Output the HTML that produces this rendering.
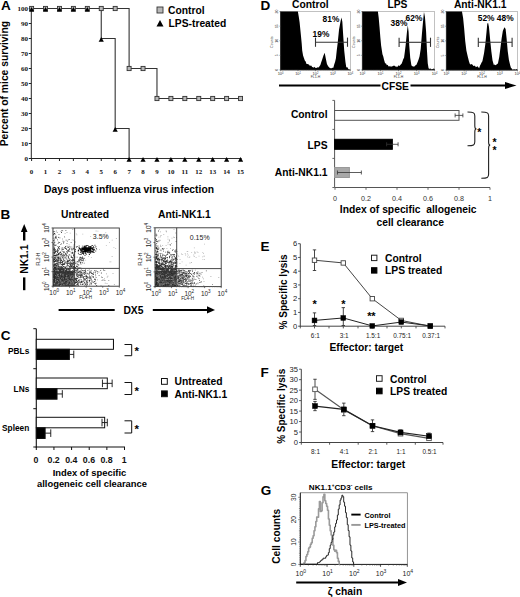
<!DOCTYPE html>
<html><head><meta charset="utf-8"><style>
html,body{margin:0;padding:0;background:#fff;width:520px;height:597px;overflow:hidden;font-family:"Liberation Sans",sans-serif}
svg{display:block}
</style></head><body>
<svg width="520" height="597" viewBox="0 0 520 597">
<rect width="520" height="597" fill="#fff"/>
<text x="0.90" y="9.90" font-family="Liberation Sans" font-size="13.5" font-weight="bold" text-anchor="start" fill="#000">A</text>
<line x1="31.30" y1="8.00" x2="31.30" y2="159.00" stroke="#222" stroke-width="1"/>
<line x1="30.80" y1="158.50" x2="241.55" y2="158.50" stroke="#222" stroke-width="1"/>
<line x1="28.80" y1="158.50" x2="31.30" y2="158.50" stroke="#222" stroke-width="1"/>
<text x="28.00" y="160.90" font-family="Liberation Serif" font-size="7" font-weight="bold" text-anchor="end" fill="#111">0</text>
<line x1="28.80" y1="143.50" x2="31.30" y2="143.50" stroke="#222" stroke-width="1"/>
<text x="28.00" y="145.90" font-family="Liberation Serif" font-size="7" font-weight="bold" text-anchor="end" fill="#111">10</text>
<line x1="28.80" y1="128.50" x2="31.30" y2="128.50" stroke="#222" stroke-width="1"/>
<text x="28.00" y="130.90" font-family="Liberation Serif" font-size="7" font-weight="bold" text-anchor="end" fill="#111">20</text>
<line x1="28.80" y1="113.50" x2="31.30" y2="113.50" stroke="#222" stroke-width="1"/>
<text x="28.00" y="115.90" font-family="Liberation Serif" font-size="7" font-weight="bold" text-anchor="end" fill="#111">30</text>
<line x1="28.80" y1="98.50" x2="31.30" y2="98.50" stroke="#222" stroke-width="1"/>
<text x="28.00" y="100.90" font-family="Liberation Serif" font-size="7" font-weight="bold" text-anchor="end" fill="#111">40</text>
<line x1="28.80" y1="83.50" x2="31.30" y2="83.50" stroke="#222" stroke-width="1"/>
<text x="28.00" y="85.90" font-family="Liberation Serif" font-size="7" font-weight="bold" text-anchor="end" fill="#111">50</text>
<line x1="28.80" y1="68.50" x2="31.30" y2="68.50" stroke="#222" stroke-width="1"/>
<text x="28.00" y="70.90" font-family="Liberation Serif" font-size="7" font-weight="bold" text-anchor="end" fill="#111">60</text>
<line x1="28.80" y1="53.50" x2="31.30" y2="53.50" stroke="#222" stroke-width="1"/>
<text x="28.00" y="55.90" font-family="Liberation Serif" font-size="7" font-weight="bold" text-anchor="end" fill="#111">70</text>
<line x1="28.80" y1="38.50" x2="31.30" y2="38.50" stroke="#222" stroke-width="1"/>
<text x="28.00" y="40.90" font-family="Liberation Serif" font-size="7" font-weight="bold" text-anchor="end" fill="#111">80</text>
<line x1="28.80" y1="23.50" x2="31.30" y2="23.50" stroke="#222" stroke-width="1"/>
<text x="28.00" y="25.90" font-family="Liberation Serif" font-size="7" font-weight="bold" text-anchor="end" fill="#111">90</text>
<line x1="28.80" y1="8.50" x2="31.30" y2="8.50" stroke="#222" stroke-width="1"/>
<text x="28.00" y="10.90" font-family="Liberation Serif" font-size="7" font-weight="bold" text-anchor="end" fill="#111">100</text>
<line x1="31.60" y1="158.50" x2="31.60" y2="161.00" stroke="#222" stroke-width="1"/>
<text x="31.60" y="173.70" font-family="Liberation Serif" font-size="6.9" font-weight="bold" text-anchor="middle" fill="#111">0</text>
<line x1="45.53" y1="158.50" x2="45.53" y2="161.00" stroke="#222" stroke-width="1"/>
<text x="45.53" y="173.70" font-family="Liberation Serif" font-size="6.9" font-weight="bold" text-anchor="middle" fill="#111">1</text>
<line x1="59.46" y1="158.50" x2="59.46" y2="161.00" stroke="#222" stroke-width="1"/>
<text x="59.46" y="173.70" font-family="Liberation Serif" font-size="6.9" font-weight="bold" text-anchor="middle" fill="#111">2</text>
<line x1="73.39" y1="158.50" x2="73.39" y2="161.00" stroke="#222" stroke-width="1"/>
<text x="73.39" y="173.70" font-family="Liberation Serif" font-size="6.9" font-weight="bold" text-anchor="middle" fill="#111">3</text>
<line x1="87.32" y1="158.50" x2="87.32" y2="161.00" stroke="#222" stroke-width="1"/>
<text x="87.32" y="173.70" font-family="Liberation Serif" font-size="6.9" font-weight="bold" text-anchor="middle" fill="#111">4</text>
<line x1="101.25" y1="158.50" x2="101.25" y2="161.00" stroke="#222" stroke-width="1"/>
<text x="101.25" y="173.70" font-family="Liberation Serif" font-size="6.9" font-weight="bold" text-anchor="middle" fill="#111">5</text>
<line x1="115.18" y1="158.50" x2="115.18" y2="161.00" stroke="#222" stroke-width="1"/>
<text x="115.18" y="173.70" font-family="Liberation Serif" font-size="6.9" font-weight="bold" text-anchor="middle" fill="#111">6</text>
<line x1="129.11" y1="158.50" x2="129.11" y2="161.00" stroke="#222" stroke-width="1"/>
<text x="129.11" y="173.70" font-family="Liberation Serif" font-size="6.9" font-weight="bold" text-anchor="middle" fill="#111">7</text>
<line x1="143.04" y1="158.50" x2="143.04" y2="161.00" stroke="#222" stroke-width="1"/>
<text x="143.04" y="173.70" font-family="Liberation Serif" font-size="6.9" font-weight="bold" text-anchor="middle" fill="#111">8</text>
<line x1="156.97" y1="158.50" x2="156.97" y2="161.00" stroke="#222" stroke-width="1"/>
<text x="156.97" y="173.70" font-family="Liberation Serif" font-size="6.9" font-weight="bold" text-anchor="middle" fill="#111">9</text>
<line x1="170.90" y1="158.50" x2="170.90" y2="161.00" stroke="#222" stroke-width="1"/>
<text x="170.90" y="173.70" font-family="Liberation Serif" font-size="6.9" font-weight="bold" text-anchor="middle" fill="#111">10</text>
<line x1="184.83" y1="158.50" x2="184.83" y2="161.00" stroke="#222" stroke-width="1"/>
<text x="184.83" y="173.70" font-family="Liberation Serif" font-size="6.9" font-weight="bold" text-anchor="middle" fill="#111">11</text>
<line x1="198.76" y1="158.50" x2="198.76" y2="161.00" stroke="#222" stroke-width="1"/>
<text x="198.76" y="173.70" font-family="Liberation Serif" font-size="6.9" font-weight="bold" text-anchor="middle" fill="#111">12</text>
<line x1="212.69" y1="158.50" x2="212.69" y2="161.00" stroke="#222" stroke-width="1"/>
<text x="212.69" y="173.70" font-family="Liberation Serif" font-size="6.9" font-weight="bold" text-anchor="middle" fill="#111">13</text>
<line x1="226.62" y1="158.50" x2="226.62" y2="161.00" stroke="#222" stroke-width="1"/>
<text x="226.62" y="173.70" font-family="Liberation Serif" font-size="6.9" font-weight="bold" text-anchor="middle" fill="#111">14</text>
<line x1="240.55" y1="158.50" x2="240.55" y2="161.00" stroke="#222" stroke-width="1"/>
<text x="240.55" y="173.70" font-family="Liberation Serif" font-size="6.9" font-weight="bold" text-anchor="middle" fill="#111">15</text>
<text x="8.20" y="83.70" font-family="Liberation Sans" font-size="10.3" font-weight="bold" text-anchor="middle" fill="#000" transform="rotate(-90 8.2 83.7)">Percent of mice surviving</text>
<text x="129.00" y="193.20" font-family="Liberation Sans" font-size="10.3" font-weight="bold" text-anchor="middle" fill="#000">Days post influenza virus infection</text>
<polyline points="31.60,8.50 45.53,8.50 59.46,8.50 73.39,8.50 87.32,8.50 101.25,8.50 115.18,8.50 129.11,8.50 129.11,68.50 143.04,68.50 156.97,68.50 156.97,98.50 170.90,98.50 184.83,98.50 198.76,98.50 212.69,98.50 226.62,98.50 240.55,98.50" fill="none" stroke="#333" stroke-width="1.1"/>
<polyline points="31.60,8.50 45.53,8.50 59.46,8.50 73.39,8.50 87.32,8.50 101.25,8.50 101.25,38.50 115.18,38.50 115.18,128.50 129.11,128.50 129.11,158.50 143.04,158.50 156.97,158.50 170.90,158.50 184.83,158.50 198.76,158.50 212.69,158.50 226.62,158.50 240.55,158.50" fill="none" stroke="#333" stroke-width="1.1"/>
<rect x="29.60" y="6.40" width="4.00" height="4.20" fill="#b8b8b8" stroke="#333" stroke-width="0.9"/>
<rect x="43.53" y="6.40" width="4.00" height="4.20" fill="#b8b8b8" stroke="#333" stroke-width="0.9"/>
<rect x="57.46" y="6.40" width="4.00" height="4.20" fill="#b8b8b8" stroke="#333" stroke-width="0.9"/>
<rect x="71.39" y="6.40" width="4.00" height="4.20" fill="#b8b8b8" stroke="#333" stroke-width="0.9"/>
<rect x="85.32" y="6.40" width="4.00" height="4.20" fill="#b8b8b8" stroke="#333" stroke-width="0.9"/>
<rect x="99.25" y="6.40" width="4.00" height="4.20" fill="#b8b8b8" stroke="#333" stroke-width="0.9"/>
<rect x="113.18" y="6.40" width="4.00" height="4.20" fill="#b8b8b8" stroke="#333" stroke-width="0.9"/>
<rect x="127.11" y="66.40" width="4.00" height="4.20" fill="#b8b8b8" stroke="#333" stroke-width="0.9"/>
<rect x="141.04" y="66.40" width="4.00" height="4.20" fill="#b8b8b8" stroke="#333" stroke-width="0.9"/>
<rect x="154.97" y="96.40" width="4.00" height="4.20" fill="#b8b8b8" stroke="#333" stroke-width="0.9"/>
<rect x="168.90" y="96.40" width="4.00" height="4.20" fill="#b8b8b8" stroke="#333" stroke-width="0.9"/>
<rect x="182.83" y="96.40" width="4.00" height="4.20" fill="#b8b8b8" stroke="#333" stroke-width="0.9"/>
<rect x="196.76" y="96.40" width="4.00" height="4.20" fill="#b8b8b8" stroke="#333" stroke-width="0.9"/>
<rect x="210.69" y="96.40" width="4.00" height="4.20" fill="#b8b8b8" stroke="#333" stroke-width="0.9"/>
<rect x="224.62" y="96.40" width="4.00" height="4.20" fill="#b8b8b8" stroke="#333" stroke-width="0.9"/>
<rect x="238.55" y="96.40" width="4.00" height="4.20" fill="#b8b8b8" stroke="#333" stroke-width="0.9"/>
<polygon points="29.00,11.69 34.20,11.69 31.60,6.91" fill="#000"/>
<polygon points="42.93,11.69 48.13,11.69 45.53,6.91" fill="#000"/>
<polygon points="56.86,11.69 62.06,11.69 59.46,6.91" fill="#000"/>
<polygon points="70.79,11.69 75.99,11.69 73.39,6.91" fill="#000"/>
<polygon points="84.72,11.69 89.92,11.69 87.32,6.91" fill="#000"/>
<polygon points="98.65,41.69 103.85,41.69 101.25,36.91" fill="#000"/>
<polygon points="112.58,131.69 117.78,131.69 115.18,126.91" fill="#000"/>
<polygon points="126.51,161.69 131.71,161.69 129.11,156.91" fill="#000"/>
<polygon points="140.44,161.69 145.64,161.69 143.04,156.91" fill="#000"/>
<polygon points="154.37,161.69 159.57,161.69 156.97,156.91" fill="#000"/>
<polygon points="168.30,161.69 173.50,161.69 170.90,156.91" fill="#000"/>
<polygon points="182.23,161.69 187.43,161.69 184.83,156.91" fill="#000"/>
<polygon points="196.16,161.69 201.36,161.69 198.76,156.91" fill="#000"/>
<polygon points="210.09,161.69 215.29,161.69 212.69,156.91" fill="#000"/>
<polygon points="224.02,161.69 229.22,161.69 226.62,156.91" fill="#000"/>
<polygon points="237.95,161.69 243.15,161.69 240.55,156.91" fill="#000"/>
<rect x="157.00" y="7.00" width="6.00" height="6.00" fill="#b8b8b8" stroke="#333" stroke-width="0.9"/>
<text x="168.00" y="14.20" font-family="Liberation Sans" font-size="10.3" font-weight="bold" text-anchor="start" fill="#000">Control</text>
<polygon points="156.50,26.42 163.50,26.42 160.00,19.98" fill="#000"/>
<text x="168.50" y="27.40" font-family="Liberation Sans" font-size="10.3" font-weight="bold" text-anchor="start" fill="#000">LPS-treated</text>
<text x="0.40" y="218.80" font-family="Liberation Sans" font-size="13.5" font-weight="bold" text-anchor="start" fill="#000">B</text>
<text x="85.00" y="217.80" font-family="Liberation Sans" font-size="10.3" font-weight="bold" text-anchor="middle" fill="#000">Untreated</text>
<text x="184.40" y="217.80" font-family="Liberation Sans" font-size="10.3" font-weight="bold" text-anchor="middle" fill="#000">Anti-NK1.1</text>
<rect x="53.00" y="228.00" width="66.30" height="58.20" fill="#fff" stroke="none" stroke-width="1"/>
<path d="M60.0 244.0h0.8v0.8h-0.8zM54.6 234.1h0.8v0.8h-0.8zM64.6 262.5h0.8v0.8h-0.8zM64.0 261.7h0.8v0.8h-0.8zM53.8 259.0h0.8v0.8h-0.8zM55.0 264.8h0.8v0.8h-0.8zM62.2 262.2h0.8v0.8h-0.8zM57.8 255.7h0.8v0.8h-0.8zM66.6 232.1h0.8v0.8h-0.8zM61.6 256.7h0.8v0.8h-0.8zM59.3 252.3h0.8v0.8h-0.8zM56.1 250.4h0.8v0.8h-0.8zM70.6 252.0h0.8v0.8h-0.8zM56.9 232.1h0.8v0.8h-0.8zM61.0 248.4h0.8v0.8h-0.8zM64.8 259.7h0.8v0.8h-0.8zM57.4 265.4h0.8v0.8h-0.8zM67.7 246.0h0.8v0.8h-0.8zM65.6 258.0h0.8v0.8h-0.8zM62.8 253.0h0.8v0.8h-0.8zM58.3 236.7h0.8v0.8h-0.8zM71.9 252.9h0.8v0.8h-0.8zM68.8 249.6h0.8v0.8h-0.8zM62.0 268.6h0.8v0.8h-0.8zM63.6 252.2h0.8v0.8h-0.8zM53.8 244.3h0.8v0.8h-0.8zM71.9 251.4h0.8v0.8h-0.8zM73.4 253.8h0.8v0.8h-0.8zM63.2 263.9h0.8v0.8h-0.8zM68.2 260.3h0.8v0.8h-0.8zM59.1 267.0h0.8v0.8h-0.8zM61.3 266.3h0.8v0.8h-0.8zM63.0 263.8h0.8v0.8h-0.8zM56.6 261.6h0.8v0.8h-0.8zM69.6 262.4h0.8v0.8h-0.8zM55.8 269.0h0.8v0.8h-0.8zM71.8 239.5h0.8v0.8h-0.8zM54.7 233.4h0.8v0.8h-0.8zM72.1 257.5h0.8v0.8h-0.8zM70.7 253.5h0.8v0.8h-0.8zM62.0 251.1h0.8v0.8h-0.8zM56.8 266.9h0.8v0.8h-0.8zM63.5 247.7h0.8v0.8h-0.8zM65.7 269.2h0.8v0.8h-0.8zM62.0 266.7h0.8v0.8h-0.8zM67.9 239.4h0.8v0.8h-0.8zM64.1 236.1h0.8v0.8h-0.8zM54.2 239.1h0.8v0.8h-0.8zM72.4 258.0h0.8v0.8h-0.8zM61.5 258.1h0.8v0.8h-0.8zM66.7 261.1h0.8v0.8h-0.8zM54.3 250.7h0.8v0.8h-0.8zM56.5 261.0h0.8v0.8h-0.8zM60.3 268.8h0.8v0.8h-0.8zM56.3 269.2h0.8v0.8h-0.8zM55.2 264.9h0.8v0.8h-0.8zM71.9 264.2h0.8v0.8h-0.8zM66.3 255.8h0.8v0.8h-0.8zM60.5 251.0h0.8v0.8h-0.8zM63.1 256.8h0.8v0.8h-0.8zM55.2 268.1h0.8v0.8h-0.8zM60.4 264.2h0.8v0.8h-0.8zM53.5 234.4h0.8v0.8h-0.8zM56.2 258.3h0.8v0.8h-0.8zM64.7 233.2h0.8v0.8h-0.8zM74.1 263.2h0.8v0.8h-0.8zM71.6 261.7h0.8v0.8h-0.8zM60.9 247.4h0.8v0.8h-0.8zM56.6 264.3h0.8v0.8h-0.8zM69.8 232.8h0.8v0.8h-0.8zM60.1 260.2h0.8v0.8h-0.8zM71.4 250.3h0.8v0.8h-0.8zM57.9 241.4h0.8v0.8h-0.8zM53.6 266.3h0.8v0.8h-0.8zM53.6 265.1h0.8v0.8h-0.8zM68.0 246.6h0.8v0.8h-0.8zM74.3 246.4h0.8v0.8h-0.8zM73.6 255.4h0.8v0.8h-0.8zM57.9 253.5h0.8v0.8h-0.8zM57.2 257.5h0.8v0.8h-0.8zM72.4 229.1h0.8v0.8h-0.8zM70.3 263.8h0.8v0.8h-0.8zM54.8 234.3h0.8v0.8h-0.8zM69.2 250.8h0.8v0.8h-0.8zM70.0 266.8h0.8v0.8h-0.8zM60.2 244.3h0.8v0.8h-0.8zM56.7 253.6h0.8v0.8h-0.8zM55.7 231.5h0.8v0.8h-0.8zM56.2 230.5h0.8v0.8h-0.8zM60.6 254.2h0.8v0.8h-0.8zM53.3 264.6h0.8v0.8h-0.8zM74.0 247.8h0.8v0.8h-0.8zM73.2 239.8h0.8v0.8h-0.8zM62.4 230.5h0.8v0.8h-0.8zM58.4 263.5h0.8v0.8h-0.8zM65.7 248.0h0.8v0.8h-0.8zM58.6 255.5h0.8v0.8h-0.8zM72.7 261.7h0.8v0.8h-0.8zM60.6 231.1h0.8v0.8h-0.8zM72.5 259.1h0.8v0.8h-0.8zM62.1 238.6h0.8v0.8h-0.8zM64.5 251.9h0.8v0.8h-0.8zM64.3 237.3h0.8v0.8h-0.8zM57.0 265.6h0.8v0.8h-0.8zM53.1 263.8h0.8v0.8h-0.8zM63.2 251.8h0.8v0.8h-0.8zM68.7 244.4h0.8v0.8h-0.8zM64.2 260.1h0.8v0.8h-0.8zM65.0 266.4h0.8v0.8h-0.8zM65.1 255.5h0.8v0.8h-0.8z" fill="#999"/>
<path d="M58.4 265.6h0.8v0.8h-0.8zM64.0 247.4h0.8v0.8h-0.8zM65.1 267.6h0.8v0.8h-0.8zM62.6 240.8h0.8v0.8h-0.8zM66.2 253.8h0.8v0.8h-0.8zM68.0 268.9h0.8v0.8h-0.8zM62.8 254.9h0.8v0.8h-0.8zM73.3 266.3h0.8v0.8h-0.8zM68.1 247.2h0.8v0.8h-0.8zM58.6 247.7h0.8v0.8h-0.8zM65.1 246.1h0.8v0.8h-0.8zM56.0 260.7h0.8v0.8h-0.8zM55.6 264.7h0.8v0.8h-0.8zM58.2 267.6h0.8v0.8h-0.8zM54.6 258.4h0.8v0.8h-0.8zM72.4 249.5h0.8v0.8h-0.8zM56.3 265.4h0.8v0.8h-0.8zM56.1 250.7h0.8v0.8h-0.8zM72.1 260.4h0.8v0.8h-0.8zM73.6 267.5h0.8v0.8h-0.8zM61.6 230.1h0.8v0.8h-0.8zM71.0 266.2h0.8v0.8h-0.8zM56.5 255.2h0.8v0.8h-0.8zM60.3 262.9h0.8v0.8h-0.8zM57.2 260.7h0.8v0.8h-0.8zM53.4 250.5h0.8v0.8h-0.8zM65.0 267.1h0.8v0.8h-0.8zM60.2 268.5h0.8v0.8h-0.8zM66.5 264.7h0.8v0.8h-0.8zM74.3 269.0h0.8v0.8h-0.8zM70.0 263.4h0.8v0.8h-0.8zM58.7 268.3h0.8v0.8h-0.8zM53.9 267.5h0.8v0.8h-0.8zM55.8 259.2h0.8v0.8h-0.8zM62.1 249.0h0.8v0.8h-0.8zM58.6 256.7h0.8v0.8h-0.8zM56.2 254.6h0.8v0.8h-0.8zM68.1 261.2h0.8v0.8h-0.8zM54.9 250.8h0.8v0.8h-0.8zM62.2 262.4h0.8v0.8h-0.8zM54.6 252.3h0.8v0.8h-0.8zM70.3 262.4h0.8v0.8h-0.8zM54.8 266.4h0.8v0.8h-0.8zM71.6 265.6h0.8v0.8h-0.8zM62.8 260.6h0.8v0.8h-0.8zM73.0 255.4h0.8v0.8h-0.8zM58.8 258.5h0.8v0.8h-0.8zM58.2 257.9h0.8v0.8h-0.8zM55.4 267.2h0.8v0.8h-0.8zM57.4 265.9h0.8v0.8h-0.8zM59.7 262.0h0.8v0.8h-0.8zM59.3 248.8h0.8v0.8h-0.8zM63.8 264.1h0.8v0.8h-0.8zM53.4 258.6h0.8v0.8h-0.8zM58.4 248.4h0.8v0.8h-0.8zM64.9 267.4h0.8v0.8h-0.8zM57.1 239.4h0.8v0.8h-0.8zM55.3 264.6h0.8v0.8h-0.8zM70.7 255.6h0.8v0.8h-0.8zM71.0 263.1h0.8v0.8h-0.8zM61.5 249.6h0.8v0.8h-0.8zM74.2 268.6h0.8v0.8h-0.8zM60.4 259.3h0.8v0.8h-0.8zM66.7 251.7h0.8v0.8h-0.8zM61.7 266.9h0.8v0.8h-0.8zM55.8 265.8h0.8v0.8h-0.8zM54.5 268.8h0.8v0.8h-0.8zM56.5 259.4h0.8v0.8h-0.8zM54.8 255.1h0.8v0.8h-0.8zM67.5 247.3h0.8v0.8h-0.8zM59.1 268.9h0.8v0.8h-0.8zM62.9 258.6h0.8v0.8h-0.8zM56.4 259.8h0.8v0.8h-0.8zM73.8 266.0h0.8v0.8h-0.8zM74.0 260.1h0.8v0.8h-0.8zM73.9 266.6h0.8v0.8h-0.8zM59.7 269.0h0.8v0.8h-0.8zM61.2 268.9h0.8v0.8h-0.8zM63.3 260.7h0.8v0.8h-0.8zM63.9 269.2h0.8v0.8h-0.8zM53.1 268.9h0.8v0.8h-0.8zM61.6 263.8h0.8v0.8h-0.8zM53.9 258.4h0.8v0.8h-0.8zM58.0 267.8h0.8v0.8h-0.8zM65.6 248.1h0.8v0.8h-0.8zM67.2 265.4h0.8v0.8h-0.8zM68.5 260.0h0.8v0.8h-0.8zM60.0 260.5h0.8v0.8h-0.8zM74.3 257.1h0.8v0.8h-0.8zM66.9 252.6h0.8v0.8h-0.8zM53.9 255.4h0.8v0.8h-0.8zM66.6 245.8h0.8v0.8h-0.8zM68.9 266.7h0.8v0.8h-0.8zM64.3 262.8h0.8v0.8h-0.8zM63.9 257.4h0.8v0.8h-0.8zM70.9 249.2h0.8v0.8h-0.8zM65.6 254.0h0.8v0.8h-0.8zM68.0 257.1h0.8v0.8h-0.8zM58.0 262.6h0.8v0.8h-0.8zM60.8 268.0h0.8v0.8h-0.8zM55.3 260.9h0.8v0.8h-0.8zM66.6 255.1h0.8v0.8h-0.8zM66.5 263.0h0.8v0.8h-0.8zM53.1 255.7h0.8v0.8h-0.8zM70.2 269.2h0.8v0.8h-0.8zM64.6 254.0h0.8v0.8h-0.8zM67.2 250.0h0.8v0.8h-0.8zM58.4 260.8h0.8v0.8h-0.8zM54.6 267.3h0.8v0.8h-0.8zM57.4 248.5h0.8v0.8h-0.8zM69.0 254.4h0.8v0.8h-0.8zM61.3 267.1h0.8v0.8h-0.8zM63.3 260.4h0.8v0.8h-0.8zM66.3 249.1h0.8v0.8h-0.8zM66.9 262.9h0.8v0.8h-0.8zM58.5 266.0h0.8v0.8h-0.8zM69.1 263.8h0.8v0.8h-0.8zM53.3 253.5h0.8v0.8h-0.8zM54.3 267.1h0.8v0.8h-0.8zM68.0 250.1h0.8v0.8h-0.8zM67.6 265.4h0.8v0.8h-0.8zM63.0 254.2h0.8v0.8h-0.8zM63.1 249.2h0.8v0.8h-0.8zM57.3 250.7h0.8v0.8h-0.8zM74.1 267.2h0.8v0.8h-0.8zM62.9 268.4h0.8v0.8h-0.8zM70.7 255.5h0.8v0.8h-0.8zM58.8 266.6h0.8v0.8h-0.8zM57.5 261.0h0.8v0.8h-0.8zM65.6 266.4h0.8v0.8h-0.8zM56.1 237.6h0.8v0.8h-0.8zM55.9 264.6h0.8v0.8h-0.8zM70.7 242.3h0.8v0.8h-0.8zM68.2 267.9h0.8v0.8h-0.8zM58.0 257.4h0.8v0.8h-0.8zM53.5 260.4h0.8v0.8h-0.8zM53.1 255.2h0.8v0.8h-0.8zM59.5 268.7h0.8v0.8h-0.8zM56.0 263.1h0.8v0.8h-0.8zM71.1 260.0h0.8v0.8h-0.8zM53.0 269.3h0.8v0.8h-0.8zM55.6 244.5h0.8v0.8h-0.8zM73.0 263.0h0.8v0.8h-0.8zM59.3 242.2h0.8v0.8h-0.8zM61.0 232.1h0.8v0.8h-0.8zM65.7 239.7h0.8v0.8h-0.8zM60.8 260.0h0.8v0.8h-0.8zM54.0 264.8h0.8v0.8h-0.8zM55.2 264.0h0.8v0.8h-0.8zM73.2 260.2h0.8v0.8h-0.8zM58.4 267.9h0.8v0.8h-0.8zM57.1 253.9h0.8v0.8h-0.8zM61.1 243.4h0.8v0.8h-0.8zM70.5 262.1h0.8v0.8h-0.8zM66.6 243.0h0.8v0.8h-0.8zM64.9 253.4h0.8v0.8h-0.8zM68.5 249.3h0.8v0.8h-0.8zM62.7 262.9h0.8v0.8h-0.8zM69.3 262.8h0.8v0.8h-0.8zM54.1 261.0h0.8v0.8h-0.8zM73.0 259.2h0.8v0.8h-0.8zM60.4 258.9h0.8v0.8h-0.8zM59.4 267.0h0.8v0.8h-0.8zM58.6 233.9h0.8v0.8h-0.8zM67.2 264.2h0.8v0.8h-0.8zM61.5 253.6h0.8v0.8h-0.8zM56.6 264.7h0.8v0.8h-0.8zM72.6 261.9h0.8v0.8h-0.8zM63.7 264.1h0.8v0.8h-0.8zM74.5 241.6h0.8v0.8h-0.8zM62.7 264.0h0.8v0.8h-0.8zM55.0 262.9h0.8v0.8h-0.8zM60.4 261.3h0.8v0.8h-0.8zM58.6 264.2h0.8v0.8h-0.8zM65.3 253.0h0.8v0.8h-0.8zM61.9 255.3h0.8v0.8h-0.8zM61.9 256.9h0.8v0.8h-0.8zM60.3 267.5h0.8v0.8h-0.8zM54.3 263.5h0.8v0.8h-0.8zM55.7 235.8h0.8v0.8h-0.8zM63.9 251.6h0.8v0.8h-0.8zM57.7 250.6h0.8v0.8h-0.8zM58.9 269.3h0.8v0.8h-0.8zM62.6 256.3h0.8v0.8h-0.8zM73.6 254.1h0.8v0.8h-0.8zM53.5 247.9h0.8v0.8h-0.8zM53.7 262.4h0.8v0.8h-0.8zM63.2 242.6h0.8v0.8h-0.8zM65.7 256.4h0.8v0.8h-0.8zM73.0 269.4h0.8v0.8h-0.8zM70.8 248.0h0.8v0.8h-0.8zM58.4 242.0h0.8v0.8h-0.8zM55.4 260.5h0.8v0.8h-0.8zM67.7 256.4h0.8v0.8h-0.8zM73.3 266.1h0.8v0.8h-0.8zM69.5 250.9h0.8v0.8h-0.8zM62.9 265.9h0.8v0.8h-0.8zM69.9 268.2h0.8v0.8h-0.8zM58.0 253.0h0.8v0.8h-0.8zM59.6 260.4h0.8v0.8h-0.8zM55.8 269.2h0.8v0.8h-0.8zM68.1 250.9h0.8v0.8h-0.8zM55.4 255.1h0.8v0.8h-0.8zM65.6 262.6h0.8v0.8h-0.8zM61.4 266.5h0.8v0.8h-0.8zM53.2 252.0h0.8v0.8h-0.8zM59.5 237.5h0.8v0.8h-0.8zM66.9 261.4h0.8v0.8h-0.8zM72.1 260.0h0.8v0.8h-0.8zM58.3 267.9h0.8v0.8h-0.8zM73.7 266.3h0.8v0.8h-0.8zM53.5 258.7h0.8v0.8h-0.8zM63.8 263.2h0.8v0.8h-0.8zM58.6 257.3h0.8v0.8h-0.8zM67.4 261.1h0.8v0.8h-0.8zM53.7 265.2h0.8v0.8h-0.8zM60.3 252.1h0.8v0.8h-0.8zM57.3 260.0h0.8v0.8h-0.8zM70.2 268.3h0.8v0.8h-0.8zM57.4 254.0h0.8v0.8h-0.8zM73.9 260.3h0.8v0.8h-0.8zM58.0 247.1h0.8v0.8h-0.8zM57.8 268.7h0.8v0.8h-0.8zM73.6 258.6h0.8v0.8h-0.8zM63.7 265.9h0.8v0.8h-0.8zM62.0 260.9h0.8v0.8h-0.8zM67.4 262.5h0.8v0.8h-0.8zM61.5 267.1h0.8v0.8h-0.8zM57.6 262.3h0.8v0.8h-0.8zM54.1 268.2h0.8v0.8h-0.8zM54.3 247.6h0.8v0.8h-0.8zM72.1 252.1h0.8v0.8h-0.8zM68.8 239.3h0.8v0.8h-0.8zM60.1 268.9h0.8v0.8h-0.8zM57.0 249.6h0.8v0.8h-0.8zM53.7 261.0h0.8v0.8h-0.8zM67.4 260.3h0.8v0.8h-0.8zM60.2 260.7h0.8v0.8h-0.8zM56.7 258.9h0.8v0.8h-0.8zM60.6 269.2h0.8v0.8h-0.8zM73.6 245.5h0.8v0.8h-0.8zM57.5 245.9h0.8v0.8h-0.8zM60.7 258.9h0.8v0.8h-0.8zM62.3 247.6h0.8v0.8h-0.8zM54.1 257.0h0.8v0.8h-0.8zM72.9 267.3h0.8v0.8h-0.8zM57.2 251.2h0.8v0.8h-0.8zM53.7 248.5h0.8v0.8h-0.8zM61.9 261.0h0.8v0.8h-0.8zM53.9 248.9h0.8v0.8h-0.8zM53.8 242.4h0.8v0.8h-0.8zM58.6 258.2h0.8v0.8h-0.8zM69.1 259.9h0.8v0.8h-0.8zM58.9 262.4h0.8v0.8h-0.8zM73.7 261.9h0.8v0.8h-0.8zM68.5 262.6h0.8v0.8h-0.8zM59.8 269.2h0.8v0.8h-0.8zM69.3 268.3h0.8v0.8h-0.8zM72.8 248.7h0.8v0.8h-0.8zM53.5 246.2h0.8v0.8h-0.8zM58.1 237.2h0.8v0.8h-0.8zM73.6 264.3h0.8v0.8h-0.8zM61.3 269.3h0.8v0.8h-0.8zM63.7 255.6h0.8v0.8h-0.8zM73.0 259.8h0.8v0.8h-0.8zM69.0 248.0h0.8v0.8h-0.8zM70.8 266.9h0.8v0.8h-0.8zM60.1 251.8h0.8v0.8h-0.8zM59.9 254.7h0.8v0.8h-0.8zM54.7 252.1h0.8v0.8h-0.8zM57.3 269.2h0.8v0.8h-0.8zM54.4 259.6h0.8v0.8h-0.8zM53.7 258.5h0.8v0.8h-0.8zM74.2 265.7h0.8v0.8h-0.8zM72.1 259.2h0.8v0.8h-0.8zM54.8 268.6h0.8v0.8h-0.8zM55.1 249.0h0.8v0.8h-0.8zM62.7 269.2h0.8v0.8h-0.8zM58.1 253.7h0.8v0.8h-0.8zM67.6 260.4h0.8v0.8h-0.8zM69.2 258.4h0.8v0.8h-0.8zM55.6 253.6h0.8v0.8h-0.8zM71.2 264.8h0.8v0.8h-0.8zM61.1 253.2h0.8v0.8h-0.8zM68.9 266.3h0.8v0.8h-0.8zM58.3 260.1h0.8v0.8h-0.8zM56.3 256.6h0.8v0.8h-0.8zM60.0 258.0h0.8v0.8h-0.8zM61.6 253.9h0.8v0.8h-0.8zM58.0 268.7h0.8v0.8h-0.8zM70.5 246.6h0.8v0.8h-0.8zM55.2 236.7h0.8v0.8h-0.8zM63.3 258.9h0.8v0.8h-0.8zM72.8 246.8h0.8v0.8h-0.8zM53.9 267.6h0.8v0.8h-0.8zM57.1 263.1h0.8v0.8h-0.8zM74.0 243.4h0.8v0.8h-0.8zM61.0 254.4h0.8v0.8h-0.8zM71.7 259.8h0.8v0.8h-0.8zM69.8 266.2h0.8v0.8h-0.8zM73.4 255.6h0.8v0.8h-0.8zM66.4 258.6h0.8v0.8h-0.8zM57.7 264.5h0.8v0.8h-0.8zM57.4 264.1h0.8v0.8h-0.8zM58.5 254.1h0.8v0.8h-0.8zM57.4 258.4h0.8v0.8h-0.8zM53.2 260.3h0.8v0.8h-0.8zM57.0 252.1h0.8v0.8h-0.8zM59.7 262.7h0.8v0.8h-0.8zM64.8 247.2h0.8v0.8h-0.8zM54.4 258.9h0.8v0.8h-0.8zM64.9 261.6h0.8v0.8h-0.8zM66.8 262.9h0.8v0.8h-0.8zM68.0 265.2h0.8v0.8h-0.8zM61.9 267.1h0.8v0.8h-0.8zM73.6 258.5h0.8v0.8h-0.8zM59.7 258.2h0.8v0.8h-0.8zM62.0 264.4h0.8v0.8h-0.8zM71.7 257.0h0.8v0.8h-0.8zM57.3 269.1h0.8v0.8h-0.8zM68.7 269.0h0.8v0.8h-0.8zM72.5 268.0h0.8v0.8h-0.8zM62.2 263.7h0.8v0.8h-0.8zM72.1 257.4h0.8v0.8h-0.8zM63.0 268.2h0.8v0.8h-0.8zM64.9 267.5h0.8v0.8h-0.8zM66.8 264.7h0.8v0.8h-0.8zM66.4 266.4h0.8v0.8h-0.8zM61.0 262.1h0.8v0.8h-0.8zM59.1 269.2h0.8v0.8h-0.8zM64.3 263.8h0.8v0.8h-0.8zM63.6 266.6h0.8v0.8h-0.8zM70.4 261.0h0.8v0.8h-0.8zM55.7 267.6h0.8v0.8h-0.8zM73.4 254.6h0.8v0.8h-0.8zM54.2 267.1h0.8v0.8h-0.8zM73.0 247.9h0.8v0.8h-0.8zM66.4 251.2h0.8v0.8h-0.8zM70.8 257.2h0.8v0.8h-0.8zM57.8 250.1h0.8v0.8h-0.8zM61.7 255.5h0.8v0.8h-0.8zM57.0 249.3h0.8v0.8h-0.8zM57.7 256.7h0.8v0.8h-0.8zM61.3 260.1h0.8v0.8h-0.8zM55.7 269.0h0.8v0.8h-0.8zM72.4 248.5h0.8v0.8h-0.8zM53.9 249.2h0.8v0.8h-0.8zM53.8 261.0h0.8v0.8h-0.8zM71.1 256.4h0.8v0.8h-0.8zM64.9 257.5h0.8v0.8h-0.8zM66.5 264.7h0.8v0.8h-0.8zM65.6 256.7h0.8v0.8h-0.8zM62.2 261.7h0.8v0.8h-0.8zM62.5 257.5h0.8v0.8h-0.8zM53.5 258.3h0.8v0.8h-0.8zM58.1 259.2h0.8v0.8h-0.8zM69.5 266.7h0.8v0.8h-0.8zM56.9 255.3h0.8v0.8h-0.8zM63.2 264.1h0.8v0.8h-0.8zM62.3 265.2h0.8v0.8h-0.8zM55.0 254.9h0.8v0.8h-0.8zM53.9 263.9h0.8v0.8h-0.8zM66.7 251.0h0.8v0.8h-0.8zM69.8 259.0h0.8v0.8h-0.8zM64.0 254.9h0.8v0.8h-0.8zM61.2 264.3h0.8v0.8h-0.8zM73.5 252.6h0.8v0.8h-0.8zM74.5 250.0h0.8v0.8h-0.8zM68.8 266.0h0.8v0.8h-0.8zM74.2 261.6h0.8v0.8h-0.8zM63.6 241.5h0.8v0.8h-0.8zM56.6 261.6h0.8v0.8h-0.8zM70.0 265.1h0.8v0.8h-0.8zM60.6 267.4h0.8v0.8h-0.8zM69.3 254.4h0.8v0.8h-0.8zM58.9 246.1h0.8v0.8h-0.8zM70.6 259.9h0.8v0.8h-0.8zM72.9 257.4h0.8v0.8h-0.8zM57.5 268.2h0.8v0.8h-0.8zM59.9 254.0h0.8v0.8h-0.8zM53.8 266.2h0.8v0.8h-0.8zM73.2 262.4h0.8v0.8h-0.8zM67.7 263.1h0.8v0.8h-0.8zM70.0 264.6h0.8v0.8h-0.8zM55.5 251.3h0.8v0.8h-0.8zM60.8 265.9h0.8v0.8h-0.8zM71.9 253.3h0.8v0.8h-0.8zM72.1 263.6h0.8v0.8h-0.8zM55.3 251.1h0.8v0.8h-0.8zM61.5 268.6h0.8v0.8h-0.8zM70.2 265.7h0.8v0.8h-0.8zM65.5 229.9h0.8v0.8h-0.8zM60.8 268.1h0.8v0.8h-0.8zM56.8 255.4h0.8v0.8h-0.8zM69.1 246.4h0.8v0.8h-0.8zM58.5 262.2h0.8v0.8h-0.8zM66.8 252.2h0.8v0.8h-0.8zM67.3 267.7h0.8v0.8h-0.8zM59.8 266.0h0.8v0.8h-0.8zM56.2 269.4h0.8v0.8h-0.8zM66.3 255.2h0.8v0.8h-0.8zM72.3 263.0h0.8v0.8h-0.8zM55.9 266.7h0.8v0.8h-0.8zM53.5 250.7h0.8v0.8h-0.8zM53.1 265.6h0.8v0.8h-0.8zM60.7 264.5h0.8v0.8h-0.8zM57.8 254.4h0.8v0.8h-0.8zM57.4 260.7h0.8v0.8h-0.8zM66.5 262.5h0.8v0.8h-0.8zM73.2 268.3h0.8v0.8h-0.8zM58.3 266.0h0.8v0.8h-0.8zM66.8 264.7h0.8v0.8h-0.8zM71.8 266.8h0.8v0.8h-0.8zM58.7 256.5h0.8v0.8h-0.8zM53.2 259.2h0.8v0.8h-0.8zM60.6 256.2h0.8v0.8h-0.8zM66.9 240.7h0.8v0.8h-0.8zM68.8 258.8h0.8v0.8h-0.8zM58.4 266.2h0.8v0.8h-0.8zM64.5 267.2h0.8v0.8h-0.8zM61.8 269.1h0.8v0.8h-0.8zM69.8 264.9h0.8v0.8h-0.8zM53.3 240.0h0.8v0.8h-0.8zM56.1 259.7h0.8v0.8h-0.8zM57.3 257.4h0.8v0.8h-0.8zM66.9 259.7h0.8v0.8h-0.8zM70.6 264.3h0.8v0.8h-0.8zM59.5 259.4h0.8v0.8h-0.8zM54.0 252.0h0.8v0.8h-0.8zM68.5 254.8h0.8v0.8h-0.8zM53.1 257.4h0.8v0.8h-0.8zM63.0 251.6h0.8v0.8h-0.8zM69.0 260.5h0.8v0.8h-0.8zM55.3 266.7h0.8v0.8h-0.8zM58.0 258.0h0.8v0.8h-0.8zM69.2 266.6h0.8v0.8h-0.8zM68.0 257.8h0.8v0.8h-0.8zM58.7 252.5h0.8v0.8h-0.8zM65.0 248.3h0.8v0.8h-0.8zM64.3 260.4h0.8v0.8h-0.8zM58.7 248.3h0.8v0.8h-0.8zM57.7 243.2h0.8v0.8h-0.8zM72.0 259.3h0.8v0.8h-0.8zM58.1 268.4h0.8v0.8h-0.8zM69.1 249.2h0.8v0.8h-0.8zM60.1 262.1h0.8v0.8h-0.8zM72.0 264.8h0.8v0.8h-0.8zM72.6 260.9h0.8v0.8h-0.8zM66.6 262.6h0.8v0.8h-0.8zM74.1 251.4h0.8v0.8h-0.8zM63.1 258.7h0.8v0.8h-0.8zM71.5 252.4h0.8v0.8h-0.8zM62.4 266.7h0.8v0.8h-0.8zM59.6 252.7h0.8v0.8h-0.8zM57.6 265.6h0.8v0.8h-0.8zM72.7 265.8h0.8v0.8h-0.8zM56.1 263.3h0.8v0.8h-0.8zM73.1 268.4h0.8v0.8h-0.8zM60.4 267.4h0.8v0.8h-0.8zM53.9 267.0h0.8v0.8h-0.8zM68.0 256.0h0.8v0.8h-0.8zM68.9 254.4h0.8v0.8h-0.8zM54.4 259.0h0.8v0.8h-0.8zM70.7 262.7h0.8v0.8h-0.8zM70.7 265.7h0.8v0.8h-0.8zM71.7 266.4h0.8v0.8h-0.8zM72.8 263.6h0.8v0.8h-0.8zM57.4 267.3h0.8v0.8h-0.8zM55.4 244.8h0.8v0.8h-0.8zM70.5 264.0h0.8v0.8h-0.8zM66.7 261.1h0.8v0.8h-0.8zM59.2 253.0h0.8v0.8h-0.8zM55.2 251.5h0.8v0.8h-0.8zM57.4 256.8h0.8v0.8h-0.8zM59.9 267.0h0.8v0.8h-0.8zM58.5 268.2h0.8v0.8h-0.8zM59.1 266.7h0.8v0.8h-0.8zM59.9 257.2h0.8v0.8h-0.8zM73.8 244.0h0.8v0.8h-0.8zM66.4 268.8h0.8v0.8h-0.8z" fill="#2a2a2a"/>
<path d="M85.7 276.4h0.8v0.8h-0.8zM76.8 281.8h0.8v0.8h-0.8zM84.4 278.0h0.8v0.8h-0.8zM88.7 272.9h0.8v0.8h-0.8zM77.7 282.5h0.8v0.8h-0.8zM78.3 272.1h0.8v0.8h-0.8zM82.0 281.6h0.8v0.8h-0.8zM74.7 285.0h0.8v0.8h-0.8zM87.4 277.3h0.8v0.8h-0.8zM75.0 282.1h0.8v0.8h-0.8zM79.7 275.0h0.8v0.8h-0.8zM86.4 282.7h0.8v0.8h-0.8zM76.4 273.9h0.8v0.8h-0.8zM100.9 272.8h0.8v0.8h-0.8zM78.6 271.2h0.8v0.8h-0.8zM86.9 279.6h0.8v0.8h-0.8zM91.5 280.6h0.8v0.8h-0.8zM84.0 282.0h0.8v0.8h-0.8zM81.8 275.8h0.8v0.8h-0.8zM82.0 275.7h0.8v0.8h-0.8zM78.2 283.6h0.8v0.8h-0.8zM77.6 269.8h0.8v0.8h-0.8zM76.9 283.8h0.8v0.8h-0.8zM82.9 277.4h0.8v0.8h-0.8zM91.2 273.1h0.8v0.8h-0.8zM90.3 276.8h0.8v0.8h-0.8zM92.7 281.4h0.8v0.8h-0.8zM78.2 279.7h0.8v0.8h-0.8zM80.3 271.9h0.8v0.8h-0.8zM82.6 282.9h0.8v0.8h-0.8zM84.1 272.1h0.8v0.8h-0.8zM90.0 276.4h0.8v0.8h-0.8zM76.7 271.4h0.8v0.8h-0.8zM88.9 276.8h0.8v0.8h-0.8zM80.7 272.5h0.8v0.8h-0.8zM80.0 274.2h0.8v0.8h-0.8zM80.7 271.9h0.8v0.8h-0.8zM94.9 271.9h0.8v0.8h-0.8zM74.7 277.8h0.8v0.8h-0.8zM84.4 272.0h0.8v0.8h-0.8zM78.0 285.0h0.8v0.8h-0.8zM80.9 281.1h0.8v0.8h-0.8zM97.2 271.0h0.8v0.8h-0.8zM91.4 275.5h0.8v0.8h-0.8zM94.1 281.1h0.8v0.8h-0.8zM76.6 276.4h0.8v0.8h-0.8zM79.8 271.1h0.8v0.8h-0.8zM89.4 272.7h0.8v0.8h-0.8zM76.8 275.8h0.8v0.8h-0.8zM76.5 282.1h0.8v0.8h-0.8zM79.1 279.5h0.8v0.8h-0.8zM86.8 276.8h0.8v0.8h-0.8zM84.0 275.9h0.8v0.8h-0.8zM86.2 281.3h0.8v0.8h-0.8zM84.4 278.6h0.8v0.8h-0.8zM81.0 281.4h0.8v0.8h-0.8zM81.6 281.0h0.8v0.8h-0.8zM78.4 283.5h0.8v0.8h-0.8zM77.2 283.0h0.8v0.8h-0.8zM91.5 280.3h0.8v0.8h-0.8zM82.2 274.4h0.8v0.8h-0.8zM84.0 279.5h0.8v0.8h-0.8zM84.0 281.9h0.8v0.8h-0.8zM81.2 280.8h0.8v0.8h-0.8zM80.3 276.2h0.8v0.8h-0.8zM80.7 276.7h0.8v0.8h-0.8zM82.8 280.2h0.8v0.8h-0.8zM82.4 284.3h0.8v0.8h-0.8zM81.1 281.9h0.8v0.8h-0.8zM89.2 275.6h0.8v0.8h-0.8zM104.4 270.0h0.8v0.8h-0.8zM76.5 278.1h0.8v0.8h-0.8zM84.8 284.4h0.8v0.8h-0.8zM90.9 277.7h0.8v0.8h-0.8zM86.2 278.1h0.8v0.8h-0.8zM83.1 280.9h0.8v0.8h-0.8zM90.3 282.7h0.8v0.8h-0.8zM75.8 277.7h0.8v0.8h-0.8zM97.2 272.8h0.8v0.8h-0.8zM88.9 280.3h0.8v0.8h-0.8zM89.2 271.4h0.8v0.8h-0.8zM86.3 285.2h0.8v0.8h-0.8zM76.9 273.8h0.8v0.8h-0.8zM77.6 275.8h0.8v0.8h-0.8zM86.0 276.1h0.8v0.8h-0.8zM75.6 280.6h0.8v0.8h-0.8zM79.8 273.0h0.8v0.8h-0.8zM81.5 281.3h0.8v0.8h-0.8zM87.1 272.9h0.8v0.8h-0.8zM79.6 282.2h0.8v0.8h-0.8zM80.5 271.5h0.8v0.8h-0.8zM79.4 281.8h0.8v0.8h-0.8zM80.3 276.9h0.8v0.8h-0.8zM89.1 278.4h0.8v0.8h-0.8zM78.9 275.1h0.8v0.8h-0.8zM102.6 279.6h0.8v0.8h-0.8zM83.1 276.9h0.8v0.8h-0.8zM93.0 274.1h0.8v0.8h-0.8zM80.0 282.7h0.8v0.8h-0.8zM76.3 275.1h0.8v0.8h-0.8zM79.7 275.4h0.8v0.8h-0.8zM81.6 273.5h0.8v0.8h-0.8zM80.9 269.4h0.8v0.8h-0.8zM77.8 280.9h0.8v0.8h-0.8zM76.2 274.2h0.8v0.8h-0.8zM82.7 277.1h0.8v0.8h-0.8zM88.7 279.9h0.8v0.8h-0.8zM81.4 275.2h0.8v0.8h-0.8zM94.1 270.3h0.8v0.8h-0.8zM84.0 282.6h0.8v0.8h-0.8zM90.6 271.6h0.8v0.8h-0.8zM85.3 282.7h0.8v0.8h-0.8zM75.9 269.6h0.8v0.8h-0.8zM76.0 284.6h0.8v0.8h-0.8zM79.2 271.0h0.8v0.8h-0.8zM81.5 271.7h0.8v0.8h-0.8zM76.6 274.9h0.8v0.8h-0.8zM93.5 271.8h0.8v0.8h-0.8zM90.7 272.1h0.8v0.8h-0.8zM85.6 283.7h0.8v0.8h-0.8zM89.5 280.1h0.8v0.8h-0.8zM86.7 283.7h0.8v0.8h-0.8zM79.6 272.6h0.8v0.8h-0.8zM95.0 280.5h0.8v0.8h-0.8zM92.4 276.4h0.8v0.8h-0.8zM78.1 283.5h0.8v0.8h-0.8zM82.7 273.1h0.8v0.8h-0.8zM77.5 271.6h0.8v0.8h-0.8zM78.4 276.9h0.8v0.8h-0.8zM74.8 271.7h0.8v0.8h-0.8zM87.5 278.0h0.8v0.8h-0.8zM75.3 283.2h0.8v0.8h-0.8zM95.7 276.9h0.8v0.8h-0.8zM75.5 278.4h0.8v0.8h-0.8zM85.3 275.4h0.8v0.8h-0.8zM92.8 276.1h0.8v0.8h-0.8zM78.8 279.6h0.8v0.8h-0.8zM75.7 279.6h0.8v0.8h-0.8zM89.4 280.3h0.8v0.8h-0.8zM77.3 284.3h0.8v0.8h-0.8zM89.7 277.6h0.8v0.8h-0.8zM101.8 277.2h0.8v0.8h-0.8zM76.9 280.9h0.8v0.8h-0.8zM76.3 279.4h0.8v0.8h-0.8zM86.2 275.3h0.8v0.8h-0.8zM93.2 277.0h0.8v0.8h-0.8zM93.2 272.8h0.8v0.8h-0.8zM77.6 276.4h0.8v0.8h-0.8zM86.9 282.6h0.8v0.8h-0.8zM81.1 274.1h0.8v0.8h-0.8zM79.8 277.5h0.8v0.8h-0.8zM84.5 273.7h0.8v0.8h-0.8zM104.5 279.9h0.8v0.8h-0.8zM75.8 282.1h0.8v0.8h-0.8zM79.3 274.2h0.8v0.8h-0.8zM83.0 278.8h0.8v0.8h-0.8zM87.4 270.0h0.8v0.8h-0.8zM89.0 281.0h0.8v0.8h-0.8zM85.0 270.2h0.8v0.8h-0.8zM83.7 274.2h0.8v0.8h-0.8zM81.7 284.1h0.8v0.8h-0.8zM74.9 279.1h0.8v0.8h-0.8zM85.2 284.0h0.8v0.8h-0.8zM90.9 279.2h0.8v0.8h-0.8zM86.1 280.5h0.8v0.8h-0.8zM84.9 278.9h0.8v0.8h-0.8zM77.8 280.1h0.8v0.8h-0.8zM81.5 276.7h0.8v0.8h-0.8zM75.0 272.3h0.8v0.8h-0.8zM79.7 270.0h0.8v0.8h-0.8zM78.3 279.9h0.8v0.8h-0.8zM98.7 275.3h0.8v0.8h-0.8zM83.1 278.4h0.8v0.8h-0.8zM92.0 273.5h0.8v0.8h-0.8zM78.3 274.5h0.8v0.8h-0.8zM85.5 276.3h0.8v0.8h-0.8zM90.7 270.3h0.8v0.8h-0.8zM94.5 278.5h0.8v0.8h-0.8zM80.0 282.4h0.8v0.8h-0.8zM76.0 278.6h0.8v0.8h-0.8zM85.0 269.6h0.8v0.8h-0.8zM80.5 275.6h0.8v0.8h-0.8zM96.3 285.1h0.8v0.8h-0.8zM88.8 277.0h0.8v0.8h-0.8zM79.0 279.7h0.8v0.8h-0.8zM77.3 272.8h0.8v0.8h-0.8zM75.7 269.5h0.8v0.8h-0.8zM76.2 280.3h0.8v0.8h-0.8zM95.3 270.8h0.8v0.8h-0.8zM94.4 283.3h0.8v0.8h-0.8zM76.0 280.9h0.8v0.8h-0.8zM76.1 273.3h0.8v0.8h-0.8zM75.3 270.2h0.8v0.8h-0.8zM81.6 281.8h0.8v0.8h-0.8zM79.5 281.1h0.8v0.8h-0.8zM95.7 270.7h0.8v0.8h-0.8zM86.5 276.8h0.8v0.8h-0.8zM87.1 284.3h0.8v0.8h-0.8zM75.3 280.9h0.8v0.8h-0.8zM103.0 269.6h0.8v0.8h-0.8zM90.5 282.5h0.8v0.8h-0.8zM76.1 270.7h0.8v0.8h-0.8zM81.3 272.1h0.8v0.8h-0.8zM91.1 283.2h0.8v0.8h-0.8zM78.4 275.3h0.8v0.8h-0.8zM74.9 278.6h0.8v0.8h-0.8zM89.9 271.7h0.8v0.8h-0.8zM80.8 282.2h0.8v0.8h-0.8zM84.9 279.5h0.8v0.8h-0.8zM86.6 276.1h0.8v0.8h-0.8zM89.2 284.5h0.8v0.8h-0.8zM87.3 282.0h0.8v0.8h-0.8zM83.0 270.4h0.8v0.8h-0.8zM78.3 285.0h0.8v0.8h-0.8zM80.6 274.7h0.8v0.8h-0.8zM94.3 279.1h0.8v0.8h-0.8zM95.1 279.0h0.8v0.8h-0.8zM77.5 274.3h0.8v0.8h-0.8zM95.3 275.4h0.8v0.8h-0.8zM84.6 280.4h0.8v0.8h-0.8zM93.4 282.3h0.8v0.8h-0.8zM88.6 273.9h0.8v0.8h-0.8zM83.2 276.2h0.8v0.8h-0.8zM74.7 278.8h0.8v0.8h-0.8zM83.9 270.1h0.8v0.8h-0.8zM95.6 282.7h0.8v0.8h-0.8zM83.0 278.6h0.8v0.8h-0.8zM95.1 273.8h0.8v0.8h-0.8zM86.4 280.4h0.8v0.8h-0.8zM90.7 284.0h0.8v0.8h-0.8zM77.3 278.3h0.8v0.8h-0.8zM78.4 282.2h0.8v0.8h-0.8zM80.2 284.3h0.8v0.8h-0.8zM92.0 273.1h0.8v0.8h-0.8zM87.6 276.8h0.8v0.8h-0.8zM84.9 272.7h0.8v0.8h-0.8zM75.1 282.1h0.8v0.8h-0.8zM92.9 276.8h0.8v0.8h-0.8zM91.6 281.8h0.8v0.8h-0.8zM85.0 273.1h0.8v0.8h-0.8zM95.2 283.6h0.8v0.8h-0.8zM85.8 277.7h0.8v0.8h-0.8zM89.1 272.4h0.8v0.8h-0.8zM76.8 272.5h0.8v0.8h-0.8zM81.8 275.2h0.8v0.8h-0.8zM90.1 278.4h0.8v0.8h-0.8zM85.5 271.8h0.8v0.8h-0.8zM82.2 270.1h0.8v0.8h-0.8zM85.2 271.1h0.8v0.8h-0.8zM74.8 279.5h0.8v0.8h-0.8zM76.1 279.0h0.8v0.8h-0.8zM80.8 274.9h0.8v0.8h-0.8zM76.8 269.9h0.8v0.8h-0.8zM74.9 285.2h0.8v0.8h-0.8zM83.1 278.5h0.8v0.8h-0.8zM84.1 273.6h0.8v0.8h-0.8zM76.7 284.5h0.8v0.8h-0.8zM86.0 281.7h0.8v0.8h-0.8zM86.5 273.5h0.8v0.8h-0.8zM100.3 270.0h0.8v0.8h-0.8z" fill="#333"/>
<path d="M77.9 270.7h0.8v0.8h-0.8zM84.8 270.2h0.8v0.8h-0.8zM106.8 276.7h0.8v0.8h-0.8zM86.7 284.6h0.8v0.8h-0.8zM79.8 279.0h0.8v0.8h-0.8zM77.9 275.8h0.8v0.8h-0.8zM106.0 273.5h0.8v0.8h-0.8zM104.0 278.4h0.8v0.8h-0.8zM101.6 280.1h0.8v0.8h-0.8zM107.5 275.7h0.8v0.8h-0.8zM84.1 284.9h0.8v0.8h-0.8zM77.8 285.3h0.8v0.8h-0.8zM75.4 273.5h0.8v0.8h-0.8zM79.3 275.0h0.8v0.8h-0.8zM104.8 282.8h0.8v0.8h-0.8zM95.7 270.2h0.8v0.8h-0.8zM80.7 279.7h0.8v0.8h-0.8zM100.6 285.2h0.8v0.8h-0.8zM83.5 281.5h0.8v0.8h-0.8zM77.9 284.4h0.8v0.8h-0.8zM81.0 278.9h0.8v0.8h-0.8zM87.4 281.5h0.8v0.8h-0.8zM86.5 273.5h0.8v0.8h-0.8zM83.9 271.4h0.8v0.8h-0.8zM84.9 273.2h0.8v0.8h-0.8zM75.8 271.7h0.8v0.8h-0.8zM75.8 280.9h0.8v0.8h-0.8zM77.0 272.5h0.8v0.8h-0.8zM112.6 272.9h0.8v0.8h-0.8zM83.3 284.3h0.8v0.8h-0.8zM98.5 271.6h0.8v0.8h-0.8zM101.1 276.6h0.8v0.8h-0.8zM106.6 282.9h0.8v0.8h-0.8zM97.0 279.5h0.8v0.8h-0.8zM89.4 282.6h0.8v0.8h-0.8zM79.2 277.0h0.8v0.8h-0.8zM81.1 272.9h0.8v0.8h-0.8zM81.4 270.3h0.8v0.8h-0.8zM79.5 271.7h0.8v0.8h-0.8zM95.6 283.3h0.8v0.8h-0.8zM76.4 271.9h0.8v0.8h-0.8zM92.0 273.7h0.8v0.8h-0.8zM82.8 272.1h0.8v0.8h-0.8zM87.6 277.3h0.8v0.8h-0.8zM89.8 271.2h0.8v0.8h-0.8zM108.0 285.1h0.8v0.8h-0.8zM108.4 280.1h0.8v0.8h-0.8zM87.2 272.8h0.8v0.8h-0.8zM88.4 273.5h0.8v0.8h-0.8zM76.6 272.6h0.8v0.8h-0.8zM108.9 285.4h0.8v0.8h-0.8zM113.9 284.2h0.8v0.8h-0.8zM86.1 283.7h0.8v0.8h-0.8zM82.7 270.3h0.8v0.8h-0.8zM76.7 285.1h0.8v0.8h-0.8zM88.6 269.7h0.8v0.8h-0.8zM80.0 271.6h0.8v0.8h-0.8zM89.1 269.4h0.8v0.8h-0.8zM84.9 272.4h0.8v0.8h-0.8zM92.7 276.4h0.8v0.8h-0.8zM84.8 278.5h0.8v0.8h-0.8zM80.9 271.6h0.8v0.8h-0.8zM87.0 280.8h0.8v0.8h-0.8zM101.0 272.5h0.8v0.8h-0.8zM81.0 279.1h0.8v0.8h-0.8zM78.1 277.3h0.8v0.8h-0.8zM76.3 279.2h0.8v0.8h-0.8zM86.0 280.7h0.8v0.8h-0.8zM83.1 272.6h0.8v0.8h-0.8zM95.4 270.5h0.8v0.8h-0.8z" fill="#888"/>
<path d="M105.9 244.9h0.8v0.8h-0.8zM105.4 232.0h0.8v0.8h-0.8zM109.2 242.2h0.8v0.8h-0.8zM110.5 261.5h0.8v0.8h-0.8zM95.7 230.6h0.8v0.8h-0.8zM113.5 247.3h0.8v0.8h-0.8zM111.8 239.7h0.8v0.8h-0.8zM82.5 260.3h0.8v0.8h-0.8zM90.3 236.0h0.8v0.8h-0.8zM90.4 251.7h0.8v0.8h-0.8zM74.8 248.9h0.8v0.8h-0.8zM93.6 248.8h0.8v0.8h-0.8zM79.8 256.0h0.8v0.8h-0.8zM109.5 261.5h0.8v0.8h-0.8zM88.3 255.9h0.8v0.8h-0.8zM90.9 257.3h0.8v0.8h-0.8zM77.2 261.8h0.8v0.8h-0.8zM115.3 248.0h0.8v0.8h-0.8zM96.5 249.3h0.8v0.8h-0.8zM97.5 230.8h0.8v0.8h-0.8zM115.9 238.1h0.8v0.8h-0.8zM82.4 233.7h0.8v0.8h-0.8zM85.3 259.7h0.8v0.8h-0.8zM75.9 233.5h0.8v0.8h-0.8zM104.4 237.1h0.8v0.8h-0.8zM75.4 251.8h0.8v0.8h-0.8zM99.2 249.0h0.8v0.8h-0.8zM104.6 233.7h0.8v0.8h-0.8zM111.7 256.1h0.8v0.8h-0.8zM76.5 234.5h0.8v0.8h-0.8z" fill="#aaa"/>
<path d="M78.2 260.0h0.8v0.8h-0.8zM75.0 267.0h0.8v0.8h-0.8zM81.9 257.4h0.8v0.8h-0.8zM80.9 257.3h0.8v0.8h-0.8zM85.7 253.5h0.8v0.8h-0.8zM80.7 259.0h0.8v0.8h-0.8zM82.5 260.3h0.8v0.8h-0.8zM78.4 264.6h0.8v0.8h-0.8zM83.3 260.5h0.8v0.8h-0.8zM86.3 249.0h0.8v0.8h-0.8zM69.7 266.9h0.8v0.8h-0.8zM84.9 254.8h0.8v0.8h-0.8zM79.8 259.7h0.8v0.8h-0.8zM73.0 268.3h0.8v0.8h-0.8zM78.6 272.5h0.8v0.8h-0.8zM86.0 254.0h0.8v0.8h-0.8zM86.9 251.6h0.8v0.8h-0.8zM73.9 266.5h0.8v0.8h-0.8zM81.7 259.6h0.8v0.8h-0.8zM83.6 251.5h0.8v0.8h-0.8zM75.4 261.7h0.8v0.8h-0.8zM76.7 266.5h0.8v0.8h-0.8zM71.4 263.3h0.8v0.8h-0.8zM80.0 262.1h0.8v0.8h-0.8zM81.1 260.2h0.8v0.8h-0.8zM75.4 268.3h0.8v0.8h-0.8zM77.8 264.4h0.8v0.8h-0.8zM82.2 256.6h0.8v0.8h-0.8zM80.0 257.5h0.8v0.8h-0.8zM79.7 257.0h0.8v0.8h-0.8zM79.5 258.3h0.8v0.8h-0.8zM77.7 266.9h0.8v0.8h-0.8zM78.5 261.7h0.8v0.8h-0.8zM79.5 261.2h0.8v0.8h-0.8zM78.9 259.0h0.8v0.8h-0.8zM84.4 255.2h0.8v0.8h-0.8zM80.4 267.5h0.8v0.8h-0.8zM81.5 261.7h0.8v0.8h-0.8zM79.3 259.9h0.8v0.8h-0.8zM80.6 263.7h0.8v0.8h-0.8zM75.2 267.5h0.8v0.8h-0.8zM78.8 254.1h0.8v0.8h-0.8zM80.1 254.0h0.8v0.8h-0.8zM82.9 253.3h0.8v0.8h-0.8zM82.0 250.3h0.8v0.8h-0.8zM76.1 266.1h0.8v0.8h-0.8zM80.8 254.1h0.8v0.8h-0.8zM83.1 251.0h0.8v0.8h-0.8zM85.3 252.9h0.8v0.8h-0.8zM76.4 262.7h0.8v0.8h-0.8zM82.0 258.2h0.8v0.8h-0.8zM79.3 260.2h0.8v0.8h-0.8zM84.8 252.9h0.8v0.8h-0.8zM80.2 262.6h0.8v0.8h-0.8zM73.6 264.6h0.8v0.8h-0.8zM77.3 266.0h0.8v0.8h-0.8zM86.8 249.3h0.8v0.8h-0.8zM72.5 267.1h0.8v0.8h-0.8zM77.4 269.1h0.8v0.8h-0.8zM83.4 258.1h0.8v0.8h-0.8zM83.2 259.2h0.8v0.8h-0.8zM79.4 257.6h0.8v0.8h-0.8zM76.8 261.2h0.8v0.8h-0.8zM83.8 249.9h0.8v0.8h-0.8zM74.1 268.3h0.8v0.8h-0.8zM76.7 256.8h0.8v0.8h-0.8zM82.8 252.2h0.8v0.8h-0.8zM83.5 257.7h0.8v0.8h-0.8zM81.0 258.2h0.8v0.8h-0.8zM82.2 262.4h0.8v0.8h-0.8zM83.8 262.7h0.8v0.8h-0.8zM85.1 250.6h0.8v0.8h-0.8zM83.2 253.9h0.8v0.8h-0.8zM75.2 263.3h0.8v0.8h-0.8zM77.9 268.0h0.8v0.8h-0.8zM77.0 263.7h0.8v0.8h-0.8zM83.8 258.2h0.8v0.8h-0.8zM82.1 258.2h0.8v0.8h-0.8zM73.2 272.3h0.8v0.8h-0.8zM80.3 257.2h0.8v0.8h-0.8zM78.4 259.4h0.8v0.8h-0.8zM74.3 255.9h0.8v0.8h-0.8zM80.0 259.2h0.8v0.8h-0.8zM76.4 264.7h0.8v0.8h-0.8zM77.0 269.0h0.8v0.8h-0.8zM80.6 251.8h0.8v0.8h-0.8zM79.0 267.6h0.8v0.8h-0.8zM77.7 260.9h0.8v0.8h-0.8zM76.4 266.5h0.8v0.8h-0.8zM82.8 252.0h0.8v0.8h-0.8z" fill="#333"/>
<path d="M81.9 249.7h0.9v0.9h-0.9zM95.3 250.6h0.9v0.9h-0.9zM76.1 246.5h0.9v0.9h-0.9zM80.3 250.2h0.9v0.9h-0.9zM86.2 249.7h0.9v0.9h-0.9zM94.4 247.4h0.9v0.9h-0.9zM82.3 253.2h0.9v0.9h-0.9zM87.8 247.5h0.9v0.9h-0.9zM76.9 245.9h0.9v0.9h-0.9zM75.0 249.2h0.9v0.9h-0.9zM86.4 251.2h0.9v0.9h-0.9zM85.6 247.6h0.9v0.9h-0.9zM82.8 253.1h0.9v0.9h-0.9zM78.1 249.5h0.9v0.9h-0.9zM86.3 250.4h0.9v0.9h-0.9zM84.3 250.1h0.9v0.9h-0.9zM90.0 248.8h0.9v0.9h-0.9zM84.1 248.7h0.9v0.9h-0.9zM81.8 248.7h0.9v0.9h-0.9zM84.8 249.5h0.9v0.9h-0.9zM92.3 251.8h0.9v0.9h-0.9zM84.2 250.4h0.9v0.9h-0.9zM87.6 250.7h0.9v0.9h-0.9zM86.3 249.7h0.9v0.9h-0.9zM84.0 247.5h0.9v0.9h-0.9zM90.2 251.8h0.9v0.9h-0.9zM89.2 250.0h0.9v0.9h-0.9zM87.4 248.2h0.9v0.9h-0.9zM78.0 250.5h0.9v0.9h-0.9zM87.1 247.9h0.9v0.9h-0.9zM81.8 251.8h0.9v0.9h-0.9zM77.9 252.8h0.9v0.9h-0.9zM89.1 254.1h0.9v0.9h-0.9zM82.9 249.1h0.9v0.9h-0.9zM83.9 249.4h0.9v0.9h-0.9zM85.2 247.5h0.9v0.9h-0.9zM91.1 247.5h0.9v0.9h-0.9zM83.9 250.3h0.9v0.9h-0.9zM83.7 248.2h0.9v0.9h-0.9zM87.8 248.3h0.9v0.9h-0.9zM80.5 248.9h0.9v0.9h-0.9zM85.2 252.7h0.9v0.9h-0.9zM81.2 251.1h0.9v0.9h-0.9zM82.6 248.4h0.9v0.9h-0.9zM84.7 249.7h0.9v0.9h-0.9zM90.2 252.8h0.9v0.9h-0.9zM83.3 251.9h0.9v0.9h-0.9zM90.8 250.8h0.9v0.9h-0.9zM82.7 251.0h0.9v0.9h-0.9zM85.7 249.8h0.9v0.9h-0.9zM85.0 250.5h0.9v0.9h-0.9zM91.3 251.5h0.9v0.9h-0.9zM85.3 251.2h0.9v0.9h-0.9zM92.9 247.1h0.9v0.9h-0.9zM93.0 246.3h0.9v0.9h-0.9zM88.7 250.3h0.9v0.9h-0.9zM93.0 249.7h0.9v0.9h-0.9zM84.0 247.4h0.9v0.9h-0.9zM80.4 250.7h0.9v0.9h-0.9zM85.1 247.6h0.9v0.9h-0.9zM88.6 247.5h0.9v0.9h-0.9zM84.2 248.1h0.9v0.9h-0.9zM93.8 252.2h0.9v0.9h-0.9zM85.5 245.8h0.9v0.9h-0.9zM87.5 249.3h0.9v0.9h-0.9zM87.8 250.3h0.9v0.9h-0.9zM84.7 251.0h0.9v0.9h-0.9zM90.0 249.5h0.9v0.9h-0.9zM84.3 248.1h0.9v0.9h-0.9zM89.4 246.8h0.9v0.9h-0.9zM85.5 247.5h0.9v0.9h-0.9zM79.8 250.4h0.9v0.9h-0.9zM86.1 249.2h0.9v0.9h-0.9zM90.2 246.0h0.9v0.9h-0.9zM85.9 249.7h0.9v0.9h-0.9zM90.0 246.8h0.9v0.9h-0.9zM89.5 249.6h0.9v0.9h-0.9zM92.4 251.5h0.9v0.9h-0.9zM88.7 253.6h0.9v0.9h-0.9zM86.2 248.2h0.9v0.9h-0.9zM84.6 247.1h0.9v0.9h-0.9zM86.1 245.2h0.9v0.9h-0.9zM85.8 250.0h0.9v0.9h-0.9zM90.8 248.4h0.9v0.9h-0.9zM92.6 247.7h0.9v0.9h-0.9zM85.6 245.2h0.9v0.9h-0.9zM82.7 247.4h0.9v0.9h-0.9zM92.9 250.2h0.9v0.9h-0.9zM81.2 250.2h0.9v0.9h-0.9zM88.4 248.6h0.9v0.9h-0.9zM86.3 248.5h0.9v0.9h-0.9zM83.8 245.5h0.9v0.9h-0.9zM85.8 251.7h0.9v0.9h-0.9zM92.6 248.5h0.9v0.9h-0.9zM82.8 248.7h0.9v0.9h-0.9zM90.2 249.8h0.9v0.9h-0.9zM83.6 249.8h0.9v0.9h-0.9zM85.3 250.2h0.9v0.9h-0.9zM84.4 246.1h0.9v0.9h-0.9zM86.5 250.7h0.9v0.9h-0.9zM81.2 248.9h0.9v0.9h-0.9zM90.1 248.3h0.9v0.9h-0.9zM83.3 253.3h0.9v0.9h-0.9zM89.9 251.2h0.9v0.9h-0.9zM82.0 252.4h0.9v0.9h-0.9zM78.8 248.0h0.9v0.9h-0.9zM89.5 251.8h0.9v0.9h-0.9zM82.0 247.7h0.9v0.9h-0.9zM87.1 245.2h0.9v0.9h-0.9zM89.1 250.2h0.9v0.9h-0.9zM84.2 250.2h0.9v0.9h-0.9zM89.7 249.7h0.9v0.9h-0.9zM88.5 252.2h0.9v0.9h-0.9zM84.1 249.4h0.9v0.9h-0.9zM83.9 251.2h0.9v0.9h-0.9zM84.4 250.1h0.9v0.9h-0.9zM86.8 249.2h0.9v0.9h-0.9zM93.9 248.9h0.9v0.9h-0.9zM92.5 250.8h0.9v0.9h-0.9zM92.1 248.8h0.9v0.9h-0.9zM90.3 250.6h0.9v0.9h-0.9zM83.5 249.6h0.9v0.9h-0.9zM85.6 249.0h0.9v0.9h-0.9zM92.0 247.6h0.9v0.9h-0.9zM78.7 245.6h0.9v0.9h-0.9zM84.2 247.8h0.9v0.9h-0.9zM86.3 250.2h0.9v0.9h-0.9zM94.0 249.7h0.9v0.9h-0.9zM88.3 247.6h0.9v0.9h-0.9zM88.8 251.9h0.9v0.9h-0.9zM92.2 245.1h0.9v0.9h-0.9zM90.2 252.3h0.9v0.9h-0.9zM89.9 246.1h0.9v0.9h-0.9zM84.8 250.3h0.9v0.9h-0.9zM88.0 247.5h0.9v0.9h-0.9zM82.3 251.1h0.9v0.9h-0.9zM80.3 252.0h0.9v0.9h-0.9zM86.3 249.7h0.9v0.9h-0.9zM80.3 247.9h0.9v0.9h-0.9zM89.3 246.1h0.9v0.9h-0.9zM95.4 246.3h0.9v0.9h-0.9zM80.8 249.2h0.9v0.9h-0.9zM88.3 250.6h0.9v0.9h-0.9zM84.6 248.7h0.9v0.9h-0.9zM85.2 247.9h0.9v0.9h-0.9zM74.8 251.0h0.9v0.9h-0.9zM87.3 249.4h0.9v0.9h-0.9zM83.4 249.6h0.9v0.9h-0.9zM86.1 248.9h0.9v0.9h-0.9zM91.1 245.6h0.9v0.9h-0.9zM87.3 246.9h0.9v0.9h-0.9zM84.8 252.1h0.9v0.9h-0.9zM81.4 248.9h0.9v0.9h-0.9zM83.6 251.0h0.9v0.9h-0.9zM81.9 245.7h0.9v0.9h-0.9zM88.5 248.4h0.9v0.9h-0.9zM84.8 251.3h0.9v0.9h-0.9zM82.3 248.3h0.9v0.9h-0.9zM86.9 249.9h0.9v0.9h-0.9zM83.9 251.2h0.9v0.9h-0.9zM96.1 248.3h0.9v0.9h-0.9zM94.5 244.8h0.9v0.9h-0.9zM92.4 248.4h0.9v0.9h-0.9zM86.8 248.4h0.9v0.9h-0.9zM83.4 246.5h0.9v0.9h-0.9zM84.5 251.7h0.9v0.9h-0.9zM91.2 248.4h0.9v0.9h-0.9zM83.9 247.7h0.9v0.9h-0.9zM80.9 252.7h0.9v0.9h-0.9zM89.1 249.3h0.9v0.9h-0.9zM84.0 247.0h0.9v0.9h-0.9zM92.0 250.7h0.9v0.9h-0.9zM82.0 251.1h0.9v0.9h-0.9zM81.3 250.4h0.9v0.9h-0.9zM82.0 248.3h0.9v0.9h-0.9zM88.4 250.0h0.9v0.9h-0.9zM90.7 247.4h0.9v0.9h-0.9zM93.2 251.8h0.9v0.9h-0.9zM86.2 250.0h0.9v0.9h-0.9zM82.8 248.8h0.9v0.9h-0.9zM80.4 249.3h0.9v0.9h-0.9zM87.1 251.8h0.9v0.9h-0.9zM90.4 250.7h0.9v0.9h-0.9zM84.6 248.6h0.9v0.9h-0.9zM84.7 249.5h0.9v0.9h-0.9zM77.7 250.7h0.9v0.9h-0.9zM79.3 248.1h0.9v0.9h-0.9zM86.3 248.1h0.9v0.9h-0.9zM93.5 248.9h0.9v0.9h-0.9zM93.1 251.5h0.9v0.9h-0.9zM84.0 249.9h0.9v0.9h-0.9zM91.9 248.4h0.9v0.9h-0.9zM86.6 248.0h0.9v0.9h-0.9zM86.5 248.4h0.9v0.9h-0.9zM86.6 251.1h0.9v0.9h-0.9zM92.4 249.4h0.9v0.9h-0.9zM87.1 250.8h0.9v0.9h-0.9zM84.9 247.0h0.9v0.9h-0.9zM91.1 247.2h0.9v0.9h-0.9zM90.3 247.2h0.9v0.9h-0.9z" fill="#222"/>
<path d="M91.7 247.6h0.9v0.9h-0.9zM88.8 251.0h0.9v0.9h-0.9zM83.6 251.0h0.9v0.9h-0.9zM84.0 246.6h0.9v0.9h-0.9zM88.5 249.9h0.9v0.9h-0.9zM85.8 245.6h0.9v0.9h-0.9zM86.2 248.6h0.9v0.9h-0.9zM85.3 248.6h0.9v0.9h-0.9zM81.2 248.2h0.9v0.9h-0.9zM91.6 251.1h0.9v0.9h-0.9zM85.4 248.0h0.9v0.9h-0.9zM87.5 250.4h0.9v0.9h-0.9zM88.5 247.4h0.9v0.9h-0.9zM86.9 249.2h0.9v0.9h-0.9zM90.5 250.6h0.9v0.9h-0.9zM87.9 250.6h0.9v0.9h-0.9zM85.3 251.1h0.9v0.9h-0.9zM85.2 249.5h0.9v0.9h-0.9zM89.0 247.8h0.9v0.9h-0.9zM84.4 246.6h0.9v0.9h-0.9zM86.9 248.9h0.9v0.9h-0.9zM85.5 249.7h0.9v0.9h-0.9zM80.3 249.0h0.9v0.9h-0.9zM86.7 248.6h0.9v0.9h-0.9zM88.7 251.4h0.9v0.9h-0.9zM85.1 247.7h0.9v0.9h-0.9zM84.7 249.1h0.9v0.9h-0.9zM88.1 247.8h0.9v0.9h-0.9zM89.3 247.6h0.9v0.9h-0.9zM88.8 249.6h0.9v0.9h-0.9zM87.7 251.9h0.9v0.9h-0.9zM85.6 248.8h0.9v0.9h-0.9zM87.8 250.2h0.9v0.9h-0.9zM82.5 249.4h0.9v0.9h-0.9zM84.3 249.8h0.9v0.9h-0.9zM90.3 249.1h0.9v0.9h-0.9zM86.1 249.2h0.9v0.9h-0.9zM77.9 250.0h0.9v0.9h-0.9zM88.0 249.2h0.9v0.9h-0.9zM85.3 248.0h0.9v0.9h-0.9zM85.9 250.6h0.9v0.9h-0.9zM86.1 250.8h0.9v0.9h-0.9zM79.0 248.4h0.9v0.9h-0.9zM87.2 249.0h0.9v0.9h-0.9zM81.6 248.1h0.9v0.9h-0.9zM90.0 247.3h0.9v0.9h-0.9zM83.5 247.5h0.9v0.9h-0.9zM84.8 249.9h0.9v0.9h-0.9zM88.1 246.3h0.9v0.9h-0.9zM90.6 248.2h0.9v0.9h-0.9zM84.7 251.2h0.9v0.9h-0.9zM86.2 247.3h0.9v0.9h-0.9zM84.6 248.0h0.9v0.9h-0.9zM83.5 248.6h0.9v0.9h-0.9zM88.9 249.5h0.9v0.9h-0.9zM82.4 252.7h0.9v0.9h-0.9zM83.5 249.2h0.9v0.9h-0.9zM86.5 250.0h0.9v0.9h-0.9zM85.5 249.6h0.9v0.9h-0.9zM92.5 249.1h0.9v0.9h-0.9zM83.3 249.4h0.9v0.9h-0.9zM84.1 248.5h0.9v0.9h-0.9zM86.9 249.5h0.9v0.9h-0.9zM85.6 250.1h0.9v0.9h-0.9zM85.8 247.2h0.9v0.9h-0.9zM88.9 248.5h0.9v0.9h-0.9zM89.9 248.1h0.9v0.9h-0.9zM88.0 249.4h0.9v0.9h-0.9zM78.6 247.0h0.9v0.9h-0.9zM83.2 250.9h0.9v0.9h-0.9zM81.0 250.2h0.9v0.9h-0.9zM89.5 249.7h0.9v0.9h-0.9zM88.3 248.3h0.9v0.9h-0.9zM86.4 249.3h0.9v0.9h-0.9zM87.6 250.0h0.9v0.9h-0.9zM85.8 248.1h0.9v0.9h-0.9zM84.8 249.6h0.9v0.9h-0.9zM81.6 247.3h0.9v0.9h-0.9zM85.2 248.3h0.9v0.9h-0.9zM85.6 245.4h0.9v0.9h-0.9zM85.4 248.7h0.9v0.9h-0.9zM88.6 246.3h0.9v0.9h-0.9zM85.5 249.6h0.9v0.9h-0.9zM87.8 250.6h0.9v0.9h-0.9zM89.4 247.6h0.9v0.9h-0.9zM88.2 248.5h0.9v0.9h-0.9zM84.1 251.1h0.9v0.9h-0.9zM84.6 247.9h0.9v0.9h-0.9zM85.2 247.9h0.9v0.9h-0.9zM89.3 249.5h0.9v0.9h-0.9zM90.4 249.6h0.9v0.9h-0.9zM84.6 250.4h0.9v0.9h-0.9zM84.5 248.4h0.9v0.9h-0.9zM85.9 249.1h0.9v0.9h-0.9zM89.8 248.2h0.9v0.9h-0.9zM87.4 249.0h0.9v0.9h-0.9zM82.8 247.5h0.9v0.9h-0.9zM85.8 249.5h0.9v0.9h-0.9zM87.3 249.6h0.9v0.9h-0.9zM86.5 248.4h0.9v0.9h-0.9zM87.6 247.6h0.9v0.9h-0.9zM82.5 248.6h0.9v0.9h-0.9zM82.3 248.3h0.9v0.9h-0.9zM84.2 248.3h0.9v0.9h-0.9zM86.3 247.9h0.9v0.9h-0.9zM85.2 246.7h0.9v0.9h-0.9zM86.8 247.8h0.9v0.9h-0.9zM87.6 245.2h0.9v0.9h-0.9zM84.1 249.3h0.9v0.9h-0.9zM79.3 248.5h0.9v0.9h-0.9zM86.7 249.1h0.9v0.9h-0.9zM82.1 249.3h0.9v0.9h-0.9zM86.8 247.7h0.9v0.9h-0.9zM88.6 248.9h0.9v0.9h-0.9zM86.5 248.4h0.9v0.9h-0.9zM88.0 249.1h0.9v0.9h-0.9zM89.7 249.6h0.9v0.9h-0.9zM84.6 248.7h0.9v0.9h-0.9zM89.1 248.5h0.9v0.9h-0.9zM87.5 249.7h0.9v0.9h-0.9z" fill="#000"/>
<rect x="53.00" y="271.00" width="21.10" height="15.20" fill="#575757" stroke="none" stroke-width="1"/>
<path d="M68.6 284.3h0.9v0.9h-0.9zM56.4 271.4h0.9v0.9h-0.9zM69.4 274.5h0.9v0.9h-0.9zM73.7 278.2h0.9v0.9h-0.9zM66.4 276.0h0.9v0.9h-0.9zM69.9 277.6h0.9v0.9h-0.9zM59.8 284.0h0.9v0.9h-0.9zM55.3 281.6h0.9v0.9h-0.9zM54.4 280.3h0.9v0.9h-0.9zM61.5 283.4h0.9v0.9h-0.9zM54.3 279.1h0.9v0.9h-0.9zM61.6 284.2h0.9v0.9h-0.9zM72.9 280.0h0.9v0.9h-0.9zM57.7 274.6h0.9v0.9h-0.9zM58.5 277.2h0.9v0.9h-0.9zM57.9 273.9h0.9v0.9h-0.9zM69.0 280.3h0.9v0.9h-0.9zM59.3 285.3h0.9v0.9h-0.9zM57.6 279.2h0.9v0.9h-0.9zM56.3 283.4h0.9v0.9h-0.9zM71.3 274.8h0.9v0.9h-0.9zM68.9 282.8h0.9v0.9h-0.9zM59.0 275.8h0.9v0.9h-0.9zM63.2 283.8h0.9v0.9h-0.9zM56.4 280.8h0.9v0.9h-0.9zM65.6 277.5h0.9v0.9h-0.9zM65.2 283.7h0.9v0.9h-0.9zM57.4 283.7h0.9v0.9h-0.9zM60.6 282.2h0.9v0.9h-0.9zM71.2 273.6h0.9v0.9h-0.9zM71.2 285.3h0.9v0.9h-0.9zM59.3 271.4h0.9v0.9h-0.9zM55.4 285.0h0.9v0.9h-0.9zM53.2 284.1h0.9v0.9h-0.9zM56.2 281.6h0.9v0.9h-0.9zM55.1 273.4h0.9v0.9h-0.9zM67.4 272.3h0.9v0.9h-0.9zM60.2 284.2h0.9v0.9h-0.9zM68.1 283.7h0.9v0.9h-0.9zM73.7 271.5h0.9v0.9h-0.9zM58.0 282.4h0.9v0.9h-0.9zM67.5 271.5h0.9v0.9h-0.9zM63.7 274.3h0.9v0.9h-0.9zM62.1 272.5h0.9v0.9h-0.9zM53.4 285.3h0.9v0.9h-0.9zM59.7 283.7h0.9v0.9h-0.9zM55.5 278.0h0.9v0.9h-0.9zM55.9 277.2h0.9v0.9h-0.9zM56.8 280.9h0.9v0.9h-0.9zM56.1 281.6h0.9v0.9h-0.9zM63.6 272.6h0.9v0.9h-0.9zM60.5 278.1h0.9v0.9h-0.9zM72.4 276.0h0.9v0.9h-0.9zM57.5 284.9h0.9v0.9h-0.9zM71.6 281.5h0.9v0.9h-0.9zM58.8 273.6h0.9v0.9h-0.9zM58.6 272.0h0.9v0.9h-0.9zM53.9 278.3h0.9v0.9h-0.9zM61.6 279.0h0.9v0.9h-0.9zM60.7 271.2h0.9v0.9h-0.9zM67.5 280.4h0.9v0.9h-0.9zM64.5 278.9h0.9v0.9h-0.9zM67.6 285.1h0.9v0.9h-0.9zM71.4 281.3h0.9v0.9h-0.9zM61.4 275.6h0.9v0.9h-0.9zM61.8 285.0h0.9v0.9h-0.9zM61.2 276.5h0.9v0.9h-0.9zM61.7 273.1h0.9v0.9h-0.9zM74.1 271.1h0.9v0.9h-0.9zM65.8 284.3h0.9v0.9h-0.9zM58.4 279.8h0.9v0.9h-0.9zM61.0 274.5h0.9v0.9h-0.9zM57.2 272.7h0.9v0.9h-0.9zM70.8 282.3h0.9v0.9h-0.9zM72.2 271.7h0.9v0.9h-0.9zM67.6 275.7h0.9v0.9h-0.9zM66.6 278.9h0.9v0.9h-0.9zM59.7 285.0h0.9v0.9h-0.9zM53.0 281.7h0.9v0.9h-0.9zM71.0 278.3h0.9v0.9h-0.9zM65.5 285.3h0.9v0.9h-0.9zM57.9 280.1h0.9v0.9h-0.9zM68.7 276.5h0.9v0.9h-0.9zM68.0 276.7h0.9v0.9h-0.9zM64.1 279.8h0.9v0.9h-0.9zM67.3 275.6h0.9v0.9h-0.9zM66.3 278.8h0.9v0.9h-0.9zM57.7 279.8h0.9v0.9h-0.9zM58.6 284.1h0.9v0.9h-0.9zM63.0 281.4h0.9v0.9h-0.9zM64.0 277.9h0.9v0.9h-0.9zM57.7 273.0h0.9v0.9h-0.9zM72.6 278.6h0.9v0.9h-0.9zM64.1 278.6h0.9v0.9h-0.9zM70.2 274.4h0.9v0.9h-0.9zM56.6 282.8h0.9v0.9h-0.9zM62.7 280.2h0.9v0.9h-0.9zM70.5 283.9h0.9v0.9h-0.9zM71.3 271.6h0.9v0.9h-0.9zM61.0 283.0h0.9v0.9h-0.9zM70.3 272.8h0.9v0.9h-0.9zM56.2 274.6h0.9v0.9h-0.9zM55.2 276.1h0.9v0.9h-0.9zM69.9 278.5h0.9v0.9h-0.9zM62.6 272.3h0.9v0.9h-0.9zM61.3 285.4h0.9v0.9h-0.9zM67.7 277.5h0.9v0.9h-0.9zM63.1 282.5h0.9v0.9h-0.9zM69.0 273.2h0.9v0.9h-0.9zM67.4 276.3h0.9v0.9h-0.9zM64.0 274.4h0.9v0.9h-0.9zM60.8 275.9h0.9v0.9h-0.9zM61.0 271.3h0.9v0.9h-0.9zM57.2 279.2h0.9v0.9h-0.9zM54.2 273.6h0.9v0.9h-0.9zM68.2 275.0h0.9v0.9h-0.9zM59.8 274.5h0.9v0.9h-0.9zM70.6 272.3h0.9v0.9h-0.9zM66.4 283.4h0.9v0.9h-0.9zM57.3 277.1h0.9v0.9h-0.9zM69.7 279.9h0.9v0.9h-0.9zM60.8 271.6h0.9v0.9h-0.9zM62.3 276.3h0.9v0.9h-0.9zM68.0 275.3h0.9v0.9h-0.9zM61.6 280.3h0.9v0.9h-0.9zM70.1 276.1h0.9v0.9h-0.9zM61.1 279.3h0.9v0.9h-0.9zM72.5 273.8h0.9v0.9h-0.9zM73.5 281.3h0.9v0.9h-0.9zM60.9 280.6h0.9v0.9h-0.9zM60.0 272.0h0.9v0.9h-0.9zM69.0 276.5h0.9v0.9h-0.9zM64.1 278.2h0.9v0.9h-0.9zM72.0 281.9h0.9v0.9h-0.9zM53.5 279.5h0.9v0.9h-0.9zM62.8 277.7h0.9v0.9h-0.9zM70.7 277.0h0.9v0.9h-0.9zM63.0 283.8h0.9v0.9h-0.9zM62.3 278.1h0.9v0.9h-0.9zM63.8 282.9h0.9v0.9h-0.9zM67.1 281.7h0.9v0.9h-0.9zM61.5 271.6h0.9v0.9h-0.9zM67.3 279.0h0.9v0.9h-0.9zM69.2 282.1h0.9v0.9h-0.9zM55.5 274.2h0.9v0.9h-0.9zM54.6 282.8h0.9v0.9h-0.9zM55.1 272.3h0.9v0.9h-0.9zM68.9 279.1h0.9v0.9h-0.9zM54.2 280.8h0.9v0.9h-0.9zM68.0 278.0h0.9v0.9h-0.9zM54.2 281.0h0.9v0.9h-0.9zM61.8 279.4h0.9v0.9h-0.9zM74.1 282.8h0.9v0.9h-0.9zM71.4 273.1h0.9v0.9h-0.9zM60.1 278.5h0.9v0.9h-0.9zM53.1 285.2h0.9v0.9h-0.9zM58.8 274.8h0.9v0.9h-0.9zM59.6 274.7h0.9v0.9h-0.9zM71.1 279.0h0.9v0.9h-0.9zM63.8 277.1h0.9v0.9h-0.9zM54.1 275.4h0.9v0.9h-0.9zM71.3 282.5h0.9v0.9h-0.9zM71.1 274.7h0.9v0.9h-0.9zM57.3 271.8h0.9v0.9h-0.9zM64.3 276.4h0.9v0.9h-0.9zM62.8 278.0h0.9v0.9h-0.9zM65.3 276.3h0.9v0.9h-0.9zM69.9 273.9h0.9v0.9h-0.9zM72.4 279.0h0.9v0.9h-0.9zM54.1 275.5h0.9v0.9h-0.9zM64.2 276.9h0.9v0.9h-0.9zM64.9 275.7h0.9v0.9h-0.9zM58.8 282.5h0.9v0.9h-0.9zM59.2 281.2h0.9v0.9h-0.9zM69.9 279.5h0.9v0.9h-0.9zM62.6 284.5h0.9v0.9h-0.9zM62.4 283.6h0.9v0.9h-0.9zM54.2 277.2h0.9v0.9h-0.9zM66.5 271.7h0.9v0.9h-0.9zM71.2 272.0h0.9v0.9h-0.9zM65.6 273.6h0.9v0.9h-0.9zM72.5 279.1h0.9v0.9h-0.9zM69.9 278.2h0.9v0.9h-0.9zM67.2 280.7h0.9v0.9h-0.9zM59.2 274.0h0.9v0.9h-0.9zM70.7 273.1h0.9v0.9h-0.9zM72.4 274.0h0.9v0.9h-0.9zM55.1 272.4h0.9v0.9h-0.9zM69.5 284.7h0.9v0.9h-0.9zM61.7 280.5h0.9v0.9h-0.9zM58.4 284.0h0.9v0.9h-0.9zM67.5 273.2h0.9v0.9h-0.9zM54.2 281.0h0.9v0.9h-0.9zM53.9 283.0h0.9v0.9h-0.9zM59.2 274.4h0.9v0.9h-0.9zM65.3 275.6h0.9v0.9h-0.9zM64.8 273.2h0.9v0.9h-0.9zM72.2 275.7h0.9v0.9h-0.9zM70.8 273.2h0.9v0.9h-0.9zM69.9 285.1h0.9v0.9h-0.9zM61.3 271.5h0.9v0.9h-0.9zM61.0 280.2h0.9v0.9h-0.9zM57.7 278.9h0.9v0.9h-0.9zM55.0 277.7h0.9v0.9h-0.9zM68.4 277.2h0.9v0.9h-0.9zM67.3 272.6h0.9v0.9h-0.9zM70.5 272.8h0.9v0.9h-0.9zM72.5 285.3h0.9v0.9h-0.9zM72.8 278.6h0.9v0.9h-0.9zM59.1 276.0h0.9v0.9h-0.9zM68.8 278.2h0.9v0.9h-0.9zM72.6 272.3h0.9v0.9h-0.9zM63.2 283.4h0.9v0.9h-0.9zM65.6 278.8h0.9v0.9h-0.9zM54.9 273.0h0.9v0.9h-0.9zM58.7 283.9h0.9v0.9h-0.9zM70.8 274.3h0.9v0.9h-0.9zM72.5 271.5h0.9v0.9h-0.9zM65.6 284.9h0.9v0.9h-0.9zM60.3 284.6h0.9v0.9h-0.9zM66.9 271.7h0.9v0.9h-0.9zM60.0 277.5h0.9v0.9h-0.9zM58.2 281.7h0.9v0.9h-0.9zM56.8 282.3h0.9v0.9h-0.9zM59.3 272.0h0.9v0.9h-0.9zM64.8 272.4h0.9v0.9h-0.9zM64.6 282.3h0.9v0.9h-0.9zM65.6 277.6h0.9v0.9h-0.9zM53.7 278.4h0.9v0.9h-0.9zM55.1 280.3h0.9v0.9h-0.9zM55.8 279.3h0.9v0.9h-0.9zM60.4 276.4h0.9v0.9h-0.9zM67.0 273.4h0.9v0.9h-0.9zM56.6 284.6h0.9v0.9h-0.9zM60.0 283.1h0.9v0.9h-0.9zM71.4 277.9h0.9v0.9h-0.9zM56.1 272.4h0.9v0.9h-0.9zM71.5 272.7h0.9v0.9h-0.9zM63.5 278.7h0.9v0.9h-0.9zM55.5 277.7h0.9v0.9h-0.9zM56.5 278.7h0.9v0.9h-0.9zM63.7 276.3h0.9v0.9h-0.9zM57.2 276.8h0.9v0.9h-0.9zM57.3 272.8h0.9v0.9h-0.9zM58.1 283.5h0.9v0.9h-0.9zM63.6 283.8h0.9v0.9h-0.9zM53.3 284.6h0.9v0.9h-0.9zM63.3 282.4h0.9v0.9h-0.9zM65.0 280.9h0.9v0.9h-0.9zM57.8 281.8h0.9v0.9h-0.9zM56.2 274.8h0.9v0.9h-0.9zM53.7 276.7h0.9v0.9h-0.9zM63.9 275.2h0.9v0.9h-0.9zM71.8 272.2h0.9v0.9h-0.9zM65.2 274.4h0.9v0.9h-0.9zM65.6 282.3h0.9v0.9h-0.9zM68.0 271.9h0.9v0.9h-0.9zM58.2 279.6h0.9v0.9h-0.9zM73.7 271.6h0.9v0.9h-0.9zM66.0 281.0h0.9v0.9h-0.9z" fill="#2a2a2a"/>
<path d="M70.2 275.9h0.9v0.9h-0.9zM70.1 277.6h0.9v0.9h-0.9zM72.4 271.2h0.9v0.9h-0.9zM72.8 276.9h0.9v0.9h-0.9zM61.6 272.3h0.9v0.9h-0.9zM58.2 281.6h0.9v0.9h-0.9zM67.3 273.2h0.9v0.9h-0.9zM60.3 273.0h0.9v0.9h-0.9zM57.2 274.2h0.9v0.9h-0.9zM60.0 285.1h0.9v0.9h-0.9zM74.0 282.4h0.9v0.9h-0.9zM63.1 278.2h0.9v0.9h-0.9zM69.4 284.1h0.9v0.9h-0.9zM68.9 280.2h0.9v0.9h-0.9zM57.2 280.0h0.9v0.9h-0.9zM70.8 282.3h0.9v0.9h-0.9zM54.9 281.3h0.9v0.9h-0.9zM60.4 273.3h0.9v0.9h-0.9zM73.4 280.7h0.9v0.9h-0.9zM68.7 272.9h0.9v0.9h-0.9zM70.5 284.5h0.9v0.9h-0.9zM72.1 281.7h0.9v0.9h-0.9zM70.6 282.6h0.9v0.9h-0.9zM65.5 277.3h0.9v0.9h-0.9zM70.4 282.3h0.9v0.9h-0.9zM71.4 275.3h0.9v0.9h-0.9zM73.3 278.7h0.9v0.9h-0.9zM73.0 272.7h0.9v0.9h-0.9zM73.4 282.3h0.9v0.9h-0.9zM58.3 283.1h0.9v0.9h-0.9zM57.9 273.9h0.9v0.9h-0.9zM62.7 274.4h0.9v0.9h-0.9zM63.4 284.1h0.9v0.9h-0.9zM67.5 281.2h0.9v0.9h-0.9zM61.3 282.3h0.9v0.9h-0.9zM69.7 280.8h0.9v0.9h-0.9zM72.9 282.9h0.9v0.9h-0.9zM61.6 272.3h0.9v0.9h-0.9zM66.8 283.0h0.9v0.9h-0.9zM60.2 279.6h0.9v0.9h-0.9zM70.6 282.4h0.9v0.9h-0.9zM53.1 278.0h0.9v0.9h-0.9zM53.3 272.6h0.9v0.9h-0.9zM70.1 277.0h0.9v0.9h-0.9zM65.8 277.6h0.9v0.9h-0.9zM60.1 274.1h0.9v0.9h-0.9zM60.5 283.2h0.9v0.9h-0.9zM66.1 275.2h0.9v0.9h-0.9zM54.9 274.9h0.9v0.9h-0.9zM67.8 277.4h0.9v0.9h-0.9zM66.9 282.6h0.9v0.9h-0.9zM55.5 280.8h0.9v0.9h-0.9zM53.9 282.9h0.9v0.9h-0.9zM56.9 274.9h0.9v0.9h-0.9zM73.2 276.2h0.9v0.9h-0.9zM57.7 283.8h0.9v0.9h-0.9zM65.9 283.9h0.9v0.9h-0.9zM61.3 278.2h0.9v0.9h-0.9zM73.2 278.3h0.9v0.9h-0.9zM73.9 273.7h0.9v0.9h-0.9zM70.5 273.3h0.9v0.9h-0.9zM64.1 271.0h0.9v0.9h-0.9zM56.7 284.6h0.9v0.9h-0.9zM62.6 282.7h0.9v0.9h-0.9zM58.3 276.1h0.9v0.9h-0.9zM55.1 279.0h0.9v0.9h-0.9zM71.2 278.4h0.9v0.9h-0.9zM60.9 284.4h0.9v0.9h-0.9zM71.9 280.6h0.9v0.9h-0.9zM54.6 280.0h0.9v0.9h-0.9zM62.4 284.8h0.9v0.9h-0.9zM60.6 280.5h0.9v0.9h-0.9zM66.3 276.4h0.9v0.9h-0.9zM64.0 280.7h0.9v0.9h-0.9zM72.1 278.2h0.9v0.9h-0.9zM60.7 285.1h0.9v0.9h-0.9zM54.2 283.0h0.9v0.9h-0.9zM67.4 279.0h0.9v0.9h-0.9zM62.4 281.8h0.9v0.9h-0.9zM71.8 281.5h0.9v0.9h-0.9z" fill="#888"/>
<path d="M63.0 270.6h0.9v0.9h-0.9zM61.3 271.7h0.9v0.9h-0.9zM68.7 272.5h0.9v0.9h-0.9zM61.1 270.8h0.9v0.9h-0.9zM54.0 272.5h0.9v0.9h-0.9zM59.4 270.1h0.9v0.9h-0.9zM63.5 269.8h0.9v0.9h-0.9zM56.0 270.6h0.9v0.9h-0.9zM73.0 270.7h0.9v0.9h-0.9zM66.6 269.0h0.9v0.9h-0.9zM60.3 268.9h0.9v0.9h-0.9zM62.3 271.8h0.9v0.9h-0.9zM64.8 269.8h0.9v0.9h-0.9zM68.4 272.3h0.9v0.9h-0.9zM66.0 270.4h0.9v0.9h-0.9zM62.7 270.1h0.9v0.9h-0.9zM62.1 271.4h0.9v0.9h-0.9zM61.0 272.3h0.9v0.9h-0.9zM65.3 272.1h0.9v0.9h-0.9zM67.4 270.7h0.9v0.9h-0.9zM59.8 272.4h0.9v0.9h-0.9zM67.2 271.7h0.9v0.9h-0.9zM57.6 271.9h0.9v0.9h-0.9zM68.4 270.7h0.9v0.9h-0.9zM67.4 273.9h0.9v0.9h-0.9zM55.1 269.2h0.9v0.9h-0.9zM61.4 271.7h0.9v0.9h-0.9zM63.4 269.4h0.9v0.9h-0.9zM53.3 270.2h0.9v0.9h-0.9zM63.1 269.9h0.9v0.9h-0.9zM57.3 270.8h0.9v0.9h-0.9zM59.3 270.2h0.9v0.9h-0.9zM63.3 270.6h0.9v0.9h-0.9zM67.2 269.4h0.9v0.9h-0.9zM62.5 272.0h0.9v0.9h-0.9zM71.0 271.8h0.9v0.9h-0.9zM63.2 268.9h0.9v0.9h-0.9zM67.6 271.8h0.9v0.9h-0.9zM55.8 269.4h0.9v0.9h-0.9zM64.1 269.6h0.9v0.9h-0.9zM73.7 270.2h0.9v0.9h-0.9zM59.2 272.2h0.9v0.9h-0.9zM65.2 269.8h0.9v0.9h-0.9zM68.6 273.6h0.9v0.9h-0.9zM54.7 270.7h0.9v0.9h-0.9zM55.7 268.4h0.9v0.9h-0.9zM67.3 271.9h0.9v0.9h-0.9zM69.6 271.6h0.9v0.9h-0.9zM58.5 269.4h0.9v0.9h-0.9zM55.5 272.0h0.9v0.9h-0.9zM61.0 273.7h0.9v0.9h-0.9zM66.2 268.4h0.9v0.9h-0.9zM69.1 272.7h0.9v0.9h-0.9zM63.2 269.4h0.9v0.9h-0.9zM62.4 268.4h0.9v0.9h-0.9zM54.5 268.7h0.9v0.9h-0.9zM70.4 272.6h0.9v0.9h-0.9zM60.2 269.2h0.9v0.9h-0.9zM62.6 271.5h0.9v0.9h-0.9zM62.3 272.0h0.9v0.9h-0.9zM63.5 271.6h0.9v0.9h-0.9zM65.1 269.7h0.9v0.9h-0.9zM62.2 270.5h0.9v0.9h-0.9zM66.3 269.9h0.9v0.9h-0.9zM72.9 271.0h0.9v0.9h-0.9zM66.6 271.9h0.9v0.9h-0.9zM70.1 271.6h0.9v0.9h-0.9zM66.8 271.6h0.9v0.9h-0.9zM58.6 270.1h0.9v0.9h-0.9zM58.6 272.6h0.9v0.9h-0.9zM65.5 273.4h0.9v0.9h-0.9zM66.4 273.6h0.9v0.9h-0.9zM66.1 269.4h0.9v0.9h-0.9zM71.2 271.3h0.9v0.9h-0.9zM60.8 271.2h0.9v0.9h-0.9zM55.3 269.4h0.9v0.9h-0.9zM56.9 270.3h0.9v0.9h-0.9zM53.7 270.9h0.9v0.9h-0.9zM65.1 273.8h0.9v0.9h-0.9zM69.1 270.7h0.9v0.9h-0.9zM65.7 271.0h0.9v0.9h-0.9zM59.3 271.1h0.9v0.9h-0.9zM61.0 269.5h0.9v0.9h-0.9zM60.5 271.8h0.9v0.9h-0.9zM58.3 271.7h0.9v0.9h-0.9zM66.9 273.1h0.9v0.9h-0.9zM55.5 270.8h0.9v0.9h-0.9zM66.5 273.1h0.9v0.9h-0.9zM64.8 272.0h0.9v0.9h-0.9zM74.4 270.6h0.9v0.9h-0.9zM61.1 268.8h0.9v0.9h-0.9zM67.4 271.4h0.9v0.9h-0.9zM61.3 269.1h0.9v0.9h-0.9zM62.4 272.3h0.9v0.9h-0.9zM68.1 272.7h0.9v0.9h-0.9zM69.0 270.9h0.9v0.9h-0.9zM67.2 271.2h0.9v0.9h-0.9zM53.8 273.4h0.9v0.9h-0.9zM65.6 269.5h0.9v0.9h-0.9zM65.7 271.4h0.9v0.9h-0.9zM69.9 273.0h0.9v0.9h-0.9zM73.6 269.7h0.9v0.9h-0.9zM65.3 271.5h0.9v0.9h-0.9zM55.3 270.4h0.9v0.9h-0.9zM64.3 272.0h0.9v0.9h-0.9zM70.4 270.8h0.9v0.9h-0.9zM62.2 269.6h0.9v0.9h-0.9zM68.1 268.5h0.9v0.9h-0.9zM63.8 271.2h0.9v0.9h-0.9zM65.1 272.8h0.9v0.9h-0.9zM62.3 271.1h0.9v0.9h-0.9zM68.9 268.8h0.9v0.9h-0.9zM61.0 271.1h0.9v0.9h-0.9zM69.6 269.9h0.9v0.9h-0.9zM68.6 271.5h0.9v0.9h-0.9zM53.0 271.2h0.9v0.9h-0.9zM64.4 272.0h0.9v0.9h-0.9zM68.7 270.2h0.9v0.9h-0.9zM70.4 272.1h0.9v0.9h-0.9zM66.3 271.7h0.9v0.9h-0.9zM54.1 271.5h0.9v0.9h-0.9zM55.8 269.3h0.9v0.9h-0.9zM60.6 271.2h0.9v0.9h-0.9zM62.6 270.5h0.9v0.9h-0.9zM56.0 271.3h0.9v0.9h-0.9zM57.8 269.0h0.9v0.9h-0.9zM63.6 273.0h0.9v0.9h-0.9zM60.2 269.5h0.9v0.9h-0.9zM72.6 273.4h0.9v0.9h-0.9zM61.0 270.7h0.9v0.9h-0.9zM64.5 275.1h0.9v0.9h-0.9zM63.9 272.4h0.9v0.9h-0.9zM66.1 268.5h0.9v0.9h-0.9zM55.3 269.3h0.9v0.9h-0.9zM66.0 271.1h0.9v0.9h-0.9zM65.1 271.1h0.9v0.9h-0.9zM64.0 274.2h0.9v0.9h-0.9zM65.0 273.1h0.9v0.9h-0.9zM72.0 270.2h0.9v0.9h-0.9zM67.8 270.5h0.9v0.9h-0.9zM63.8 271.2h0.9v0.9h-0.9zM63.1 270.3h0.9v0.9h-0.9zM73.9 270.6h0.9v0.9h-0.9zM67.9 273.3h0.9v0.9h-0.9zM67.4 272.4h0.9v0.9h-0.9zM72.7 272.5h0.9v0.9h-0.9zM53.3 271.0h0.9v0.9h-0.9zM65.1 271.2h0.9v0.9h-0.9zM57.4 270.7h0.9v0.9h-0.9zM62.3 271.1h0.9v0.9h-0.9zM63.0 270.7h0.9v0.9h-0.9zM69.1 268.8h0.9v0.9h-0.9zM59.6 271.2h0.9v0.9h-0.9zM60.2 270.2h0.9v0.9h-0.9zM59.9 271.3h0.9v0.9h-0.9zM71.7 270.7h0.9v0.9h-0.9zM61.1 271.5h0.9v0.9h-0.9zM61.3 268.3h0.9v0.9h-0.9zM64.9 270.5h0.9v0.9h-0.9zM59.0 271.9h0.9v0.9h-0.9z" fill="#333"/>
<path d="M54.0 252.9h0.9v0.9h-0.9zM54.0 261.0h0.9v0.9h-0.9zM54.4 267.1h0.9v0.9h-0.9zM53.6 240.3h0.9v0.9h-0.9zM53.1 260.6h0.9v0.9h-0.9zM53.1 276.7h0.9v0.9h-0.9zM53.8 231.2h0.9v0.9h-0.9zM55.3 245.2h0.9v0.9h-0.9zM54.0 258.7h0.9v0.9h-0.9zM53.3 231.3h0.9v0.9h-0.9zM54.0 278.3h0.9v0.9h-0.9zM53.6 276.1h0.9v0.9h-0.9zM54.7 274.0h0.9v0.9h-0.9zM55.2 260.0h0.9v0.9h-0.9zM55.2 250.5h0.9v0.9h-0.9zM54.0 248.7h0.9v0.9h-0.9zM54.0 281.7h0.9v0.9h-0.9zM54.6 264.8h0.9v0.9h-0.9zM55.4 236.5h0.9v0.9h-0.9zM54.3 241.8h0.9v0.9h-0.9zM55.2 283.7h0.9v0.9h-0.9zM53.3 279.7h0.9v0.9h-0.9zM54.5 260.8h0.9v0.9h-0.9zM54.5 269.7h0.9v0.9h-0.9zM54.6 264.3h0.9v0.9h-0.9zM54.4 280.4h0.9v0.9h-0.9zM53.5 237.7h0.9v0.9h-0.9zM54.0 233.0h0.9v0.9h-0.9zM54.0 277.0h0.9v0.9h-0.9zM55.2 267.9h0.9v0.9h-0.9zM54.2 276.6h0.9v0.9h-0.9zM55.1 257.4h0.9v0.9h-0.9zM53.0 248.9h0.9v0.9h-0.9zM53.9 269.3h0.9v0.9h-0.9zM54.1 264.4h0.9v0.9h-0.9zM53.7 270.7h0.9v0.9h-0.9zM54.7 276.8h0.9v0.9h-0.9zM55.2 257.9h0.9v0.9h-0.9zM54.2 270.5h0.9v0.9h-0.9zM53.7 280.5h0.9v0.9h-0.9zM53.7 245.0h0.9v0.9h-0.9zM54.0 255.1h0.9v0.9h-0.9zM54.7 256.3h0.9v0.9h-0.9zM54.1 259.2h0.9v0.9h-0.9zM54.3 251.8h0.9v0.9h-0.9zM54.9 237.5h0.9v0.9h-0.9zM53.7 250.3h0.9v0.9h-0.9zM54.5 263.8h0.9v0.9h-0.9zM54.4 257.2h0.9v0.9h-0.9zM53.4 242.9h0.9v0.9h-0.9zM53.7 253.5h0.9v0.9h-0.9zM54.2 269.5h0.9v0.9h-0.9zM54.8 261.2h0.9v0.9h-0.9zM53.4 244.0h0.9v0.9h-0.9zM54.0 269.6h0.9v0.9h-0.9zM55.6 266.4h0.9v0.9h-0.9zM53.2 284.9h0.9v0.9h-0.9zM54.0 280.3h0.9v0.9h-0.9zM53.6 261.8h0.9v0.9h-0.9zM53.8 280.3h0.9v0.9h-0.9zM54.1 250.3h0.9v0.9h-0.9zM54.2 275.0h0.9v0.9h-0.9zM53.4 274.5h0.9v0.9h-0.9zM53.4 247.3h0.9v0.9h-0.9zM54.2 258.9h0.9v0.9h-0.9zM53.2 233.8h0.9v0.9h-0.9zM54.0 267.5h0.9v0.9h-0.9zM53.6 266.5h0.9v0.9h-0.9zM54.3 268.1h0.9v0.9h-0.9zM53.5 264.5h0.9v0.9h-0.9z" fill="#222"/>
<rect x="53.00" y="228.00" width="66.30" height="58.20" fill="none" stroke="#333" stroke-width="0.9"/>
<line x1="74.60" y1="228.00" x2="74.60" y2="286.20" stroke="#333" stroke-width="0.9"/>
<line x1="53.00" y1="268.40" x2="119.30" y2="268.40" stroke="#333" stroke-width="0.9"/>
<line x1="51.50" y1="286.20" x2="53.00" y2="286.20" stroke="#333" stroke-width="0.7"/>
<line x1="53.00" y1="286.20" x2="53.00" y2="287.70" stroke="#333" stroke-width="0.7"/>
<line x1="51.50" y1="271.65" x2="53.00" y2="271.65" stroke="#333" stroke-width="0.7"/>
<line x1="69.58" y1="286.20" x2="69.58" y2="287.70" stroke="#333" stroke-width="0.7"/>
<line x1="51.50" y1="257.10" x2="53.00" y2="257.10" stroke="#333" stroke-width="0.7"/>
<line x1="86.15" y1="286.20" x2="86.15" y2="287.70" stroke="#333" stroke-width="0.7"/>
<line x1="51.50" y1="242.55" x2="53.00" y2="242.55" stroke="#333" stroke-width="0.7"/>
<line x1="102.72" y1="286.20" x2="102.72" y2="287.70" stroke="#333" stroke-width="0.7"/>
<line x1="51.50" y1="228.00" x2="53.00" y2="228.00" stroke="#333" stroke-width="0.7"/>
<line x1="119.30" y1="286.20" x2="119.30" y2="287.70" stroke="#333" stroke-width="0.7"/>
<line x1="52.20" y1="281.82" x2="53.00" y2="281.82" stroke="#777" stroke-width="0.4"/>
<line x1="57.99" y1="286.20" x2="57.99" y2="287.00" stroke="#777" stroke-width="0.4"/>
<line x1="52.20" y1="279.26" x2="53.00" y2="279.26" stroke="#777" stroke-width="0.4"/>
<line x1="60.91" y1="286.20" x2="60.91" y2="287.00" stroke="#777" stroke-width="0.4"/>
<line x1="52.20" y1="277.44" x2="53.00" y2="277.44" stroke="#777" stroke-width="0.4"/>
<line x1="62.98" y1="286.20" x2="62.98" y2="287.00" stroke="#777" stroke-width="0.4"/>
<line x1="52.20" y1="276.03" x2="53.00" y2="276.03" stroke="#777" stroke-width="0.4"/>
<line x1="64.59" y1="286.20" x2="64.59" y2="287.00" stroke="#777" stroke-width="0.4"/>
<line x1="52.20" y1="274.88" x2="53.00" y2="274.88" stroke="#777" stroke-width="0.4"/>
<line x1="65.90" y1="286.20" x2="65.90" y2="287.00" stroke="#777" stroke-width="0.4"/>
<line x1="52.20" y1="273.90" x2="53.00" y2="273.90" stroke="#777" stroke-width="0.4"/>
<line x1="67.01" y1="286.20" x2="67.01" y2="287.00" stroke="#777" stroke-width="0.4"/>
<line x1="52.20" y1="273.06" x2="53.00" y2="273.06" stroke="#777" stroke-width="0.4"/>
<line x1="67.97" y1="286.20" x2="67.97" y2="287.00" stroke="#777" stroke-width="0.4"/>
<line x1="52.20" y1="272.32" x2="53.00" y2="272.32" stroke="#777" stroke-width="0.4"/>
<line x1="68.82" y1="286.20" x2="68.82" y2="287.00" stroke="#777" stroke-width="0.4"/>
<line x1="52.20" y1="267.27" x2="53.00" y2="267.27" stroke="#777" stroke-width="0.4"/>
<line x1="74.56" y1="286.20" x2="74.56" y2="287.00" stroke="#777" stroke-width="0.4"/>
<line x1="52.20" y1="264.71" x2="53.00" y2="264.71" stroke="#777" stroke-width="0.4"/>
<line x1="77.48" y1="286.20" x2="77.48" y2="287.00" stroke="#777" stroke-width="0.4"/>
<line x1="52.20" y1="262.89" x2="53.00" y2="262.89" stroke="#777" stroke-width="0.4"/>
<line x1="79.55" y1="286.20" x2="79.55" y2="287.00" stroke="#777" stroke-width="0.4"/>
<line x1="52.20" y1="261.48" x2="53.00" y2="261.48" stroke="#777" stroke-width="0.4"/>
<line x1="81.16" y1="286.20" x2="81.16" y2="287.00" stroke="#777" stroke-width="0.4"/>
<line x1="52.20" y1="260.33" x2="53.00" y2="260.33" stroke="#777" stroke-width="0.4"/>
<line x1="82.47" y1="286.20" x2="82.47" y2="287.00" stroke="#777" stroke-width="0.4"/>
<line x1="52.20" y1="259.35" x2="53.00" y2="259.35" stroke="#777" stroke-width="0.4"/>
<line x1="83.58" y1="286.20" x2="83.58" y2="287.00" stroke="#777" stroke-width="0.4"/>
<line x1="52.20" y1="258.51" x2="53.00" y2="258.51" stroke="#777" stroke-width="0.4"/>
<line x1="84.54" y1="286.20" x2="84.54" y2="287.00" stroke="#777" stroke-width="0.4"/>
<line x1="52.20" y1="257.77" x2="53.00" y2="257.77" stroke="#777" stroke-width="0.4"/>
<line x1="85.39" y1="286.20" x2="85.39" y2="287.00" stroke="#777" stroke-width="0.4"/>
<line x1="52.20" y1="252.72" x2="53.00" y2="252.72" stroke="#777" stroke-width="0.4"/>
<line x1="91.14" y1="286.20" x2="91.14" y2="287.00" stroke="#777" stroke-width="0.4"/>
<line x1="52.20" y1="250.16" x2="53.00" y2="250.16" stroke="#777" stroke-width="0.4"/>
<line x1="94.06" y1="286.20" x2="94.06" y2="287.00" stroke="#777" stroke-width="0.4"/>
<line x1="52.20" y1="248.34" x2="53.00" y2="248.34" stroke="#777" stroke-width="0.4"/>
<line x1="96.13" y1="286.20" x2="96.13" y2="287.00" stroke="#777" stroke-width="0.4"/>
<line x1="52.20" y1="246.93" x2="53.00" y2="246.93" stroke="#777" stroke-width="0.4"/>
<line x1="97.74" y1="286.20" x2="97.74" y2="287.00" stroke="#777" stroke-width="0.4"/>
<line x1="52.20" y1="245.78" x2="53.00" y2="245.78" stroke="#777" stroke-width="0.4"/>
<line x1="99.05" y1="286.20" x2="99.05" y2="287.00" stroke="#777" stroke-width="0.4"/>
<line x1="52.20" y1="244.80" x2="53.00" y2="244.80" stroke="#777" stroke-width="0.4"/>
<line x1="100.16" y1="286.20" x2="100.16" y2="287.00" stroke="#777" stroke-width="0.4"/>
<line x1="52.20" y1="243.96" x2="53.00" y2="243.96" stroke="#777" stroke-width="0.4"/>
<line x1="101.12" y1="286.20" x2="101.12" y2="287.00" stroke="#777" stroke-width="0.4"/>
<line x1="52.20" y1="243.22" x2="53.00" y2="243.22" stroke="#777" stroke-width="0.4"/>
<line x1="101.97" y1="286.20" x2="101.97" y2="287.00" stroke="#777" stroke-width="0.4"/>
<line x1="52.20" y1="238.17" x2="53.00" y2="238.17" stroke="#777" stroke-width="0.4"/>
<line x1="107.71" y1="286.20" x2="107.71" y2="287.00" stroke="#777" stroke-width="0.4"/>
<line x1="52.20" y1="235.61" x2="53.00" y2="235.61" stroke="#777" stroke-width="0.4"/>
<line x1="110.63" y1="286.20" x2="110.63" y2="287.00" stroke="#777" stroke-width="0.4"/>
<line x1="52.20" y1="233.79" x2="53.00" y2="233.79" stroke="#777" stroke-width="0.4"/>
<line x1="112.70" y1="286.20" x2="112.70" y2="287.00" stroke="#777" stroke-width="0.4"/>
<line x1="52.20" y1="232.38" x2="53.00" y2="232.38" stroke="#777" stroke-width="0.4"/>
<line x1="114.31" y1="286.20" x2="114.31" y2="287.00" stroke="#777" stroke-width="0.4"/>
<line x1="52.20" y1="231.23" x2="53.00" y2="231.23" stroke="#777" stroke-width="0.4"/>
<line x1="115.62" y1="286.20" x2="115.62" y2="287.00" stroke="#777" stroke-width="0.4"/>
<line x1="52.20" y1="230.25" x2="53.00" y2="230.25" stroke="#777" stroke-width="0.4"/>
<line x1="116.73" y1="286.20" x2="116.73" y2="287.00" stroke="#777" stroke-width="0.4"/>
<line x1="52.20" y1="229.41" x2="53.00" y2="229.41" stroke="#777" stroke-width="0.4"/>
<line x1="117.69" y1="286.20" x2="117.69" y2="287.00" stroke="#777" stroke-width="0.4"/>
<line x1="52.20" y1="228.67" x2="53.00" y2="228.67" stroke="#777" stroke-width="0.4"/>
<line x1="118.54" y1="286.20" x2="118.54" y2="287.00" stroke="#777" stroke-width="0.4"/>
<text transform="translate(49.40,286.20) rotate(-90)" font-family="Liberation Sans" font-size="6.4" text-anchor="middle" fill="#222">10<tspan font-size="4.6" dy="-3.2">0</tspan></text>
<text x="54.20" y="295.40" font-family="Liberation Sans" font-size="6.4" text-anchor="middle" fill="#222">10<tspan font-size="4.6" dy="-3.2">0</tspan></text>
<text transform="translate(49.40,271.65) rotate(-90)" font-family="Liberation Sans" font-size="6.4" text-anchor="middle" fill="#222">10<tspan font-size="4.6" dy="-3.2">1</tspan></text>
<text x="70.78" y="295.40" font-family="Liberation Sans" font-size="6.4" text-anchor="middle" fill="#222">10<tspan font-size="4.6" dy="-3.2">1</tspan></text>
<text transform="translate(49.40,257.10) rotate(-90)" font-family="Liberation Sans" font-size="6.4" text-anchor="middle" fill="#222">10<tspan font-size="4.6" dy="-3.2">2</tspan></text>
<text x="87.35" y="295.40" font-family="Liberation Sans" font-size="6.4" text-anchor="middle" fill="#222">10<tspan font-size="4.6" dy="-3.2">2</tspan></text>
<text transform="translate(49.40,242.55) rotate(-90)" font-family="Liberation Sans" font-size="6.4" text-anchor="middle" fill="#222">10<tspan font-size="4.6" dy="-3.2">3</tspan></text>
<text x="103.92" y="295.40" font-family="Liberation Sans" font-size="6.4" text-anchor="middle" fill="#222">10<tspan font-size="4.6" dy="-3.2">3</tspan></text>
<text transform="translate(49.40,228.00) rotate(-90)" font-family="Liberation Sans" font-size="6.4" text-anchor="middle" fill="#222">10<tspan font-size="4.6" dy="-3.2">4</tspan></text>
<text x="120.50" y="295.40" font-family="Liberation Sans" font-size="6.4" text-anchor="middle" fill="#222">10<tspan font-size="4.6" dy="-3.2">4</tspan></text>
<text transform="translate(39.50,259.10) rotate(-90)" font-family="Liberation Sans" font-size="4.6" text-anchor="middle" fill="#222">FL2-H</text>
<text x="85.65" y="299.20" font-family="Liberation Sans" font-size="4.6" text-anchor="middle" fill="#222">FL4-H</text>
<rect x="155.00" y="227.80" width="66.20" height="58.80" fill="#fff" stroke="none" stroke-width="1"/>
<path d="M160.0 256.5h0.8v0.8h-0.8zM156.5 264.4h0.8v0.8h-0.8zM167.0 256.9h0.8v0.8h-0.8zM156.6 261.6h0.8v0.8h-0.8zM157.4 256.7h0.8v0.8h-0.8zM175.5 249.1h0.8v0.8h-0.8zM158.7 266.4h0.8v0.8h-0.8zM173.8 266.9h0.8v0.8h-0.8zM160.8 258.3h0.8v0.8h-0.8zM156.6 258.6h0.8v0.8h-0.8zM164.8 261.8h0.8v0.8h-0.8zM169.4 252.3h0.8v0.8h-0.8zM158.9 229.0h0.8v0.8h-0.8zM166.2 266.8h0.8v0.8h-0.8zM166.7 261.1h0.8v0.8h-0.8zM160.1 231.4h0.8v0.8h-0.8zM169.1 269.4h0.8v0.8h-0.8zM158.1 247.3h0.8v0.8h-0.8zM173.6 228.9h0.8v0.8h-0.8zM156.8 234.8h0.8v0.8h-0.8zM159.7 240.3h0.8v0.8h-0.8zM158.0 262.9h0.8v0.8h-0.8zM159.2 269.4h0.8v0.8h-0.8zM175.4 232.6h0.8v0.8h-0.8zM163.7 267.7h0.8v0.8h-0.8zM175.6 265.6h0.8v0.8h-0.8zM160.1 236.4h0.8v0.8h-0.8zM175.6 264.8h0.8v0.8h-0.8zM165.7 230.6h0.8v0.8h-0.8zM159.7 267.6h0.8v0.8h-0.8zM173.1 236.7h0.8v0.8h-0.8zM159.9 245.7h0.8v0.8h-0.8zM163.8 263.6h0.8v0.8h-0.8zM162.4 266.6h0.8v0.8h-0.8zM163.1 264.3h0.8v0.8h-0.8zM158.5 269.4h0.8v0.8h-0.8zM168.2 269.2h0.8v0.8h-0.8zM160.6 235.1h0.8v0.8h-0.8zM170.4 259.4h0.8v0.8h-0.8zM158.0 268.7h0.8v0.8h-0.8zM175.8 255.4h0.8v0.8h-0.8zM158.2 247.4h0.8v0.8h-0.8zM167.6 243.8h0.8v0.8h-0.8zM174.2 250.4h0.8v0.8h-0.8zM158.6 262.4h0.8v0.8h-0.8zM167.7 242.2h0.8v0.8h-0.8zM174.3 261.1h0.8v0.8h-0.8zM175.4 262.0h0.8v0.8h-0.8zM174.9 264.6h0.8v0.8h-0.8zM157.3 246.6h0.8v0.8h-0.8zM161.3 267.1h0.8v0.8h-0.8zM176.0 249.5h0.8v0.8h-0.8zM166.5 248.3h0.8v0.8h-0.8zM173.4 255.3h0.8v0.8h-0.8zM166.1 231.4h0.8v0.8h-0.8zM157.5 268.0h0.8v0.8h-0.8zM156.6 240.5h0.8v0.8h-0.8zM158.9 247.8h0.8v0.8h-0.8zM170.0 268.9h0.8v0.8h-0.8zM162.9 249.0h0.8v0.8h-0.8zM166.4 264.8h0.8v0.8h-0.8zM171.1 259.8h0.8v0.8h-0.8zM172.4 262.2h0.8v0.8h-0.8zM170.4 263.1h0.8v0.8h-0.8zM169.1 239.6h0.8v0.8h-0.8zM159.5 239.8h0.8v0.8h-0.8zM160.0 255.2h0.8v0.8h-0.8zM171.0 243.3h0.8v0.8h-0.8zM171.6 237.7h0.8v0.8h-0.8zM157.8 266.3h0.8v0.8h-0.8zM160.8 250.4h0.8v0.8h-0.8zM155.8 250.8h0.8v0.8h-0.8zM164.1 248.0h0.8v0.8h-0.8zM167.5 236.5h0.8v0.8h-0.8zM162.7 261.1h0.8v0.8h-0.8zM158.8 240.8h0.8v0.8h-0.8zM158.5 265.0h0.8v0.8h-0.8zM173.1 258.4h0.8v0.8h-0.8zM168.9 240.6h0.8v0.8h-0.8zM176.0 236.9h0.8v0.8h-0.8zM159.3 267.2h0.8v0.8h-0.8zM160.6 246.0h0.8v0.8h-0.8zM174.0 237.3h0.8v0.8h-0.8zM167.8 268.0h0.8v0.8h-0.8zM166.6 265.0h0.8v0.8h-0.8zM170.7 268.1h0.8v0.8h-0.8zM155.1 259.0h0.8v0.8h-0.8zM158.8 268.8h0.8v0.8h-0.8zM160.0 267.3h0.8v0.8h-0.8zM160.8 249.6h0.8v0.8h-0.8zM158.2 240.0h0.8v0.8h-0.8zM162.3 245.2h0.8v0.8h-0.8zM164.1 266.2h0.8v0.8h-0.8zM165.4 269.1h0.8v0.8h-0.8zM156.8 260.2h0.8v0.8h-0.8zM158.5 236.7h0.8v0.8h-0.8zM170.1 248.3h0.8v0.8h-0.8zM160.7 257.9h0.8v0.8h-0.8zM165.7 245.3h0.8v0.8h-0.8zM156.1 245.2h0.8v0.8h-0.8zM163.4 234.2h0.8v0.8h-0.8zM170.6 263.1h0.8v0.8h-0.8zM157.0 254.0h0.8v0.8h-0.8zM170.4 260.2h0.8v0.8h-0.8zM172.4 264.4h0.8v0.8h-0.8zM157.0 250.0h0.8v0.8h-0.8zM169.4 255.6h0.8v0.8h-0.8zM159.2 263.5h0.8v0.8h-0.8zM167.6 238.7h0.8v0.8h-0.8zM160.2 244.7h0.8v0.8h-0.8z" fill="#999"/>
<path d="M160.6 259.8h0.8v0.8h-0.8zM170.7 264.5h0.8v0.8h-0.8zM155.7 268.6h0.8v0.8h-0.8zM161.3 263.3h0.8v0.8h-0.8zM168.9 265.1h0.8v0.8h-0.8zM174.6 258.0h0.8v0.8h-0.8zM159.4 264.6h0.8v0.8h-0.8zM160.7 257.3h0.8v0.8h-0.8zM158.4 267.3h0.8v0.8h-0.8zM172.9 254.3h0.8v0.8h-0.8zM170.5 254.1h0.8v0.8h-0.8zM161.7 265.5h0.8v0.8h-0.8zM161.8 269.1h0.8v0.8h-0.8zM168.2 266.6h0.8v0.8h-0.8zM156.9 259.3h0.8v0.8h-0.8zM158.3 266.3h0.8v0.8h-0.8zM175.2 262.4h0.8v0.8h-0.8zM159.3 262.6h0.8v0.8h-0.8zM157.6 258.7h0.8v0.8h-0.8zM162.9 269.1h0.8v0.8h-0.8zM170.5 254.3h0.8v0.8h-0.8zM157.3 266.8h0.8v0.8h-0.8zM156.5 261.8h0.8v0.8h-0.8zM160.5 262.9h0.8v0.8h-0.8zM169.5 268.2h0.8v0.8h-0.8zM165.3 261.8h0.8v0.8h-0.8zM170.5 268.5h0.8v0.8h-0.8zM164.7 261.0h0.8v0.8h-0.8zM175.1 258.2h0.8v0.8h-0.8zM157.3 264.6h0.8v0.8h-0.8zM164.9 264.9h0.8v0.8h-0.8zM155.8 264.1h0.8v0.8h-0.8zM176.3 265.6h0.8v0.8h-0.8zM165.1 267.1h0.8v0.8h-0.8zM168.4 268.6h0.8v0.8h-0.8zM171.3 266.4h0.8v0.8h-0.8zM171.7 266.1h0.8v0.8h-0.8zM163.5 268.1h0.8v0.8h-0.8zM157.0 266.8h0.8v0.8h-0.8zM161.3 268.9h0.8v0.8h-0.8zM171.7 266.8h0.8v0.8h-0.8zM156.5 266.4h0.8v0.8h-0.8zM158.6 252.9h0.8v0.8h-0.8zM158.7 266.2h0.8v0.8h-0.8zM158.8 268.7h0.8v0.8h-0.8zM162.3 260.2h0.8v0.8h-0.8zM157.7 268.5h0.8v0.8h-0.8zM157.5 245.6h0.8v0.8h-0.8zM160.6 268.5h0.8v0.8h-0.8zM174.6 250.7h0.8v0.8h-0.8zM165.3 257.8h0.8v0.8h-0.8zM161.3 266.3h0.8v0.8h-0.8zM165.1 266.5h0.8v0.8h-0.8zM157.8 255.3h0.8v0.8h-0.8zM159.2 265.5h0.8v0.8h-0.8zM172.7 268.5h0.8v0.8h-0.8zM162.4 269.5h0.8v0.8h-0.8zM165.2 262.7h0.8v0.8h-0.8zM176.5 259.1h0.8v0.8h-0.8zM162.0 255.4h0.8v0.8h-0.8zM158.7 269.3h0.8v0.8h-0.8zM159.1 261.4h0.8v0.8h-0.8zM164.1 261.8h0.8v0.8h-0.8zM167.5 253.4h0.8v0.8h-0.8zM155.2 268.6h0.8v0.8h-0.8zM174.5 257.4h0.8v0.8h-0.8zM175.7 261.5h0.8v0.8h-0.8zM172.8 254.1h0.8v0.8h-0.8zM160.8 263.8h0.8v0.8h-0.8zM162.7 263.1h0.8v0.8h-0.8zM163.2 264.6h0.8v0.8h-0.8zM174.7 265.5h0.8v0.8h-0.8zM163.9 257.2h0.8v0.8h-0.8zM171.4 255.4h0.8v0.8h-0.8zM160.3 255.4h0.8v0.8h-0.8zM176.5 261.7h0.8v0.8h-0.8zM170.8 269.1h0.8v0.8h-0.8zM160.5 253.1h0.8v0.8h-0.8zM169.2 257.0h0.8v0.8h-0.8zM157.9 257.9h0.8v0.8h-0.8zM166.7 261.0h0.8v0.8h-0.8zM162.5 255.3h0.8v0.8h-0.8zM173.3 258.9h0.8v0.8h-0.8zM158.0 254.5h0.8v0.8h-0.8zM175.4 269.1h0.8v0.8h-0.8zM169.2 256.1h0.8v0.8h-0.8zM156.0 261.8h0.8v0.8h-0.8zM164.9 261.3h0.8v0.8h-0.8zM162.4 266.4h0.8v0.8h-0.8zM173.9 254.2h0.8v0.8h-0.8zM159.6 265.9h0.8v0.8h-0.8zM157.2 263.9h0.8v0.8h-0.8zM162.1 253.8h0.8v0.8h-0.8zM159.9 267.0h0.8v0.8h-0.8zM156.5 256.1h0.8v0.8h-0.8zM159.3 263.5h0.8v0.8h-0.8zM165.0 256.4h0.8v0.8h-0.8zM175.7 260.2h0.8v0.8h-0.8zM161.7 256.7h0.8v0.8h-0.8zM165.2 255.5h0.8v0.8h-0.8zM174.5 268.8h0.8v0.8h-0.8zM174.0 261.9h0.8v0.8h-0.8zM167.4 260.2h0.8v0.8h-0.8zM173.0 262.2h0.8v0.8h-0.8zM166.3 260.3h0.8v0.8h-0.8zM174.1 268.7h0.8v0.8h-0.8zM169.4 267.4h0.8v0.8h-0.8zM162.9 261.4h0.8v0.8h-0.8zM175.8 268.1h0.8v0.8h-0.8zM174.8 265.2h0.8v0.8h-0.8zM155.8 261.5h0.8v0.8h-0.8zM170.6 264.4h0.8v0.8h-0.8zM164.3 260.4h0.8v0.8h-0.8zM172.8 263.6h0.8v0.8h-0.8zM172.1 265.6h0.8v0.8h-0.8zM171.2 264.6h0.8v0.8h-0.8zM172.4 266.0h0.8v0.8h-0.8zM176.5 251.3h0.8v0.8h-0.8zM164.4 259.2h0.8v0.8h-0.8zM175.2 259.9h0.8v0.8h-0.8zM159.4 267.0h0.8v0.8h-0.8zM170.9 262.0h0.8v0.8h-0.8zM159.1 259.5h0.8v0.8h-0.8zM169.5 266.5h0.8v0.8h-0.8zM158.1 230.6h0.8v0.8h-0.8zM167.2 258.7h0.8v0.8h-0.8zM172.3 261.6h0.8v0.8h-0.8zM167.0 251.5h0.8v0.8h-0.8zM171.5 263.8h0.8v0.8h-0.8zM175.1 263.3h0.8v0.8h-0.8zM159.5 259.1h0.8v0.8h-0.8zM174.5 268.0h0.8v0.8h-0.8zM174.5 259.3h0.8v0.8h-0.8zM175.2 266.6h0.8v0.8h-0.8zM167.2 261.7h0.8v0.8h-0.8zM172.4 259.6h0.8v0.8h-0.8zM164.2 264.0h0.8v0.8h-0.8zM161.0 265.4h0.8v0.8h-0.8zM164.1 259.5h0.8v0.8h-0.8zM157.0 268.8h0.8v0.8h-0.8zM155.1 261.9h0.8v0.8h-0.8zM171.2 257.5h0.8v0.8h-0.8zM160.1 269.2h0.8v0.8h-0.8zM158.8 258.8h0.8v0.8h-0.8zM168.1 264.6h0.8v0.8h-0.8zM167.7 266.2h0.8v0.8h-0.8zM170.6 269.5h0.8v0.8h-0.8zM170.4 255.4h0.8v0.8h-0.8zM160.9 258.8h0.8v0.8h-0.8zM156.1 252.2h0.8v0.8h-0.8zM175.5 266.0h0.8v0.8h-0.8zM156.5 268.3h0.8v0.8h-0.8zM172.3 267.4h0.8v0.8h-0.8zM165.0 265.1h0.8v0.8h-0.8zM168.9 261.5h0.8v0.8h-0.8zM171.6 269.5h0.8v0.8h-0.8zM160.3 267.9h0.8v0.8h-0.8zM163.9 264.5h0.8v0.8h-0.8zM168.4 267.8h0.8v0.8h-0.8zM159.7 264.5h0.8v0.8h-0.8zM156.8 266.9h0.8v0.8h-0.8zM165.9 262.3h0.8v0.8h-0.8zM159.0 260.0h0.8v0.8h-0.8zM176.1 268.4h0.8v0.8h-0.8zM165.6 260.0h0.8v0.8h-0.8zM159.3 266.1h0.8v0.8h-0.8zM167.8 266.2h0.8v0.8h-0.8zM156.6 265.3h0.8v0.8h-0.8zM170.2 260.6h0.8v0.8h-0.8zM162.7 267.7h0.8v0.8h-0.8zM164.2 261.4h0.8v0.8h-0.8zM163.5 258.5h0.8v0.8h-0.8zM158.3 261.9h0.8v0.8h-0.8zM155.1 260.8h0.8v0.8h-0.8zM173.4 268.5h0.8v0.8h-0.8zM168.7 261.3h0.8v0.8h-0.8zM175.0 261.8h0.8v0.8h-0.8zM161.5 264.0h0.8v0.8h-0.8zM167.0 262.0h0.8v0.8h-0.8zM175.6 257.1h0.8v0.8h-0.8zM158.2 257.9h0.8v0.8h-0.8zM172.2 256.5h0.8v0.8h-0.8zM167.8 266.0h0.8v0.8h-0.8zM175.5 262.2h0.8v0.8h-0.8zM166.9 264.9h0.8v0.8h-0.8zM157.5 266.3h0.8v0.8h-0.8zM174.5 268.9h0.8v0.8h-0.8zM162.0 267.6h0.8v0.8h-0.8zM165.4 261.0h0.8v0.8h-0.8zM174.4 269.4h0.8v0.8h-0.8zM162.6 249.3h0.8v0.8h-0.8zM168.9 265.5h0.8v0.8h-0.8zM165.3 265.2h0.8v0.8h-0.8zM168.2 261.9h0.8v0.8h-0.8zM172.1 269.0h0.8v0.8h-0.8zM163.4 261.0h0.8v0.8h-0.8zM162.9 260.0h0.8v0.8h-0.8zM161.0 263.8h0.8v0.8h-0.8zM162.2 267.3h0.8v0.8h-0.8zM170.0 264.8h0.8v0.8h-0.8zM155.5 268.5h0.8v0.8h-0.8zM172.5 266.6h0.8v0.8h-0.8zM158.2 269.2h0.8v0.8h-0.8zM160.7 266.5h0.8v0.8h-0.8zM170.9 265.9h0.8v0.8h-0.8zM175.5 250.2h0.8v0.8h-0.8zM167.0 266.2h0.8v0.8h-0.8zM175.1 267.8h0.8v0.8h-0.8zM164.4 264.4h0.8v0.8h-0.8zM173.6 255.6h0.8v0.8h-0.8zM163.4 254.4h0.8v0.8h-0.8zM171.4 259.5h0.8v0.8h-0.8zM168.0 267.1h0.8v0.8h-0.8zM156.2 269.2h0.8v0.8h-0.8zM157.7 255.6h0.8v0.8h-0.8zM168.7 267.7h0.8v0.8h-0.8zM157.4 266.6h0.8v0.8h-0.8zM168.2 264.8h0.8v0.8h-0.8zM169.6 261.2h0.8v0.8h-0.8zM176.2 268.0h0.8v0.8h-0.8zM164.4 264.3h0.8v0.8h-0.8zM160.0 265.2h0.8v0.8h-0.8zM176.1 255.5h0.8v0.8h-0.8zM158.8 269.1h0.8v0.8h-0.8zM158.9 264.8h0.8v0.8h-0.8zM171.0 262.8h0.8v0.8h-0.8zM156.3 256.2h0.8v0.8h-0.8zM155.7 267.0h0.8v0.8h-0.8zM164.5 266.6h0.8v0.8h-0.8zM164.8 258.2h0.8v0.8h-0.8zM174.1 263.0h0.8v0.8h-0.8zM163.6 264.8h0.8v0.8h-0.8zM175.5 256.9h0.8v0.8h-0.8zM167.2 254.2h0.8v0.8h-0.8zM158.1 265.6h0.8v0.8h-0.8zM170.0 261.7h0.8v0.8h-0.8zM155.1 264.5h0.8v0.8h-0.8zM166.2 254.6h0.8v0.8h-0.8zM155.1 266.8h0.8v0.8h-0.8zM169.5 260.7h0.8v0.8h-0.8zM167.4 268.4h0.8v0.8h-0.8zM175.8 260.5h0.8v0.8h-0.8zM175.7 258.4h0.8v0.8h-0.8zM161.9 264.2h0.8v0.8h-0.8zM163.2 267.3h0.8v0.8h-0.8zM172.2 250.3h0.8v0.8h-0.8zM172.1 257.7h0.8v0.8h-0.8zM169.9 244.8h0.8v0.8h-0.8zM161.9 269.3h0.8v0.8h-0.8zM168.3 262.6h0.8v0.8h-0.8zM158.4 263.1h0.8v0.8h-0.8zM161.0 261.5h0.8v0.8h-0.8zM175.0 251.6h0.8v0.8h-0.8zM171.4 259.3h0.8v0.8h-0.8zM158.2 268.8h0.8v0.8h-0.8zM174.7 257.9h0.8v0.8h-0.8zM167.7 250.8h0.8v0.8h-0.8zM156.9 260.4h0.8v0.8h-0.8zM171.9 263.8h0.8v0.8h-0.8zM157.5 265.2h0.8v0.8h-0.8zM173.9 256.1h0.8v0.8h-0.8zM160.6 264.4h0.8v0.8h-0.8zM170.8 267.2h0.8v0.8h-0.8zM165.7 266.3h0.8v0.8h-0.8zM170.7 266.7h0.8v0.8h-0.8zM161.0 256.8h0.8v0.8h-0.8zM163.0 250.7h0.8v0.8h-0.8zM176.7 259.2h0.8v0.8h-0.8zM164.3 254.9h0.8v0.8h-0.8zM171.5 262.5h0.8v0.8h-0.8zM164.9 263.6h0.8v0.8h-0.8zM175.6 262.7h0.8v0.8h-0.8zM165.3 258.6h0.8v0.8h-0.8zM158.1 259.5h0.8v0.8h-0.8zM169.7 244.3h0.8v0.8h-0.8zM166.7 260.7h0.8v0.8h-0.8zM171.1 260.9h0.8v0.8h-0.8zM163.2 260.2h0.8v0.8h-0.8zM160.4 268.7h0.8v0.8h-0.8zM165.4 267.5h0.8v0.8h-0.8zM156.9 258.3h0.8v0.8h-0.8zM155.7 254.3h0.8v0.8h-0.8zM165.1 255.5h0.8v0.8h-0.8zM170.8 266.8h0.8v0.8h-0.8zM162.4 264.3h0.8v0.8h-0.8zM158.0 267.2h0.8v0.8h-0.8zM172.7 265.4h0.8v0.8h-0.8zM165.9 265.6h0.8v0.8h-0.8zM162.3 258.9h0.8v0.8h-0.8zM165.3 251.8h0.8v0.8h-0.8zM172.1 269.6h0.8v0.8h-0.8zM159.8 249.7h0.8v0.8h-0.8zM174.7 251.4h0.8v0.8h-0.8zM171.7 254.0h0.8v0.8h-0.8zM168.7 252.3h0.8v0.8h-0.8zM164.6 266.0h0.8v0.8h-0.8zM157.1 255.6h0.8v0.8h-0.8zM169.8 261.2h0.8v0.8h-0.8zM171.2 268.5h0.8v0.8h-0.8zM172.9 259.6h0.8v0.8h-0.8zM175.9 264.9h0.8v0.8h-0.8zM169.8 267.1h0.8v0.8h-0.8zM167.0 265.1h0.8v0.8h-0.8zM158.0 266.5h0.8v0.8h-0.8zM165.2 262.5h0.8v0.8h-0.8zM163.0 269.3h0.8v0.8h-0.8zM167.0 268.7h0.8v0.8h-0.8zM158.5 257.6h0.8v0.8h-0.8zM174.2 254.2h0.8v0.8h-0.8zM176.3 252.7h0.8v0.8h-0.8zM158.0 249.2h0.8v0.8h-0.8zM163.4 258.0h0.8v0.8h-0.8zM166.9 268.8h0.8v0.8h-0.8zM159.4 267.6h0.8v0.8h-0.8zM157.7 266.9h0.8v0.8h-0.8zM167.2 257.2h0.8v0.8h-0.8zM175.6 266.2h0.8v0.8h-0.8zM175.6 261.8h0.8v0.8h-0.8zM168.8 252.3h0.8v0.8h-0.8zM169.5 264.8h0.8v0.8h-0.8zM162.8 263.6h0.8v0.8h-0.8zM176.0 264.9h0.8v0.8h-0.8zM160.3 266.4h0.8v0.8h-0.8zM155.2 269.0h0.8v0.8h-0.8zM167.0 266.7h0.8v0.8h-0.8zM157.6 259.3h0.8v0.8h-0.8zM173.2 262.9h0.8v0.8h-0.8zM175.1 257.7h0.8v0.8h-0.8zM176.5 263.4h0.8v0.8h-0.8zM155.0 256.8h0.8v0.8h-0.8zM156.1 248.4h0.8v0.8h-0.8zM161.8 259.0h0.8v0.8h-0.8zM167.3 260.3h0.8v0.8h-0.8zM174.6 269.1h0.8v0.8h-0.8zM167.8 268.9h0.8v0.8h-0.8zM159.4 268.3h0.8v0.8h-0.8zM158.9 267.5h0.8v0.8h-0.8zM175.2 266.0h0.8v0.8h-0.8zM160.8 261.7h0.8v0.8h-0.8zM162.0 262.2h0.8v0.8h-0.8zM176.0 258.1h0.8v0.8h-0.8zM156.5 261.8h0.8v0.8h-0.8zM173.0 265.3h0.8v0.8h-0.8zM171.2 269.1h0.8v0.8h-0.8zM160.9 264.5h0.8v0.8h-0.8zM169.4 262.7h0.8v0.8h-0.8zM175.7 241.0h0.8v0.8h-0.8zM168.5 268.5h0.8v0.8h-0.8zM169.2 261.9h0.8v0.8h-0.8zM167.0 257.3h0.8v0.8h-0.8zM162.8 264.0h0.8v0.8h-0.8zM158.1 265.5h0.8v0.8h-0.8zM158.4 262.5h0.8v0.8h-0.8zM172.4 259.9h0.8v0.8h-0.8zM158.5 257.8h0.8v0.8h-0.8zM167.2 269.4h0.8v0.8h-0.8zM164.0 268.1h0.8v0.8h-0.8zM156.3 269.2h0.8v0.8h-0.8zM164.2 268.3h0.8v0.8h-0.8zM160.2 254.5h0.8v0.8h-0.8zM172.9 269.4h0.8v0.8h-0.8zM165.4 265.6h0.8v0.8h-0.8zM163.4 261.8h0.8v0.8h-0.8zM159.8 256.4h0.8v0.8h-0.8zM169.5 264.6h0.8v0.8h-0.8zM165.9 261.1h0.8v0.8h-0.8zM175.0 265.1h0.8v0.8h-0.8zM156.5 266.1h0.8v0.8h-0.8zM156.8 267.7h0.8v0.8h-0.8zM169.1 266.2h0.8v0.8h-0.8zM164.2 265.7h0.8v0.8h-0.8zM175.3 259.5h0.8v0.8h-0.8zM160.3 265.3h0.8v0.8h-0.8zM162.0 263.3h0.8v0.8h-0.8zM174.7 267.0h0.8v0.8h-0.8zM158.6 260.4h0.8v0.8h-0.8zM156.0 257.1h0.8v0.8h-0.8zM169.1 257.5h0.8v0.8h-0.8zM158.4 267.4h0.8v0.8h-0.8zM166.0 267.4h0.8v0.8h-0.8zM162.3 257.7h0.8v0.8h-0.8zM170.6 260.7h0.8v0.8h-0.8zM166.1 263.0h0.8v0.8h-0.8zM164.4 257.9h0.8v0.8h-0.8zM169.3 253.3h0.8v0.8h-0.8zM155.1 259.0h0.8v0.8h-0.8zM159.8 264.8h0.8v0.8h-0.8zM156.9 266.0h0.8v0.8h-0.8zM169.9 261.5h0.8v0.8h-0.8zM160.8 269.3h0.8v0.8h-0.8zM169.6 268.0h0.8v0.8h-0.8zM169.9 260.6h0.8v0.8h-0.8zM164.3 267.7h0.8v0.8h-0.8zM166.8 266.7h0.8v0.8h-0.8zM176.5 266.0h0.8v0.8h-0.8zM165.9 267.6h0.8v0.8h-0.8zM165.6 265.0h0.8v0.8h-0.8zM165.8 257.0h0.8v0.8h-0.8zM172.6 264.1h0.8v0.8h-0.8zM172.7 249.3h0.8v0.8h-0.8zM165.3 263.1h0.8v0.8h-0.8zM157.8 261.6h0.8v0.8h-0.8zM169.9 265.8h0.8v0.8h-0.8zM176.2 258.4h0.8v0.8h-0.8zM156.0 266.1h0.8v0.8h-0.8zM157.4 253.8h0.8v0.8h-0.8zM162.0 258.4h0.8v0.8h-0.8zM170.7 265.7h0.8v0.8h-0.8zM162.6 266.7h0.8v0.8h-0.8zM170.5 261.5h0.8v0.8h-0.8zM161.0 260.0h0.8v0.8h-0.8zM155.1 268.3h0.8v0.8h-0.8zM157.0 266.9h0.8v0.8h-0.8zM168.8 251.8h0.8v0.8h-0.8zM158.4 259.7h0.8v0.8h-0.8zM157.5 259.3h0.8v0.8h-0.8zM163.3 269.2h0.8v0.8h-0.8zM155.9 268.9h0.8v0.8h-0.8zM162.7 248.3h0.8v0.8h-0.8zM161.9 248.2h0.8v0.8h-0.8zM174.7 265.6h0.8v0.8h-0.8zM167.8 252.0h0.8v0.8h-0.8zM176.0 256.1h0.8v0.8h-0.8zM167.3 252.4h0.8v0.8h-0.8zM159.3 259.3h0.8v0.8h-0.8zM162.3 268.4h0.8v0.8h-0.8zM163.1 257.6h0.8v0.8h-0.8zM159.8 268.8h0.8v0.8h-0.8zM161.0 258.9h0.8v0.8h-0.8zM164.1 269.4h0.8v0.8h-0.8z" fill="#2a2a2a"/>
<path d="M180.0 278.2h0.8v0.8h-0.8zM182.2 274.1h0.8v0.8h-0.8zM178.7 282.3h0.8v0.8h-0.8zM192.2 278.0h0.8v0.8h-0.8zM176.8 277.9h0.8v0.8h-0.8zM199.5 275.7h0.8v0.8h-0.8zM179.2 281.1h0.8v0.8h-0.8zM186.5 282.9h0.8v0.8h-0.8zM192.8 273.0h0.8v0.8h-0.8zM178.5 276.9h0.8v0.8h-0.8zM182.1 275.4h0.8v0.8h-0.8zM183.4 281.8h0.8v0.8h-0.8zM177.4 273.4h0.8v0.8h-0.8zM183.5 282.3h0.8v0.8h-0.8zM185.2 279.9h0.8v0.8h-0.8zM189.1 280.8h0.8v0.8h-0.8zM177.2 275.4h0.8v0.8h-0.8zM180.2 270.1h0.8v0.8h-0.8zM188.6 280.5h0.8v0.8h-0.8zM179.6 285.3h0.8v0.8h-0.8zM179.1 275.1h0.8v0.8h-0.8zM183.5 271.4h0.8v0.8h-0.8zM181.3 277.5h0.8v0.8h-0.8zM192.4 275.6h0.8v0.8h-0.8zM178.1 281.1h0.8v0.8h-0.8zM188.2 284.1h0.8v0.8h-0.8zM188.4 276.7h0.8v0.8h-0.8zM193.1 276.4h0.8v0.8h-0.8zM187.3 272.6h0.8v0.8h-0.8zM201.6 272.2h0.8v0.8h-0.8zM181.1 283.4h0.8v0.8h-0.8zM198.9 275.0h0.8v0.8h-0.8zM189.2 276.5h0.8v0.8h-0.8zM193.6 272.7h0.8v0.8h-0.8zM178.1 271.5h0.8v0.8h-0.8zM186.3 284.2h0.8v0.8h-0.8zM186.0 279.2h0.8v0.8h-0.8zM180.4 273.7h0.8v0.8h-0.8zM186.6 275.7h0.8v0.8h-0.8zM178.0 269.8h0.8v0.8h-0.8zM188.4 275.0h0.8v0.8h-0.8zM188.9 280.6h0.8v0.8h-0.8zM181.3 269.9h0.8v0.8h-0.8zM181.3 280.5h0.8v0.8h-0.8zM183.1 272.8h0.8v0.8h-0.8zM182.1 283.5h0.8v0.8h-0.8zM182.8 279.1h0.8v0.8h-0.8zM180.6 278.9h0.8v0.8h-0.8zM177.9 274.9h0.8v0.8h-0.8zM179.1 280.0h0.8v0.8h-0.8zM186.3 271.6h0.8v0.8h-0.8zM183.8 273.0h0.8v0.8h-0.8zM180.6 275.5h0.8v0.8h-0.8zM186.3 284.2h0.8v0.8h-0.8zM198.6 273.5h0.8v0.8h-0.8zM196.2 283.5h0.8v0.8h-0.8zM177.2 275.7h0.8v0.8h-0.8zM190.0 270.2h0.8v0.8h-0.8zM181.9 274.0h0.8v0.8h-0.8zM194.2 282.2h0.8v0.8h-0.8zM205.9 270.5h0.8v0.8h-0.8zM180.6 275.8h0.8v0.8h-0.8zM178.6 282.2h0.8v0.8h-0.8zM190.6 283.2h0.8v0.8h-0.8zM186.1 282.6h0.8v0.8h-0.8zM179.7 271.3h0.8v0.8h-0.8zM177.7 276.7h0.8v0.8h-0.8zM193.4 285.7h0.8v0.8h-0.8zM186.1 273.0h0.8v0.8h-0.8zM182.7 269.6h0.8v0.8h-0.8zM180.3 275.6h0.8v0.8h-0.8zM179.1 276.6h0.8v0.8h-0.8zM185.0 281.0h0.8v0.8h-0.8zM177.1 278.0h0.8v0.8h-0.8zM182.7 277.9h0.8v0.8h-0.8zM177.4 277.6h0.8v0.8h-0.8zM190.5 273.0h0.8v0.8h-0.8zM191.0 283.8h0.8v0.8h-0.8zM182.4 279.6h0.8v0.8h-0.8zM183.7 278.7h0.8v0.8h-0.8zM177.6 285.1h0.8v0.8h-0.8zM180.8 275.6h0.8v0.8h-0.8zM187.7 278.2h0.8v0.8h-0.8zM186.3 274.9h0.8v0.8h-0.8zM185.8 275.1h0.8v0.8h-0.8zM193.7 276.4h0.8v0.8h-0.8zM185.8 276.1h0.8v0.8h-0.8zM179.2 272.2h0.8v0.8h-0.8zM184.4 276.8h0.8v0.8h-0.8zM189.3 276.2h0.8v0.8h-0.8zM178.6 277.0h0.8v0.8h-0.8zM194.3 283.1h0.8v0.8h-0.8zM188.2 270.1h0.8v0.8h-0.8zM188.2 273.2h0.8v0.8h-0.8zM191.4 280.5h0.8v0.8h-0.8zM180.4 277.7h0.8v0.8h-0.8zM183.2 272.4h0.8v0.8h-0.8zM177.8 280.1h0.8v0.8h-0.8zM179.4 280.0h0.8v0.8h-0.8zM184.0 271.8h0.8v0.8h-0.8zM181.4 277.9h0.8v0.8h-0.8zM180.7 274.7h0.8v0.8h-0.8zM181.8 277.4h0.8v0.8h-0.8zM178.4 279.6h0.8v0.8h-0.8zM182.4 280.6h0.8v0.8h-0.8zM183.1 278.4h0.8v0.8h-0.8zM189.6 278.9h0.8v0.8h-0.8zM188.3 273.2h0.8v0.8h-0.8zM194.3 278.8h0.8v0.8h-0.8zM183.4 281.8h0.8v0.8h-0.8zM183.9 285.3h0.8v0.8h-0.8zM184.9 282.9h0.8v0.8h-0.8zM179.4 279.5h0.8v0.8h-0.8zM180.6 270.1h0.8v0.8h-0.8zM201.2 281.4h0.8v0.8h-0.8zM187.5 273.9h0.8v0.8h-0.8zM180.2 283.0h0.8v0.8h-0.8zM181.8 278.0h0.8v0.8h-0.8zM197.6 276.7h0.8v0.8h-0.8zM178.8 283.0h0.8v0.8h-0.8zM181.4 283.6h0.8v0.8h-0.8zM188.1 272.9h0.8v0.8h-0.8zM184.0 270.0h0.8v0.8h-0.8zM182.1 275.1h0.8v0.8h-0.8zM180.2 279.7h0.8v0.8h-0.8zM178.3 271.6h0.8v0.8h-0.8zM181.2 274.1h0.8v0.8h-0.8zM183.7 284.5h0.8v0.8h-0.8zM193.4 285.6h0.8v0.8h-0.8zM188.0 276.7h0.8v0.8h-0.8zM179.0 284.6h0.8v0.8h-0.8zM184.5 282.7h0.8v0.8h-0.8zM177.5 271.1h0.8v0.8h-0.8zM183.8 284.6h0.8v0.8h-0.8zM189.7 283.6h0.8v0.8h-0.8zM181.1 271.9h0.8v0.8h-0.8zM180.2 282.3h0.8v0.8h-0.8zM187.3 277.0h0.8v0.8h-0.8zM184.9 274.2h0.8v0.8h-0.8zM200.3 281.7h0.8v0.8h-0.8zM180.4 280.9h0.8v0.8h-0.8zM183.3 276.0h0.8v0.8h-0.8zM177.8 285.1h0.8v0.8h-0.8zM183.6 275.6h0.8v0.8h-0.8zM188.5 270.0h0.8v0.8h-0.8zM177.4 281.8h0.8v0.8h-0.8zM177.3 275.4h0.8v0.8h-0.8zM197.1 273.0h0.8v0.8h-0.8zM186.0 280.3h0.8v0.8h-0.8zM190.0 276.2h0.8v0.8h-0.8zM182.4 284.5h0.8v0.8h-0.8zM177.6 277.2h0.8v0.8h-0.8zM194.3 272.8h0.8v0.8h-0.8zM177.5 281.3h0.8v0.8h-0.8zM187.8 271.1h0.8v0.8h-0.8zM191.3 274.1h0.8v0.8h-0.8zM184.3 275.7h0.8v0.8h-0.8zM185.3 279.0h0.8v0.8h-0.8zM178.9 269.6h0.8v0.8h-0.8zM187.2 282.5h0.8v0.8h-0.8zM177.2 278.5h0.8v0.8h-0.8zM195.5 279.3h0.8v0.8h-0.8zM180.3 282.2h0.8v0.8h-0.8zM180.4 274.3h0.8v0.8h-0.8zM188.1 280.6h0.8v0.8h-0.8zM190.0 282.8h0.8v0.8h-0.8zM190.5 285.0h0.8v0.8h-0.8zM182.5 272.7h0.8v0.8h-0.8zM185.0 277.9h0.8v0.8h-0.8zM182.8 272.0h0.8v0.8h-0.8zM180.3 275.9h0.8v0.8h-0.8zM196.4 272.0h0.8v0.8h-0.8zM182.1 272.7h0.8v0.8h-0.8zM188.7 277.3h0.8v0.8h-0.8zM187.2 277.8h0.8v0.8h-0.8zM179.2 283.2h0.8v0.8h-0.8zM199.6 272.8h0.8v0.8h-0.8zM179.1 270.2h0.8v0.8h-0.8zM178.1 278.3h0.8v0.8h-0.8zM189.6 273.1h0.8v0.8h-0.8zM178.4 281.4h0.8v0.8h-0.8zM185.1 273.3h0.8v0.8h-0.8zM189.7 275.6h0.8v0.8h-0.8zM183.1 277.4h0.8v0.8h-0.8zM189.9 280.8h0.8v0.8h-0.8zM182.4 272.1h0.8v0.8h-0.8zM192.1 271.2h0.8v0.8h-0.8zM181.8 283.2h0.8v0.8h-0.8zM178.9 273.6h0.8v0.8h-0.8zM179.0 271.0h0.8v0.8h-0.8zM176.8 277.5h0.8v0.8h-0.8zM180.9 273.7h0.8v0.8h-0.8zM180.1 275.6h0.8v0.8h-0.8zM187.3 282.4h0.8v0.8h-0.8zM177.5 273.2h0.8v0.8h-0.8zM181.5 269.7h0.8v0.8h-0.8zM179.0 280.9h0.8v0.8h-0.8zM180.9 282.2h0.8v0.8h-0.8zM183.5 270.2h0.8v0.8h-0.8zM176.9 281.9h0.8v0.8h-0.8zM196.4 276.0h0.8v0.8h-0.8zM188.9 274.7h0.8v0.8h-0.8zM198.5 277.9h0.8v0.8h-0.8zM187.4 276.7h0.8v0.8h-0.8zM192.5 283.1h0.8v0.8h-0.8zM183.3 277.3h0.8v0.8h-0.8zM181.2 284.0h0.8v0.8h-0.8zM185.9 276.2h0.8v0.8h-0.8zM183.5 277.1h0.8v0.8h-0.8zM187.6 278.9h0.8v0.8h-0.8zM177.1 283.6h0.8v0.8h-0.8zM189.5 270.9h0.8v0.8h-0.8zM190.7 285.4h0.8v0.8h-0.8zM191.8 269.8h0.8v0.8h-0.8zM186.6 283.3h0.8v0.8h-0.8zM186.8 277.2h0.8v0.8h-0.8zM182.4 281.1h0.8v0.8h-0.8zM182.9 281.4h0.8v0.8h-0.8zM180.7 280.2h0.8v0.8h-0.8zM190.5 280.3h0.8v0.8h-0.8zM187.4 274.9h0.8v0.8h-0.8zM178.2 279.3h0.8v0.8h-0.8zM179.4 280.5h0.8v0.8h-0.8zM181.2 274.2h0.8v0.8h-0.8zM178.9 278.4h0.8v0.8h-0.8zM185.0 282.7h0.8v0.8h-0.8zM188.8 270.7h0.8v0.8h-0.8zM187.5 284.8h0.8v0.8h-0.8zM192.5 275.6h0.8v0.8h-0.8zM179.2 272.5h0.8v0.8h-0.8zM186.0 276.3h0.8v0.8h-0.8zM183.9 271.6h0.8v0.8h-0.8zM185.1 285.3h0.8v0.8h-0.8zM177.9 275.8h0.8v0.8h-0.8zM183.3 285.3h0.8v0.8h-0.8zM179.5 274.8h0.8v0.8h-0.8zM188.2 276.0h0.8v0.8h-0.8zM191.7 281.8h0.8v0.8h-0.8zM177.6 270.3h0.8v0.8h-0.8zM181.4 276.9h0.8v0.8h-0.8zM181.4 276.7h0.8v0.8h-0.8zM181.5 282.0h0.8v0.8h-0.8zM177.6 278.0h0.8v0.8h-0.8zM182.4 276.5h0.8v0.8h-0.8zM196.5 273.5h0.8v0.8h-0.8zM184.7 278.7h0.8v0.8h-0.8zM179.0 276.8h0.8v0.8h-0.8zM178.0 284.4h0.8v0.8h-0.8zM181.0 281.1h0.8v0.8h-0.8zM189.3 270.6h0.8v0.8h-0.8zM181.0 274.5h0.8v0.8h-0.8zM178.9 281.2h0.8v0.8h-0.8zM186.3 271.7h0.8v0.8h-0.8zM177.9 277.3h0.8v0.8h-0.8zM182.4 273.2h0.8v0.8h-0.8zM177.3 270.9h0.8v0.8h-0.8zM182.2 278.0h0.8v0.8h-0.8zM180.2 271.8h0.8v0.8h-0.8zM181.2 273.7h0.8v0.8h-0.8zM186.1 273.5h0.8v0.8h-0.8zM178.4 281.6h0.8v0.8h-0.8zM179.3 271.2h0.8v0.8h-0.8zM186.3 279.3h0.8v0.8h-0.8zM180.2 283.6h0.8v0.8h-0.8zM179.6 280.8h0.8v0.8h-0.8zM178.8 279.1h0.8v0.8h-0.8zM178.2 277.6h0.8v0.8h-0.8zM184.6 272.6h0.8v0.8h-0.8zM184.2 279.1h0.8v0.8h-0.8zM179.8 274.4h0.8v0.8h-0.8zM178.9 271.0h0.8v0.8h-0.8zM190.9 282.6h0.8v0.8h-0.8zM183.9 271.5h0.8v0.8h-0.8zM176.9 277.8h0.8v0.8h-0.8zM192.6 275.7h0.8v0.8h-0.8zM177.1 276.3h0.8v0.8h-0.8zM182.9 285.5h0.8v0.8h-0.8zM181.7 284.1h0.8v0.8h-0.8zM200.6 273.8h0.8v0.8h-0.8zM178.2 282.8h0.8v0.8h-0.8zM181.9 285.8h0.8v0.8h-0.8zM181.1 280.1h0.8v0.8h-0.8zM181.4 270.9h0.8v0.8h-0.8zM188.6 283.6h0.8v0.8h-0.8zM180.2 279.6h0.8v0.8h-0.8zM183.6 272.7h0.8v0.8h-0.8zM192.1 271.2h0.8v0.8h-0.8zM180.4 280.3h0.8v0.8h-0.8zM185.7 280.1h0.8v0.8h-0.8zM183.6 280.7h0.8v0.8h-0.8zM183.0 285.2h0.8v0.8h-0.8zM178.4 275.9h0.8v0.8h-0.8zM185.3 280.9h0.8v0.8h-0.8zM181.1 281.6h0.8v0.8h-0.8zM182.7 278.8h0.8v0.8h-0.8zM184.9 277.9h0.8v0.8h-0.8zM186.0 285.2h0.8v0.8h-0.8zM199.3 282.2h0.8v0.8h-0.8zM187.9 283.2h0.8v0.8h-0.8zM177.2 273.5h0.8v0.8h-0.8zM177.4 284.8h0.8v0.8h-0.8zM192.5 283.1h0.8v0.8h-0.8zM182.4 282.4h0.8v0.8h-0.8zM182.1 277.3h0.8v0.8h-0.8zM180.4 282.5h0.8v0.8h-0.8zM185.6 283.3h0.8v0.8h-0.8zM185.0 272.4h0.8v0.8h-0.8zM189.0 272.1h0.8v0.8h-0.8zM183.0 275.1h0.8v0.8h-0.8zM179.6 271.3h0.8v0.8h-0.8zM185.6 273.2h0.8v0.8h-0.8zM189.8 283.3h0.8v0.8h-0.8zM186.0 274.5h0.8v0.8h-0.8zM193.8 273.9h0.8v0.8h-0.8zM177.9 276.7h0.8v0.8h-0.8zM177.7 275.8h0.8v0.8h-0.8zM196.5 275.7h0.8v0.8h-0.8zM178.3 269.6h0.8v0.8h-0.8zM183.7 273.7h0.8v0.8h-0.8zM178.5 270.0h0.8v0.8h-0.8zM189.5 279.0h0.8v0.8h-0.8zM185.9 277.8h0.8v0.8h-0.8zM176.9 285.3h0.8v0.8h-0.8zM184.9 275.6h0.8v0.8h-0.8zM197.5 271.6h0.8v0.8h-0.8zM178.1 283.3h0.8v0.8h-0.8zM192.3 282.7h0.8v0.8h-0.8zM178.8 280.9h0.8v0.8h-0.8zM194.1 272.1h0.8v0.8h-0.8zM182.3 278.3h0.8v0.8h-0.8zM177.7 272.7h0.8v0.8h-0.8zM186.7 281.1h0.8v0.8h-0.8zM192.3 279.8h0.8v0.8h-0.8zM184.4 279.3h0.8v0.8h-0.8zM192.8 278.8h0.8v0.8h-0.8zM185.3 274.9h0.8v0.8h-0.8zM185.4 271.3h0.8v0.8h-0.8zM180.9 275.0h0.8v0.8h-0.8zM183.0 280.1h0.8v0.8h-0.8zM199.0 280.3h0.8v0.8h-0.8z" fill="#333"/>
<path d="M202.3 276.8h0.8v0.8h-0.8zM187.4 277.1h0.8v0.8h-0.8zM177.5 271.4h0.8v0.8h-0.8zM190.7 279.6h0.8v0.8h-0.8zM181.1 280.7h0.8v0.8h-0.8zM188.0 284.1h0.8v0.8h-0.8zM182.7 277.6h0.8v0.8h-0.8zM182.9 275.0h0.8v0.8h-0.8zM193.6 282.4h0.8v0.8h-0.8zM183.4 285.3h0.8v0.8h-0.8zM184.0 272.4h0.8v0.8h-0.8zM192.3 269.9h0.8v0.8h-0.8zM184.8 277.4h0.8v0.8h-0.8zM210.5 276.3h0.8v0.8h-0.8zM197.6 283.4h0.8v0.8h-0.8zM180.7 273.5h0.8v0.8h-0.8zM197.6 274.5h0.8v0.8h-0.8zM192.7 280.1h0.8v0.8h-0.8zM177.6 277.8h0.8v0.8h-0.8zM186.4 285.7h0.8v0.8h-0.8zM196.3 272.9h0.8v0.8h-0.8zM178.0 271.1h0.8v0.8h-0.8zM178.8 270.5h0.8v0.8h-0.8zM203.6 280.9h0.8v0.8h-0.8zM190.9 285.3h0.8v0.8h-0.8zM187.7 279.0h0.8v0.8h-0.8zM194.9 269.8h0.8v0.8h-0.8zM186.0 279.7h0.8v0.8h-0.8zM185.0 270.7h0.8v0.8h-0.8zM191.7 277.6h0.8v0.8h-0.8zM180.8 276.2h0.8v0.8h-0.8zM197.5 282.6h0.8v0.8h-0.8zM192.2 279.3h0.8v0.8h-0.8zM192.9 283.7h0.8v0.8h-0.8zM191.1 285.6h0.8v0.8h-0.8zM177.0 283.8h0.8v0.8h-0.8zM181.6 280.4h0.8v0.8h-0.8zM182.7 283.0h0.8v0.8h-0.8zM212.2 284.1h0.8v0.8h-0.8zM177.0 275.7h0.8v0.8h-0.8zM197.7 274.4h0.8v0.8h-0.8zM178.3 275.0h0.8v0.8h-0.8zM198.8 278.4h0.8v0.8h-0.8zM195.3 284.4h0.8v0.8h-0.8zM185.7 278.8h0.8v0.8h-0.8zM180.6 277.1h0.8v0.8h-0.8zM176.9 278.5h0.8v0.8h-0.8zM182.8 279.7h0.8v0.8h-0.8zM218.4 277.3h0.8v0.8h-0.8zM189.8 281.0h0.8v0.8h-0.8zM191.5 284.9h0.8v0.8h-0.8zM190.7 283.8h0.8v0.8h-0.8zM177.9 270.6h0.8v0.8h-0.8zM177.7 280.1h0.8v0.8h-0.8zM180.6 282.6h0.8v0.8h-0.8zM177.9 273.3h0.8v0.8h-0.8zM192.3 281.0h0.8v0.8h-0.8zM198.2 274.9h0.8v0.8h-0.8zM180.6 279.1h0.8v0.8h-0.8zM203.4 285.0h0.8v0.8h-0.8zM184.6 273.6h0.8v0.8h-0.8zM192.4 275.2h0.8v0.8h-0.8zM178.3 282.6h0.8v0.8h-0.8zM186.0 282.1h0.8v0.8h-0.8zM194.9 284.8h0.8v0.8h-0.8zM189.3 277.6h0.8v0.8h-0.8zM178.2 284.8h0.8v0.8h-0.8zM192.6 276.0h0.8v0.8h-0.8zM202.9 278.5h0.8v0.8h-0.8zM181.9 274.9h0.8v0.8h-0.8z" fill="#888"/>
<path d="M189.4 256.4h0.8v0.8h-0.8zM194.3 251.5h0.8v0.8h-0.8zM202.4 251.9h0.8v0.8h-0.8zM188.7 256.9h0.8v0.8h-0.8zM181.7 261.5h0.8v0.8h-0.8zM202.3 256.4h0.8v0.8h-0.8zM185.7 264.8h0.8v0.8h-0.8zM185.3 254.6h0.8v0.8h-0.8zM191.1 262.1h0.8v0.8h-0.8zM179.6 263.0h0.8v0.8h-0.8zM198.6 255.8h0.8v0.8h-0.8zM179.5 263.2h0.8v0.8h-0.8zM204.1 259.2h0.8v0.8h-0.8zM187.4 250.9h0.8v0.8h-0.8zM179.6 259.1h0.8v0.8h-0.8zM182.3 253.9h0.8v0.8h-0.8zM196.7 251.5h0.8v0.8h-0.8zM189.6 262.6h0.8v0.8h-0.8zM177.7 255.0h0.8v0.8h-0.8zM203.1 253.2h0.8v0.8h-0.8zM187.1 256.4h0.8v0.8h-0.8zM177.3 253.7h0.8v0.8h-0.8zM194.1 252.6h0.8v0.8h-0.8zM204.2 243.8h0.8v0.8h-0.8zM193.8 256.1h0.8v0.8h-0.8zM193.9 247.4h0.8v0.8h-0.8zM204.1 255.8h0.8v0.8h-0.8zM193.4 254.6h0.8v0.8h-0.8zM187.2 253.4h0.8v0.8h-0.8zM187.8 254.8h0.8v0.8h-0.8zM202.5 258.9h0.8v0.8h-0.8zM184.8 253.2h0.8v0.8h-0.8zM191.3 252.2h0.8v0.8h-0.8zM195.7 256.9h0.8v0.8h-0.8zM178.4 256.2h0.8v0.8h-0.8zM181.1 253.6h0.8v0.8h-0.8zM186.7 250.9h0.8v0.8h-0.8zM195.1 252.6h0.8v0.8h-0.8zM203.5 255.8h0.8v0.8h-0.8zM197.6 252.2h0.8v0.8h-0.8z" fill="#aaa"/>
<rect x="155.00" y="270.80" width="21.20" height="15.80" fill="#575757" stroke="none" stroke-width="1"/>
<path d="M168.5 278.0h0.9v0.9h-0.9zM163.1 284.6h0.9v0.9h-0.9zM174.9 277.5h0.9v0.9h-0.9zM167.0 283.7h0.9v0.9h-0.9zM160.4 274.7h0.9v0.9h-0.9zM157.2 278.3h0.9v0.9h-0.9zM171.3 273.1h0.9v0.9h-0.9zM164.2 285.7h0.9v0.9h-0.9zM165.2 276.5h0.9v0.9h-0.9zM172.8 284.2h0.9v0.9h-0.9zM163.0 272.7h0.9v0.9h-0.9zM168.5 281.9h0.9v0.9h-0.9zM174.6 280.7h0.9v0.9h-0.9zM161.5 278.5h0.9v0.9h-0.9zM161.1 277.5h0.9v0.9h-0.9zM164.9 284.5h0.9v0.9h-0.9zM174.2 284.7h0.9v0.9h-0.9zM165.1 285.3h0.9v0.9h-0.9zM157.9 284.6h0.9v0.9h-0.9zM168.6 283.9h0.9v0.9h-0.9zM163.8 285.7h0.9v0.9h-0.9zM155.5 283.5h0.9v0.9h-0.9zM172.4 276.4h0.9v0.9h-0.9zM172.6 274.0h0.9v0.9h-0.9zM171.0 277.8h0.9v0.9h-0.9zM163.7 273.7h0.9v0.9h-0.9zM172.0 281.8h0.9v0.9h-0.9zM156.9 285.5h0.9v0.9h-0.9zM159.7 276.4h0.9v0.9h-0.9zM163.8 279.4h0.9v0.9h-0.9zM173.9 285.0h0.9v0.9h-0.9zM168.4 276.3h0.9v0.9h-0.9zM157.3 271.8h0.9v0.9h-0.9zM166.0 279.5h0.9v0.9h-0.9zM164.5 285.5h0.9v0.9h-0.9zM163.8 276.1h0.9v0.9h-0.9zM163.9 273.4h0.9v0.9h-0.9zM174.9 279.7h0.9v0.9h-0.9zM166.5 277.2h0.9v0.9h-0.9zM160.3 275.5h0.9v0.9h-0.9zM165.5 277.5h0.9v0.9h-0.9zM175.8 279.2h0.9v0.9h-0.9zM159.4 271.6h0.9v0.9h-0.9zM158.4 276.0h0.9v0.9h-0.9zM171.6 284.1h0.9v0.9h-0.9zM160.0 282.5h0.9v0.9h-0.9zM164.4 278.9h0.9v0.9h-0.9zM166.3 271.4h0.9v0.9h-0.9zM156.4 280.8h0.9v0.9h-0.9zM169.6 276.5h0.9v0.9h-0.9zM174.5 283.1h0.9v0.9h-0.9zM161.4 271.8h0.9v0.9h-0.9zM166.7 280.6h0.9v0.9h-0.9zM159.8 271.5h0.9v0.9h-0.9zM165.3 271.3h0.9v0.9h-0.9zM170.6 280.2h0.9v0.9h-0.9zM160.9 277.5h0.9v0.9h-0.9zM159.9 273.6h0.9v0.9h-0.9zM158.8 283.0h0.9v0.9h-0.9zM164.6 281.5h0.9v0.9h-0.9zM162.4 282.9h0.9v0.9h-0.9zM167.6 280.6h0.9v0.9h-0.9zM163.3 279.2h0.9v0.9h-0.9zM159.0 285.4h0.9v0.9h-0.9zM169.3 278.8h0.9v0.9h-0.9zM168.5 272.3h0.9v0.9h-0.9zM162.1 274.3h0.9v0.9h-0.9zM172.9 271.0h0.9v0.9h-0.9zM164.4 283.8h0.9v0.9h-0.9zM171.6 281.6h0.9v0.9h-0.9zM161.4 274.3h0.9v0.9h-0.9zM169.9 275.3h0.9v0.9h-0.9zM170.3 276.0h0.9v0.9h-0.9zM171.1 279.4h0.9v0.9h-0.9zM172.3 285.6h0.9v0.9h-0.9zM163.0 285.6h0.9v0.9h-0.9zM155.2 284.0h0.9v0.9h-0.9zM155.6 279.0h0.9v0.9h-0.9zM163.2 282.3h0.9v0.9h-0.9zM161.7 273.9h0.9v0.9h-0.9zM171.6 279.1h0.9v0.9h-0.9zM171.0 278.1h0.9v0.9h-0.9zM155.8 282.4h0.9v0.9h-0.9zM159.6 277.9h0.9v0.9h-0.9zM155.0 274.7h0.9v0.9h-0.9zM169.1 282.3h0.9v0.9h-0.9zM168.5 277.4h0.9v0.9h-0.9zM170.5 280.8h0.9v0.9h-0.9zM159.4 278.8h0.9v0.9h-0.9zM167.7 281.7h0.9v0.9h-0.9zM159.2 275.5h0.9v0.9h-0.9zM162.3 272.2h0.9v0.9h-0.9zM162.4 281.7h0.9v0.9h-0.9zM167.2 273.4h0.9v0.9h-0.9zM170.5 272.6h0.9v0.9h-0.9zM170.9 273.0h0.9v0.9h-0.9zM157.0 274.6h0.9v0.9h-0.9zM165.9 274.9h0.9v0.9h-0.9zM173.7 284.9h0.9v0.9h-0.9zM161.0 282.0h0.9v0.9h-0.9zM169.7 279.2h0.9v0.9h-0.9zM160.4 285.0h0.9v0.9h-0.9zM175.3 271.0h0.9v0.9h-0.9zM162.0 275.6h0.9v0.9h-0.9zM159.2 277.3h0.9v0.9h-0.9zM174.0 271.2h0.9v0.9h-0.9zM172.7 275.4h0.9v0.9h-0.9zM155.3 284.3h0.9v0.9h-0.9zM160.8 274.0h0.9v0.9h-0.9zM157.5 276.3h0.9v0.9h-0.9zM157.5 273.5h0.9v0.9h-0.9zM160.3 279.5h0.9v0.9h-0.9zM164.5 275.4h0.9v0.9h-0.9zM166.1 282.4h0.9v0.9h-0.9zM170.3 276.0h0.9v0.9h-0.9zM174.5 282.7h0.9v0.9h-0.9zM166.9 277.9h0.9v0.9h-0.9zM162.0 272.8h0.9v0.9h-0.9zM173.8 279.9h0.9v0.9h-0.9zM157.1 284.7h0.9v0.9h-0.9zM173.8 271.3h0.9v0.9h-0.9zM169.9 274.4h0.9v0.9h-0.9zM166.4 283.3h0.9v0.9h-0.9zM162.4 278.3h0.9v0.9h-0.9zM169.1 273.7h0.9v0.9h-0.9zM168.3 277.2h0.9v0.9h-0.9zM175.8 273.6h0.9v0.9h-0.9zM170.1 271.4h0.9v0.9h-0.9zM160.8 272.6h0.9v0.9h-0.9zM158.2 278.7h0.9v0.9h-0.9zM158.7 282.7h0.9v0.9h-0.9zM157.0 280.1h0.9v0.9h-0.9zM173.3 272.7h0.9v0.9h-0.9zM159.6 282.3h0.9v0.9h-0.9zM165.0 284.8h0.9v0.9h-0.9zM162.2 276.8h0.9v0.9h-0.9zM175.3 276.0h0.9v0.9h-0.9zM175.5 284.2h0.9v0.9h-0.9zM159.2 279.0h0.9v0.9h-0.9zM175.0 272.6h0.9v0.9h-0.9zM173.0 282.4h0.9v0.9h-0.9zM170.9 279.8h0.9v0.9h-0.9zM157.1 285.2h0.9v0.9h-0.9zM157.2 282.6h0.9v0.9h-0.9zM170.3 275.6h0.9v0.9h-0.9zM169.5 277.0h0.9v0.9h-0.9zM170.9 271.5h0.9v0.9h-0.9zM174.8 276.6h0.9v0.9h-0.9zM172.0 277.9h0.9v0.9h-0.9zM172.2 275.3h0.9v0.9h-0.9zM166.6 271.2h0.9v0.9h-0.9zM165.4 272.0h0.9v0.9h-0.9zM173.2 281.0h0.9v0.9h-0.9zM164.0 285.4h0.9v0.9h-0.9zM175.1 285.2h0.9v0.9h-0.9zM156.7 281.4h0.9v0.9h-0.9zM170.4 279.9h0.9v0.9h-0.9zM155.3 284.7h0.9v0.9h-0.9zM164.3 279.7h0.9v0.9h-0.9zM172.3 274.9h0.9v0.9h-0.9zM155.6 284.7h0.9v0.9h-0.9zM160.7 271.4h0.9v0.9h-0.9zM157.9 285.7h0.9v0.9h-0.9zM170.7 273.9h0.9v0.9h-0.9zM158.1 284.3h0.9v0.9h-0.9zM169.1 279.5h0.9v0.9h-0.9zM157.8 277.0h0.9v0.9h-0.9zM175.1 270.8h0.9v0.9h-0.9zM163.9 271.7h0.9v0.9h-0.9zM176.2 272.4h0.9v0.9h-0.9zM175.2 283.4h0.9v0.9h-0.9zM170.5 271.4h0.9v0.9h-0.9zM169.7 278.2h0.9v0.9h-0.9zM165.4 273.0h0.9v0.9h-0.9zM165.9 282.8h0.9v0.9h-0.9zM157.8 283.9h0.9v0.9h-0.9zM163.9 274.8h0.9v0.9h-0.9zM160.1 277.7h0.9v0.9h-0.9zM168.7 279.3h0.9v0.9h-0.9zM173.9 278.5h0.9v0.9h-0.9zM165.9 285.6h0.9v0.9h-0.9zM159.6 271.0h0.9v0.9h-0.9zM162.0 275.5h0.9v0.9h-0.9zM157.6 277.1h0.9v0.9h-0.9zM155.7 284.6h0.9v0.9h-0.9zM165.3 284.0h0.9v0.9h-0.9zM169.8 281.7h0.9v0.9h-0.9zM171.1 275.3h0.9v0.9h-0.9zM170.5 273.9h0.9v0.9h-0.9zM166.8 279.7h0.9v0.9h-0.9zM171.4 273.3h0.9v0.9h-0.9zM162.3 283.2h0.9v0.9h-0.9zM172.1 285.5h0.9v0.9h-0.9zM157.5 274.0h0.9v0.9h-0.9zM157.3 281.7h0.9v0.9h-0.9zM170.8 280.5h0.9v0.9h-0.9zM171.5 278.5h0.9v0.9h-0.9zM166.9 284.6h0.9v0.9h-0.9zM168.7 280.6h0.9v0.9h-0.9zM167.5 278.2h0.9v0.9h-0.9zM171.0 279.4h0.9v0.9h-0.9zM157.7 277.2h0.9v0.9h-0.9zM163.9 277.3h0.9v0.9h-0.9zM166.9 276.2h0.9v0.9h-0.9zM163.3 277.2h0.9v0.9h-0.9zM162.9 285.4h0.9v0.9h-0.9zM156.9 271.1h0.9v0.9h-0.9zM170.3 276.7h0.9v0.9h-0.9zM164.5 279.7h0.9v0.9h-0.9zM162.8 274.4h0.9v0.9h-0.9zM155.3 283.9h0.9v0.9h-0.9zM174.9 275.1h0.9v0.9h-0.9zM164.9 275.7h0.9v0.9h-0.9zM156.2 284.2h0.9v0.9h-0.9zM172.7 274.4h0.9v0.9h-0.9zM160.4 281.3h0.9v0.9h-0.9zM171.9 277.8h0.9v0.9h-0.9zM163.2 274.3h0.9v0.9h-0.9zM171.9 283.8h0.9v0.9h-0.9zM173.2 272.5h0.9v0.9h-0.9zM167.6 285.6h0.9v0.9h-0.9zM170.2 277.7h0.9v0.9h-0.9zM158.1 271.7h0.9v0.9h-0.9zM170.5 271.8h0.9v0.9h-0.9zM172.1 280.8h0.9v0.9h-0.9zM165.0 284.2h0.9v0.9h-0.9zM174.8 280.0h0.9v0.9h-0.9zM157.1 279.6h0.9v0.9h-0.9zM163.9 274.5h0.9v0.9h-0.9zM174.7 281.8h0.9v0.9h-0.9zM157.6 274.2h0.9v0.9h-0.9zM162.3 279.4h0.9v0.9h-0.9zM161.9 277.4h0.9v0.9h-0.9zM172.2 273.5h0.9v0.9h-0.9zM170.3 275.8h0.9v0.9h-0.9zM175.0 285.1h0.9v0.9h-0.9zM161.9 279.9h0.9v0.9h-0.9zM157.3 277.0h0.9v0.9h-0.9zM168.2 280.4h0.9v0.9h-0.9zM162.3 271.3h0.9v0.9h-0.9zM157.6 279.2h0.9v0.9h-0.9zM158.6 275.4h0.9v0.9h-0.9zM168.1 284.3h0.9v0.9h-0.9zM165.9 274.6h0.9v0.9h-0.9zM167.4 274.9h0.9v0.9h-0.9zM171.6 273.1h0.9v0.9h-0.9zM160.6 277.4h0.9v0.9h-0.9zM174.3 273.3h0.9v0.9h-0.9zM159.1 272.8h0.9v0.9h-0.9zM159.5 275.8h0.9v0.9h-0.9zM163.4 282.2h0.9v0.9h-0.9zM163.6 277.9h0.9v0.9h-0.9zM163.4 282.4h0.9v0.9h-0.9zM174.1 277.2h0.9v0.9h-0.9zM174.5 274.6h0.9v0.9h-0.9zM175.7 278.7h0.9v0.9h-0.9zM169.5 276.5h0.9v0.9h-0.9zM160.8 272.8h0.9v0.9h-0.9zM173.8 276.2h0.9v0.9h-0.9zM169.8 277.7h0.9v0.9h-0.9z" fill="#2a2a2a"/>
<path d="M166.2 273.9h0.9v0.9h-0.9zM158.8 275.8h0.9v0.9h-0.9zM169.4 279.0h0.9v0.9h-0.9zM155.1 281.5h0.9v0.9h-0.9zM164.2 271.8h0.9v0.9h-0.9zM160.5 274.0h0.9v0.9h-0.9zM172.4 279.1h0.9v0.9h-0.9zM161.9 274.5h0.9v0.9h-0.9zM161.2 275.0h0.9v0.9h-0.9zM162.3 282.7h0.9v0.9h-0.9zM171.7 281.3h0.9v0.9h-0.9zM173.8 280.6h0.9v0.9h-0.9zM157.4 271.5h0.9v0.9h-0.9zM158.5 274.7h0.9v0.9h-0.9zM166.2 283.1h0.9v0.9h-0.9zM167.4 277.2h0.9v0.9h-0.9zM160.1 285.5h0.9v0.9h-0.9zM171.0 275.9h0.9v0.9h-0.9zM156.0 285.5h0.9v0.9h-0.9zM160.4 283.5h0.9v0.9h-0.9zM157.5 280.6h0.9v0.9h-0.9zM162.6 284.1h0.9v0.9h-0.9zM161.3 272.3h0.9v0.9h-0.9zM159.2 282.9h0.9v0.9h-0.9zM175.7 280.4h0.9v0.9h-0.9zM169.5 275.0h0.9v0.9h-0.9zM160.8 272.1h0.9v0.9h-0.9zM175.9 271.5h0.9v0.9h-0.9zM168.0 276.0h0.9v0.9h-0.9zM159.0 277.3h0.9v0.9h-0.9zM174.7 274.5h0.9v0.9h-0.9zM158.5 280.2h0.9v0.9h-0.9zM168.9 278.5h0.9v0.9h-0.9zM158.8 283.9h0.9v0.9h-0.9zM157.3 273.4h0.9v0.9h-0.9zM160.1 278.5h0.9v0.9h-0.9zM165.1 279.1h0.9v0.9h-0.9zM170.4 284.2h0.9v0.9h-0.9zM164.9 271.4h0.9v0.9h-0.9zM172.6 271.1h0.9v0.9h-0.9zM161.7 272.9h0.9v0.9h-0.9zM167.8 282.5h0.9v0.9h-0.9zM157.7 275.2h0.9v0.9h-0.9zM173.0 281.1h0.9v0.9h-0.9zM157.3 281.1h0.9v0.9h-0.9zM171.8 276.9h0.9v0.9h-0.9zM158.3 280.7h0.9v0.9h-0.9zM161.8 272.8h0.9v0.9h-0.9zM158.5 276.8h0.9v0.9h-0.9zM157.7 276.6h0.9v0.9h-0.9zM166.7 279.1h0.9v0.9h-0.9zM163.6 282.8h0.9v0.9h-0.9zM156.9 275.7h0.9v0.9h-0.9zM174.8 283.8h0.9v0.9h-0.9zM174.5 282.3h0.9v0.9h-0.9zM166.4 282.6h0.9v0.9h-0.9zM167.1 272.6h0.9v0.9h-0.9zM160.4 272.3h0.9v0.9h-0.9zM173.6 275.6h0.9v0.9h-0.9zM163.6 278.9h0.9v0.9h-0.9zM157.1 281.4h0.9v0.9h-0.9zM171.9 282.7h0.9v0.9h-0.9zM173.7 275.6h0.9v0.9h-0.9zM158.1 282.2h0.9v0.9h-0.9zM169.7 276.4h0.9v0.9h-0.9zM162.3 273.1h0.9v0.9h-0.9zM172.6 277.7h0.9v0.9h-0.9zM172.2 275.9h0.9v0.9h-0.9zM161.8 278.5h0.9v0.9h-0.9zM170.8 284.0h0.9v0.9h-0.9zM162.5 281.2h0.9v0.9h-0.9zM163.6 283.7h0.9v0.9h-0.9zM171.1 279.1h0.9v0.9h-0.9zM162.7 274.9h0.9v0.9h-0.9zM173.8 282.8h0.9v0.9h-0.9zM161.5 272.1h0.9v0.9h-0.9zM159.1 285.3h0.9v0.9h-0.9zM155.8 282.9h0.9v0.9h-0.9zM166.2 279.1h0.9v0.9h-0.9zM166.4 277.0h0.9v0.9h-0.9z" fill="#888"/>
<path d="M163.9 271.4h0.9v0.9h-0.9zM163.4 272.1h0.9v0.9h-0.9zM173.0 269.2h0.9v0.9h-0.9zM155.2 269.7h0.9v0.9h-0.9zM165.3 271.0h0.9v0.9h-0.9zM172.1 270.9h0.9v0.9h-0.9zM161.0 267.8h0.9v0.9h-0.9zM162.4 270.8h0.9v0.9h-0.9zM157.9 269.7h0.9v0.9h-0.9zM165.7 273.2h0.9v0.9h-0.9zM162.0 270.3h0.9v0.9h-0.9zM159.6 270.6h0.9v0.9h-0.9zM157.0 271.2h0.9v0.9h-0.9zM158.6 272.4h0.9v0.9h-0.9zM157.8 269.1h0.9v0.9h-0.9zM167.7 271.4h0.9v0.9h-0.9zM156.9 271.0h0.9v0.9h-0.9zM164.8 272.6h0.9v0.9h-0.9zM158.3 268.1h0.9v0.9h-0.9zM165.9 271.6h0.9v0.9h-0.9zM170.1 270.2h0.9v0.9h-0.9zM163.3 271.2h0.9v0.9h-0.9zM166.9 269.7h0.9v0.9h-0.9zM162.4 270.7h0.9v0.9h-0.9zM172.6 273.5h0.9v0.9h-0.9zM172.2 271.7h0.9v0.9h-0.9zM157.4 269.7h0.9v0.9h-0.9zM167.1 269.8h0.9v0.9h-0.9zM161.1 274.3h0.9v0.9h-0.9zM162.3 270.4h0.9v0.9h-0.9zM166.6 270.4h0.9v0.9h-0.9zM174.6 272.6h0.9v0.9h-0.9zM169.9 271.9h0.9v0.9h-0.9zM165.8 272.4h0.9v0.9h-0.9zM168.0 270.1h0.9v0.9h-0.9zM175.0 269.0h0.9v0.9h-0.9zM161.5 270.1h0.9v0.9h-0.9zM175.9 270.0h0.9v0.9h-0.9zM166.4 270.7h0.9v0.9h-0.9zM167.0 268.9h0.9v0.9h-0.9zM167.1 271.9h0.9v0.9h-0.9zM155.5 271.5h0.9v0.9h-0.9zM157.6 271.3h0.9v0.9h-0.9zM170.0 270.5h0.9v0.9h-0.9zM165.5 270.0h0.9v0.9h-0.9zM170.2 270.2h0.9v0.9h-0.9zM163.0 271.5h0.9v0.9h-0.9zM159.7 271.9h0.9v0.9h-0.9zM161.6 270.5h0.9v0.9h-0.9zM169.1 272.6h0.9v0.9h-0.9zM163.0 271.0h0.9v0.9h-0.9zM162.8 268.6h0.9v0.9h-0.9zM162.0 274.1h0.9v0.9h-0.9zM163.3 271.9h0.9v0.9h-0.9zM169.1 272.5h0.9v0.9h-0.9zM164.9 271.8h0.9v0.9h-0.9zM163.6 274.1h0.9v0.9h-0.9zM167.7 270.6h0.9v0.9h-0.9zM173.9 269.6h0.9v0.9h-0.9zM172.1 273.9h0.9v0.9h-0.9zM158.1 271.6h0.9v0.9h-0.9zM161.2 270.9h0.9v0.9h-0.9zM163.8 267.9h0.9v0.9h-0.9zM173.4 270.8h0.9v0.9h-0.9zM171.7 269.9h0.9v0.9h-0.9zM162.5 270.3h0.9v0.9h-0.9zM155.2 273.4h0.9v0.9h-0.9zM173.9 272.7h0.9v0.9h-0.9zM169.7 270.3h0.9v0.9h-0.9zM168.2 275.1h0.9v0.9h-0.9zM176.5 271.3h0.9v0.9h-0.9zM157.6 271.8h0.9v0.9h-0.9zM161.1 270.5h0.9v0.9h-0.9zM173.4 273.1h0.9v0.9h-0.9zM163.7 269.5h0.9v0.9h-0.9zM169.9 271.3h0.9v0.9h-0.9zM161.2 271.0h0.9v0.9h-0.9zM163.8 269.0h0.9v0.9h-0.9zM162.9 272.7h0.9v0.9h-0.9zM166.7 269.2h0.9v0.9h-0.9zM169.9 270.7h0.9v0.9h-0.9zM165.2 272.7h0.9v0.9h-0.9zM171.1 271.5h0.9v0.9h-0.9zM169.0 271.8h0.9v0.9h-0.9zM162.1 273.1h0.9v0.9h-0.9zM165.4 269.7h0.9v0.9h-0.9zM161.1 272.3h0.9v0.9h-0.9zM165.9 271.0h0.9v0.9h-0.9zM174.3 271.8h0.9v0.9h-0.9zM164.4 272.7h0.9v0.9h-0.9zM169.9 271.6h0.9v0.9h-0.9zM172.6 270.3h0.9v0.9h-0.9zM170.4 270.0h0.9v0.9h-0.9zM165.6 269.0h0.9v0.9h-0.9zM171.3 269.7h0.9v0.9h-0.9zM176.2 271.1h0.9v0.9h-0.9zM168.0 269.7h0.9v0.9h-0.9zM159.5 271.4h0.9v0.9h-0.9zM163.4 270.8h0.9v0.9h-0.9zM167.7 269.0h0.9v0.9h-0.9zM157.4 269.2h0.9v0.9h-0.9zM166.4 270.0h0.9v0.9h-0.9zM156.2 270.0h0.9v0.9h-0.9zM167.1 269.1h0.9v0.9h-0.9zM167.0 274.4h0.9v0.9h-0.9zM162.8 271.1h0.9v0.9h-0.9zM174.7 270.7h0.9v0.9h-0.9zM159.7 268.9h0.9v0.9h-0.9zM175.4 268.9h0.9v0.9h-0.9zM168.9 271.4h0.9v0.9h-0.9zM161.5 268.5h0.9v0.9h-0.9zM167.4 268.5h0.9v0.9h-0.9zM166.7 268.6h0.9v0.9h-0.9zM164.7 271.1h0.9v0.9h-0.9zM165.8 270.5h0.9v0.9h-0.9zM165.7 268.8h0.9v0.9h-0.9zM163.4 271.6h0.9v0.9h-0.9zM174.2 269.6h0.9v0.9h-0.9zM172.6 269.7h0.9v0.9h-0.9zM163.6 270.8h0.9v0.9h-0.9zM164.4 270.8h0.9v0.9h-0.9zM171.2 272.0h0.9v0.9h-0.9zM159.4 271.9h0.9v0.9h-0.9zM166.3 268.8h0.9v0.9h-0.9zM156.9 272.7h0.9v0.9h-0.9zM172.7 269.5h0.9v0.9h-0.9zM170.4 269.5h0.9v0.9h-0.9zM168.6 273.9h0.9v0.9h-0.9zM164.1 272.8h0.9v0.9h-0.9zM159.4 270.6h0.9v0.9h-0.9zM161.3 273.4h0.9v0.9h-0.9zM167.9 269.9h0.9v0.9h-0.9zM156.3 270.4h0.9v0.9h-0.9zM170.1 272.3h0.9v0.9h-0.9zM160.9 272.1h0.9v0.9h-0.9zM165.8 270.5h0.9v0.9h-0.9zM167.1 273.8h0.9v0.9h-0.9zM162.9 270.9h0.9v0.9h-0.9zM164.4 270.2h0.9v0.9h-0.9zM166.7 270.4h0.9v0.9h-0.9zM165.8 273.0h0.9v0.9h-0.9zM172.4 271.6h0.9v0.9h-0.9zM157.6 271.1h0.9v0.9h-0.9zM169.3 274.8h0.9v0.9h-0.9zM165.2 268.7h0.9v0.9h-0.9zM171.1 271.4h0.9v0.9h-0.9zM156.2 273.2h0.9v0.9h-0.9zM164.0 274.0h0.9v0.9h-0.9zM157.0 272.8h0.9v0.9h-0.9zM170.8 271.0h0.9v0.9h-0.9zM171.1 268.5h0.9v0.9h-0.9zM167.8 274.2h0.9v0.9h-0.9zM165.3 268.4h0.9v0.9h-0.9zM163.5 270.1h0.9v0.9h-0.9zM171.2 270.7h0.9v0.9h-0.9zM161.1 272.1h0.9v0.9h-0.9zM155.7 269.5h0.9v0.9h-0.9zM161.8 270.3h0.9v0.9h-0.9zM163.9 271.8h0.9v0.9h-0.9zM168.5 271.1h0.9v0.9h-0.9z" fill="#333"/>
<path d="M156.2 257.2h0.9v0.9h-0.9zM155.6 257.3h0.9v0.9h-0.9zM155.6 246.6h0.9v0.9h-0.9zM155.7 262.0h0.9v0.9h-0.9zM156.5 280.0h0.9v0.9h-0.9zM155.2 273.3h0.9v0.9h-0.9zM155.8 261.3h0.9v0.9h-0.9zM157.0 277.4h0.9v0.9h-0.9zM156.2 243.2h0.9v0.9h-0.9zM155.8 283.1h0.9v0.9h-0.9zM155.4 247.7h0.9v0.9h-0.9zM155.2 267.0h0.9v0.9h-0.9zM156.0 265.7h0.9v0.9h-0.9zM155.6 272.9h0.9v0.9h-0.9zM156.4 258.0h0.9v0.9h-0.9zM155.6 284.0h0.9v0.9h-0.9zM156.1 277.1h0.9v0.9h-0.9zM156.0 254.2h0.9v0.9h-0.9zM156.4 277.2h0.9v0.9h-0.9zM156.0 263.8h0.9v0.9h-0.9zM156.7 248.6h0.9v0.9h-0.9zM156.4 261.6h0.9v0.9h-0.9zM156.1 278.6h0.9v0.9h-0.9zM156.0 267.3h0.9v0.9h-0.9zM157.7 251.4h0.9v0.9h-0.9zM156.1 279.3h0.9v0.9h-0.9zM156.7 254.9h0.9v0.9h-0.9zM155.8 252.7h0.9v0.9h-0.9zM157.0 251.5h0.9v0.9h-0.9zM155.0 250.4h0.9v0.9h-0.9zM155.5 266.1h0.9v0.9h-0.9zM156.1 282.0h0.9v0.9h-0.9zM155.8 264.5h0.9v0.9h-0.9zM155.5 256.4h0.9v0.9h-0.9zM156.4 284.4h0.9v0.9h-0.9zM155.3 276.1h0.9v0.9h-0.9zM155.8 239.1h0.9v0.9h-0.9zM155.5 265.0h0.9v0.9h-0.9zM156.8 267.1h0.9v0.9h-0.9zM156.4 258.7h0.9v0.9h-0.9zM157.1 248.9h0.9v0.9h-0.9zM155.3 281.4h0.9v0.9h-0.9zM157.0 269.7h0.9v0.9h-0.9zM156.5 267.5h0.9v0.9h-0.9zM156.3 241.1h0.9v0.9h-0.9zM157.3 258.9h0.9v0.9h-0.9zM155.7 267.9h0.9v0.9h-0.9zM157.1 259.1h0.9v0.9h-0.9zM156.0 282.5h0.9v0.9h-0.9zM156.6 257.3h0.9v0.9h-0.9zM155.8 265.1h0.9v0.9h-0.9zM155.4 244.5h0.9v0.9h-0.9zM155.5 239.9h0.9v0.9h-0.9zM157.6 248.2h0.9v0.9h-0.9zM155.9 235.4h0.9v0.9h-0.9zM155.7 233.8h0.9v0.9h-0.9zM155.8 268.1h0.9v0.9h-0.9zM157.0 251.1h0.9v0.9h-0.9zM156.2 265.7h0.9v0.9h-0.9zM155.4 258.0h0.9v0.9h-0.9zM155.1 237.9h0.9v0.9h-0.9zM156.6 254.6h0.9v0.9h-0.9zM156.0 260.9h0.9v0.9h-0.9zM156.1 247.2h0.9v0.9h-0.9zM156.2 283.2h0.9v0.9h-0.9zM156.1 248.1h0.9v0.9h-0.9zM155.9 279.5h0.9v0.9h-0.9zM156.6 273.2h0.9v0.9h-0.9zM156.2 247.6h0.9v0.9h-0.9zM156.3 241.1h0.9v0.9h-0.9zM156.0 255.8h0.9v0.9h-0.9zM156.3 286.1h0.9v0.9h-0.9zM156.1 277.6h0.9v0.9h-0.9zM155.9 253.8h0.9v0.9h-0.9zM156.6 262.2h0.9v0.9h-0.9zM155.1 263.7h0.9v0.9h-0.9zM155.9 271.4h0.9v0.9h-0.9zM156.4 250.8h0.9v0.9h-0.9zM157.4 241.3h0.9v0.9h-0.9zM155.7 235.2h0.9v0.9h-0.9zM155.2 260.7h0.9v0.9h-0.9zM156.2 284.7h0.9v0.9h-0.9zM155.7 257.4h0.9v0.9h-0.9zM155.9 262.7h0.9v0.9h-0.9zM155.2 254.0h0.9v0.9h-0.9zM155.5 278.2h0.9v0.9h-0.9zM155.6 257.1h0.9v0.9h-0.9zM157.7 265.6h0.9v0.9h-0.9zM156.2 272.5h0.9v0.9h-0.9zM156.4 265.2h0.9v0.9h-0.9z" fill="#222"/>
<rect x="155.00" y="227.80" width="66.20" height="58.80" fill="none" stroke="#333" stroke-width="0.9"/>
<line x1="176.70" y1="227.80" x2="176.70" y2="286.60" stroke="#333" stroke-width="0.9"/>
<line x1="155.00" y1="268.60" x2="221.20" y2="268.60" stroke="#333" stroke-width="0.9"/>
<line x1="153.50" y1="286.60" x2="155.00" y2="286.60" stroke="#333" stroke-width="0.7"/>
<line x1="155.00" y1="286.60" x2="155.00" y2="288.10" stroke="#333" stroke-width="0.7"/>
<line x1="153.50" y1="271.90" x2="155.00" y2="271.90" stroke="#333" stroke-width="0.7"/>
<line x1="171.55" y1="286.60" x2="171.55" y2="288.10" stroke="#333" stroke-width="0.7"/>
<line x1="153.50" y1="257.20" x2="155.00" y2="257.20" stroke="#333" stroke-width="0.7"/>
<line x1="188.10" y1="286.60" x2="188.10" y2="288.10" stroke="#333" stroke-width="0.7"/>
<line x1="153.50" y1="242.50" x2="155.00" y2="242.50" stroke="#333" stroke-width="0.7"/>
<line x1="204.65" y1="286.60" x2="204.65" y2="288.10" stroke="#333" stroke-width="0.7"/>
<line x1="153.50" y1="227.80" x2="155.00" y2="227.80" stroke="#333" stroke-width="0.7"/>
<line x1="221.20" y1="286.60" x2="221.20" y2="288.10" stroke="#333" stroke-width="0.7"/>
<line x1="154.20" y1="282.17" x2="155.00" y2="282.17" stroke="#777" stroke-width="0.4"/>
<line x1="159.98" y1="286.60" x2="159.98" y2="287.40" stroke="#777" stroke-width="0.4"/>
<line x1="154.20" y1="279.59" x2="155.00" y2="279.59" stroke="#777" stroke-width="0.4"/>
<line x1="162.90" y1="286.60" x2="162.90" y2="287.40" stroke="#777" stroke-width="0.4"/>
<line x1="154.20" y1="277.75" x2="155.00" y2="277.75" stroke="#777" stroke-width="0.4"/>
<line x1="164.96" y1="286.60" x2="164.96" y2="287.40" stroke="#777" stroke-width="0.4"/>
<line x1="154.20" y1="276.33" x2="155.00" y2="276.33" stroke="#777" stroke-width="0.4"/>
<line x1="166.57" y1="286.60" x2="166.57" y2="287.40" stroke="#777" stroke-width="0.4"/>
<line x1="154.20" y1="275.16" x2="155.00" y2="275.16" stroke="#777" stroke-width="0.4"/>
<line x1="167.88" y1="286.60" x2="167.88" y2="287.40" stroke="#777" stroke-width="0.4"/>
<line x1="154.20" y1="274.18" x2="155.00" y2="274.18" stroke="#777" stroke-width="0.4"/>
<line x1="168.99" y1="286.60" x2="168.99" y2="287.40" stroke="#777" stroke-width="0.4"/>
<line x1="154.20" y1="273.32" x2="155.00" y2="273.32" stroke="#777" stroke-width="0.4"/>
<line x1="169.95" y1="286.60" x2="169.95" y2="287.40" stroke="#777" stroke-width="0.4"/>
<line x1="154.20" y1="272.57" x2="155.00" y2="272.57" stroke="#777" stroke-width="0.4"/>
<line x1="170.79" y1="286.60" x2="170.79" y2="287.40" stroke="#777" stroke-width="0.4"/>
<line x1="154.20" y1="267.47" x2="155.00" y2="267.47" stroke="#777" stroke-width="0.4"/>
<line x1="176.53" y1="286.60" x2="176.53" y2="287.40" stroke="#777" stroke-width="0.4"/>
<line x1="154.20" y1="264.89" x2="155.00" y2="264.89" stroke="#777" stroke-width="0.4"/>
<line x1="179.45" y1="286.60" x2="179.45" y2="287.40" stroke="#777" stroke-width="0.4"/>
<line x1="154.20" y1="263.05" x2="155.00" y2="263.05" stroke="#777" stroke-width="0.4"/>
<line x1="181.51" y1="286.60" x2="181.51" y2="287.40" stroke="#777" stroke-width="0.4"/>
<line x1="154.20" y1="261.63" x2="155.00" y2="261.63" stroke="#777" stroke-width="0.4"/>
<line x1="183.12" y1="286.60" x2="183.12" y2="287.40" stroke="#777" stroke-width="0.4"/>
<line x1="154.20" y1="260.46" x2="155.00" y2="260.46" stroke="#777" stroke-width="0.4"/>
<line x1="184.43" y1="286.60" x2="184.43" y2="287.40" stroke="#777" stroke-width="0.4"/>
<line x1="154.20" y1="259.48" x2="155.00" y2="259.48" stroke="#777" stroke-width="0.4"/>
<line x1="185.54" y1="286.60" x2="185.54" y2="287.40" stroke="#777" stroke-width="0.4"/>
<line x1="154.20" y1="258.62" x2="155.00" y2="258.62" stroke="#777" stroke-width="0.4"/>
<line x1="186.50" y1="286.60" x2="186.50" y2="287.40" stroke="#777" stroke-width="0.4"/>
<line x1="154.20" y1="257.87" x2="155.00" y2="257.87" stroke="#777" stroke-width="0.4"/>
<line x1="187.34" y1="286.60" x2="187.34" y2="287.40" stroke="#777" stroke-width="0.4"/>
<line x1="154.20" y1="252.77" x2="155.00" y2="252.77" stroke="#777" stroke-width="0.4"/>
<line x1="193.08" y1="286.60" x2="193.08" y2="287.40" stroke="#777" stroke-width="0.4"/>
<line x1="154.20" y1="250.19" x2="155.00" y2="250.19" stroke="#777" stroke-width="0.4"/>
<line x1="196.00" y1="286.60" x2="196.00" y2="287.40" stroke="#777" stroke-width="0.4"/>
<line x1="154.20" y1="248.35" x2="155.00" y2="248.35" stroke="#777" stroke-width="0.4"/>
<line x1="198.06" y1="286.60" x2="198.06" y2="287.40" stroke="#777" stroke-width="0.4"/>
<line x1="154.20" y1="246.93" x2="155.00" y2="246.93" stroke="#777" stroke-width="0.4"/>
<line x1="199.67" y1="286.60" x2="199.67" y2="287.40" stroke="#777" stroke-width="0.4"/>
<line x1="154.20" y1="245.76" x2="155.00" y2="245.76" stroke="#777" stroke-width="0.4"/>
<line x1="200.98" y1="286.60" x2="200.98" y2="287.40" stroke="#777" stroke-width="0.4"/>
<line x1="154.20" y1="244.78" x2="155.00" y2="244.78" stroke="#777" stroke-width="0.4"/>
<line x1="202.09" y1="286.60" x2="202.09" y2="287.40" stroke="#777" stroke-width="0.4"/>
<line x1="154.20" y1="243.92" x2="155.00" y2="243.92" stroke="#777" stroke-width="0.4"/>
<line x1="203.05" y1="286.60" x2="203.05" y2="287.40" stroke="#777" stroke-width="0.4"/>
<line x1="154.20" y1="243.17" x2="155.00" y2="243.17" stroke="#777" stroke-width="0.4"/>
<line x1="203.89" y1="286.60" x2="203.89" y2="287.40" stroke="#777" stroke-width="0.4"/>
<line x1="154.20" y1="238.07" x2="155.00" y2="238.07" stroke="#777" stroke-width="0.4"/>
<line x1="209.63" y1="286.60" x2="209.63" y2="287.40" stroke="#777" stroke-width="0.4"/>
<line x1="154.20" y1="235.49" x2="155.00" y2="235.49" stroke="#777" stroke-width="0.4"/>
<line x1="212.55" y1="286.60" x2="212.55" y2="287.40" stroke="#777" stroke-width="0.4"/>
<line x1="154.20" y1="233.65" x2="155.00" y2="233.65" stroke="#777" stroke-width="0.4"/>
<line x1="214.61" y1="286.60" x2="214.61" y2="287.40" stroke="#777" stroke-width="0.4"/>
<line x1="154.20" y1="232.23" x2="155.00" y2="232.23" stroke="#777" stroke-width="0.4"/>
<line x1="216.22" y1="286.60" x2="216.22" y2="287.40" stroke="#777" stroke-width="0.4"/>
<line x1="154.20" y1="231.06" x2="155.00" y2="231.06" stroke="#777" stroke-width="0.4"/>
<line x1="217.53" y1="286.60" x2="217.53" y2="287.40" stroke="#777" stroke-width="0.4"/>
<line x1="154.20" y1="230.08" x2="155.00" y2="230.08" stroke="#777" stroke-width="0.4"/>
<line x1="218.64" y1="286.60" x2="218.64" y2="287.40" stroke="#777" stroke-width="0.4"/>
<line x1="154.20" y1="229.22" x2="155.00" y2="229.22" stroke="#777" stroke-width="0.4"/>
<line x1="219.60" y1="286.60" x2="219.60" y2="287.40" stroke="#777" stroke-width="0.4"/>
<line x1="154.20" y1="228.47" x2="155.00" y2="228.47" stroke="#777" stroke-width="0.4"/>
<line x1="220.44" y1="286.60" x2="220.44" y2="287.40" stroke="#777" stroke-width="0.4"/>
<text transform="translate(151.40,286.60) rotate(-90)" font-family="Liberation Sans" font-size="6.4" text-anchor="middle" fill="#222">10<tspan font-size="4.6" dy="-3.2">0</tspan></text>
<text x="156.20" y="295.80" font-family="Liberation Sans" font-size="6.4" text-anchor="middle" fill="#222">10<tspan font-size="4.6" dy="-3.2">0</tspan></text>
<text transform="translate(151.40,271.90) rotate(-90)" font-family="Liberation Sans" font-size="6.4" text-anchor="middle" fill="#222">10<tspan font-size="4.6" dy="-3.2">1</tspan></text>
<text x="172.75" y="295.80" font-family="Liberation Sans" font-size="6.4" text-anchor="middle" fill="#222">10<tspan font-size="4.6" dy="-3.2">1</tspan></text>
<text transform="translate(151.40,257.20) rotate(-90)" font-family="Liberation Sans" font-size="6.4" text-anchor="middle" fill="#222">10<tspan font-size="4.6" dy="-3.2">2</tspan></text>
<text x="189.30" y="295.80" font-family="Liberation Sans" font-size="6.4" text-anchor="middle" fill="#222">10<tspan font-size="4.6" dy="-3.2">2</tspan></text>
<text transform="translate(151.40,242.50) rotate(-90)" font-family="Liberation Sans" font-size="6.4" text-anchor="middle" fill="#222">10<tspan font-size="4.6" dy="-3.2">3</tspan></text>
<text x="205.85" y="295.80" font-family="Liberation Sans" font-size="6.4" text-anchor="middle" fill="#222">10<tspan font-size="4.6" dy="-3.2">3</tspan></text>
<text transform="translate(151.40,227.80) rotate(-90)" font-family="Liberation Sans" font-size="6.4" text-anchor="middle" fill="#222">10<tspan font-size="4.6" dy="-3.2">4</tspan></text>
<text x="222.40" y="295.80" font-family="Liberation Sans" font-size="6.4" text-anchor="middle" fill="#222">10<tspan font-size="4.6" dy="-3.2">4</tspan></text>
<text transform="translate(141.50,259.20) rotate(-90)" font-family="Liberation Sans" font-size="4.6" text-anchor="middle" fill="#222">FL2-H</text>
<text x="187.60" y="299.60" font-family="Liberation Sans" font-size="4.6" text-anchor="middle" fill="#222">FL4-H</text>
<text x="100.80" y="239.30" font-family="Liberation Sans" font-size="7" text-anchor="middle" fill="#222">3.5%</text>
<text x="199.70" y="239.50" font-family="Liberation Sans" font-size="7" text-anchor="middle" fill="#222">0.15%</text>
<line x1="24.20" y1="290.20" x2="24.20" y2="277.40" stroke="#000" stroke-width="2.4"/>
<text x="27.60" y="259.20" font-family="Liberation Sans" font-size="10.3" font-weight="bold" text-anchor="middle" fill="#000" transform="rotate(-90 27.6 259.2)">NK1.1</text>
<line x1="24.20" y1="240.50" x2="24.20" y2="230.00" stroke="#000" stroke-width="2.4"/>
<polygon points="20.9,232 27.5,232 24.2,224.1" fill="#000"/>
<line x1="58.60" y1="309.90" x2="114.70" y2="309.90" stroke="#000" stroke-width="2"/>
<text x="133.40" y="313.60" font-family="Liberation Sans" font-size="10.3" font-weight="bold" text-anchor="middle" fill="#000">DX5</text>
<line x1="152.80" y1="309.90" x2="209.00" y2="309.90" stroke="#000" stroke-width="2"/>
<polygon points="207,306.2 215,309.9 207,313.6" fill="#000"/>
<text x="0.80" y="339.80" font-family="Liberation Sans" font-size="13.5" font-weight="bold" text-anchor="start" fill="#000">C</text>
<line x1="36.30" y1="328.70" x2="36.30" y2="447.50" stroke="#111" stroke-width="1.1"/>
<line x1="35.80" y1="447.00" x2="125.00" y2="447.00" stroke="#111" stroke-width="1.1"/>
<line x1="33.30" y1="328.70" x2="36.30" y2="328.70" stroke="#111" stroke-width="1"/>
<line x1="33.30" y1="368.70" x2="36.30" y2="368.70" stroke="#111" stroke-width="1"/>
<line x1="33.30" y1="408.70" x2="36.30" y2="408.70" stroke="#111" stroke-width="1"/>
<line x1="33.30" y1="447.00" x2="36.30" y2="447.00" stroke="#111" stroke-width="1"/>
<line x1="36.30" y1="447.00" x2="36.30" y2="450.00" stroke="#111" stroke-width="1"/>
<text x="36.00" y="463.30" font-family="Liberation Sans" font-size="8.8" font-weight="bold" text-anchor="middle" fill="#111">0</text>
<line x1="53.94" y1="447.00" x2="53.94" y2="450.00" stroke="#111" stroke-width="1"/>
<text x="53.64" y="463.30" font-family="Liberation Sans" font-size="8.8" font-weight="bold" text-anchor="middle" fill="#111">0.2</text>
<line x1="71.58" y1="447.00" x2="71.58" y2="450.00" stroke="#111" stroke-width="1"/>
<text x="71.28" y="463.30" font-family="Liberation Sans" font-size="8.8" font-weight="bold" text-anchor="middle" fill="#111">0.4</text>
<line x1="89.22" y1="447.00" x2="89.22" y2="450.00" stroke="#111" stroke-width="1"/>
<text x="88.92" y="463.30" font-family="Liberation Sans" font-size="8.8" font-weight="bold" text-anchor="middle" fill="#111">0.6</text>
<line x1="106.86" y1="447.00" x2="106.86" y2="450.00" stroke="#111" stroke-width="1"/>
<text x="106.56" y="463.30" font-family="Liberation Sans" font-size="8.8" font-weight="bold" text-anchor="middle" fill="#111">0.8</text>
<line x1="124.50" y1="447.00" x2="124.50" y2="450.00" stroke="#111" stroke-width="1"/>
<text x="124.20" y="463.30" font-family="Liberation Sans" font-size="8.8" font-weight="bold" text-anchor="middle" fill="#111">1</text>
<text x="89.50" y="476.30" font-family="Liberation Sans" font-size="9.4" font-weight="bold" text-anchor="middle" fill="#000">Index of specific</text>
<text x="92.00" y="486.50" font-family="Liberation Sans" font-size="9.4" font-weight="bold" text-anchor="middle" fill="#000">allogeneic cell clearance</text>
<rect x="36.30" y="339.30" width="77.17" height="10.00" fill="#fff" stroke="#111" stroke-width="1"/>
<line x1="113.47" y1="344.30" x2="113.47" y2="344.30" stroke="#111" stroke-width="0.9"/>
<line x1="113.47" y1="340.50" x2="113.47" y2="348.10" stroke="#111" stroke-width="0.9"/>
<rect x="36.30" y="349.30" width="33.08" height="10.20" fill="#000" stroke="#111" stroke-width="1"/>
<line x1="69.38" y1="354.40" x2="73.78" y2="354.40" stroke="#111" stroke-width="0.9"/>
<line x1="73.78" y1="350.60" x2="73.78" y2="358.20" stroke="#111" stroke-width="0.9"/>
<rect x="36.30" y="378.00" width="71.00" height="10.70" fill="#fff" stroke="#111" stroke-width="1"/>
<line x1="107.30" y1="383.35" x2="112.15" y2="383.35" stroke="#111" stroke-width="0.9"/>
<line x1="112.15" y1="379.55" x2="112.15" y2="387.15" stroke="#111" stroke-width="0.9"/>
<line x1="102.45" y1="383.35" x2="107.30" y2="383.35" stroke="#111" stroke-width="0.9"/>
<line x1="102.45" y1="379.55" x2="102.45" y2="387.15" stroke="#111" stroke-width="0.9"/>
<rect x="36.30" y="388.70" width="20.73" height="10.50" fill="#000" stroke="#111" stroke-width="1"/>
<line x1="57.03" y1="393.95" x2="62.32" y2="393.95" stroke="#111" stroke-width="0.9"/>
<line x1="62.32" y1="390.15" x2="62.32" y2="397.75" stroke="#111" stroke-width="0.9"/>
<rect x="36.30" y="417.30" width="68.36" height="10.50" fill="#fff" stroke="#111" stroke-width="1"/>
<line x1="104.66" y1="422.55" x2="107.30" y2="422.55" stroke="#111" stroke-width="0.9"/>
<line x1="107.30" y1="418.75" x2="107.30" y2="426.35" stroke="#111" stroke-width="0.9"/>
<line x1="102.01" y1="422.55" x2="104.66" y2="422.55" stroke="#111" stroke-width="0.9"/>
<line x1="102.01" y1="418.75" x2="102.01" y2="426.35" stroke="#111" stroke-width="0.9"/>
<rect x="36.30" y="427.80" width="8.82" height="10.70" fill="#000" stroke="#111" stroke-width="1"/>
<line x1="45.12" y1="433.15" x2="50.76" y2="433.15" stroke="#111" stroke-width="0.9"/>
<line x1="50.76" y1="429.35" x2="50.76" y2="436.95" stroke="#111" stroke-width="0.9"/>
<text x="29.30" y="353.50" font-family="Liberation Sans" font-size="8.3" font-weight="bold" text-anchor="end" fill="#000">PBLs</text>
<text x="29.30" y="392.30" font-family="Liberation Sans" font-size="8.3" font-weight="bold" text-anchor="end" fill="#000">LNs</text>
<text x="29.30" y="431.30" font-family="Liberation Sans" font-size="8.3" font-weight="bold" text-anchor="end" fill="#000">Spleen</text>
<polyline points="124.50,344.50 131.70,344.50 131.70,355.70 124.50,355.70" fill="none" stroke="#111" stroke-width="1"/>
<polyline points="124.50,382.50 131.70,382.50 131.70,394.50 124.50,394.50" fill="none" stroke="#111" stroke-width="1"/>
<polyline points="124.50,420.80 131.70,420.80 131.70,433.00 124.50,433.00" fill="none" stroke="#111" stroke-width="1"/>
<text x="136.80" y="354.76" font-family="Liberation Sans" font-size="11.5" font-weight="bold" text-anchor="middle" fill="#000">*</text>
<text x="136.80" y="395.17" font-family="Liberation Sans" font-size="11.5" font-weight="bold" text-anchor="middle" fill="#000">*</text>
<text x="136.80" y="433.47" font-family="Liberation Sans" font-size="11.5" font-weight="bold" text-anchor="middle" fill="#000">*</text>
<rect x="161.50" y="378.50" width="5.80" height="5.80" fill="#fff" stroke="#111" stroke-width="1"/>
<text x="174.50" y="385.00" font-family="Liberation Sans" font-size="10.3" font-weight="bold" text-anchor="start" fill="#000">Untreated</text>
<rect x="161.50" y="390.90" width="5.80" height="5.80" fill="#000" stroke="#111" stroke-width="1"/>
<text x="174.50" y="397.50" font-family="Liberation Sans" font-size="10.3" font-weight="bold" text-anchor="start" fill="#000">Anti-NK1.1</text>
<text x="260.60" y="10.40" font-family="Liberation Sans" font-size="13.5" font-weight="bold" text-anchor="start" fill="#000">D</text>
<rect x="280.60" y="11.60" width="69.70" height="58.30" fill="#fff" stroke="#999" stroke-width="0.6"/>
<path d="M280.60,69.90 L280.60,11.60 L297.87,11.60 L297.87,11.60 L298.74,16.57 L299.60,22.35 L300.81,34.33 L301.68,43.13 L302.20,50.56 L303.06,55.41 L303.93,57.92 L304.79,60.47 L305.66,61.58 L306.52,64.07 L307.39,63.97 L308.25,64.22 L309.12,64.68 L309.98,65.95 L310.72,65.40 L311.47,65.85 L312.21,67.37 L312.95,67.08 L313.69,67.85 L314.43,66.81 L315.17,67.65 L316.04,68.06 L316.90,67.85 L317.77,67.26 L318.63,67.58 L319.50,66.36 L320.36,65.11 L321.23,62.26 L322.09,59.69 L323.48,55.53 L324.69,52.81 L325.55,57.36 L326.94,64.03 L328.15,66.22 L329.01,67.22 L329.88,67.90 L330.74,68.36 L331.61,68.27 L332.47,67.83 L333.34,67.63 L334.20,64.45 L335.07,62.03 L335.93,58.24 L336.80,50.04 L337.66,43.20 L339.05,29.55 L339.83,25.20 L340.61,20.98 L341.47,17.60 L342.34,21.64 L343.20,35.59 L344.24,50.81 L345.45,62.07 L346.31,67.55 L347.18,67.04 L348.04,68.56 L348.79,69.80 L349.54,69.90 L350.29,69.76 L350.30,69.90 Z" fill="#000"/>
<line x1="280.60" y1="69.90" x2="350.30" y2="69.90" stroke="#222" stroke-width="0.9"/>
<line x1="280.60" y1="11.60" x2="280.60" y2="69.90" stroke="#222" stroke-width="0.9"/>
<line x1="280.60" y1="69.90" x2="280.60" y2="71.20" stroke="#444" stroke-width="0.6"/>
<text x="280.60" y="75.10" font-family="Liberation Sans" font-size="3.9" text-anchor="middle" fill="#333">10<tspan font-size="2.6" dy="-1.4">0</tspan></text>
<line x1="285.85" y1="69.90" x2="285.85" y2="70.60" stroke="#888" stroke-width="0.4"/>
<line x1="288.91" y1="69.90" x2="288.91" y2="70.60" stroke="#888" stroke-width="0.4"/>
<line x1="291.09" y1="69.90" x2="291.09" y2="70.60" stroke="#888" stroke-width="0.4"/>
<line x1="292.78" y1="69.90" x2="292.78" y2="70.60" stroke="#888" stroke-width="0.4"/>
<line x1="294.16" y1="69.90" x2="294.16" y2="70.60" stroke="#888" stroke-width="0.4"/>
<line x1="295.33" y1="69.90" x2="295.33" y2="70.60" stroke="#888" stroke-width="0.4"/>
<line x1="296.34" y1="69.90" x2="296.34" y2="70.60" stroke="#888" stroke-width="0.4"/>
<line x1="297.23" y1="69.90" x2="297.23" y2="70.60" stroke="#888" stroke-width="0.4"/>
<line x1="298.03" y1="69.90" x2="298.03" y2="71.20" stroke="#444" stroke-width="0.6"/>
<text x="298.03" y="75.10" font-family="Liberation Sans" font-size="3.9" text-anchor="middle" fill="#333">10<tspan font-size="2.6" dy="-1.4">1</tspan></text>
<line x1="303.27" y1="69.90" x2="303.27" y2="70.60" stroke="#888" stroke-width="0.4"/>
<line x1="306.34" y1="69.90" x2="306.34" y2="70.60" stroke="#888" stroke-width="0.4"/>
<line x1="308.52" y1="69.90" x2="308.52" y2="70.60" stroke="#888" stroke-width="0.4"/>
<line x1="310.20" y1="69.90" x2="310.20" y2="70.60" stroke="#888" stroke-width="0.4"/>
<line x1="311.58" y1="69.90" x2="311.58" y2="70.60" stroke="#888" stroke-width="0.4"/>
<line x1="312.75" y1="69.90" x2="312.75" y2="70.60" stroke="#888" stroke-width="0.4"/>
<line x1="313.76" y1="69.90" x2="313.76" y2="70.60" stroke="#888" stroke-width="0.4"/>
<line x1="314.65" y1="69.90" x2="314.65" y2="70.60" stroke="#888" stroke-width="0.4"/>
<line x1="315.45" y1="69.90" x2="315.45" y2="71.20" stroke="#444" stroke-width="0.6"/>
<text x="315.45" y="75.10" font-family="Liberation Sans" font-size="3.9" text-anchor="middle" fill="#333">10<tspan font-size="2.6" dy="-1.4">2</tspan></text>
<line x1="320.70" y1="69.90" x2="320.70" y2="70.60" stroke="#888" stroke-width="0.4"/>
<line x1="323.76" y1="69.90" x2="323.76" y2="70.60" stroke="#888" stroke-width="0.4"/>
<line x1="325.94" y1="69.90" x2="325.94" y2="70.60" stroke="#888" stroke-width="0.4"/>
<line x1="327.63" y1="69.90" x2="327.63" y2="70.60" stroke="#888" stroke-width="0.4"/>
<line x1="329.01" y1="69.90" x2="329.01" y2="70.60" stroke="#888" stroke-width="0.4"/>
<line x1="330.18" y1="69.90" x2="330.18" y2="70.60" stroke="#888" stroke-width="0.4"/>
<line x1="331.19" y1="69.90" x2="331.19" y2="70.60" stroke="#888" stroke-width="0.4"/>
<line x1="332.08" y1="69.90" x2="332.08" y2="70.60" stroke="#888" stroke-width="0.4"/>
<line x1="332.88" y1="69.90" x2="332.88" y2="71.20" stroke="#444" stroke-width="0.6"/>
<text x="332.88" y="75.10" font-family="Liberation Sans" font-size="3.9" text-anchor="middle" fill="#333">10<tspan font-size="2.6" dy="-1.4">3</tspan></text>
<line x1="338.12" y1="69.90" x2="338.12" y2="70.60" stroke="#888" stroke-width="0.4"/>
<line x1="341.19" y1="69.90" x2="341.19" y2="70.60" stroke="#888" stroke-width="0.4"/>
<line x1="343.37" y1="69.90" x2="343.37" y2="70.60" stroke="#888" stroke-width="0.4"/>
<line x1="345.05" y1="69.90" x2="345.05" y2="70.60" stroke="#888" stroke-width="0.4"/>
<line x1="346.43" y1="69.90" x2="346.43" y2="70.60" stroke="#888" stroke-width="0.4"/>
<line x1="347.60" y1="69.90" x2="347.60" y2="70.60" stroke="#888" stroke-width="0.4"/>
<line x1="348.61" y1="69.90" x2="348.61" y2="70.60" stroke="#888" stroke-width="0.4"/>
<line x1="349.50" y1="69.90" x2="349.50" y2="70.60" stroke="#888" stroke-width="0.4"/>
<line x1="350.30" y1="69.90" x2="350.30" y2="71.20" stroke="#444" stroke-width="0.6"/>
<text x="350.30" y="75.10" font-family="Liberation Sans" font-size="3.9" text-anchor="middle" fill="#333">10<tspan font-size="2.6" dy="-1.4">4</tspan></text>
<text x="315.45" y="78.20" font-family="Liberation Sans" font-size="3.4" text-anchor="middle" fill="#333">FL1-H</text>
<line x1="279.30" y1="69.90" x2="280.60" y2="69.90" stroke="#555" stroke-width="0.5"/>
<text transform="translate(278.20,69.90) rotate(-90)" font-family="Liberation Sans" font-size="3.4" text-anchor="middle" fill="#333">0</text>
<line x1="279.30" y1="55.33" x2="280.60" y2="55.33" stroke="#555" stroke-width="0.5"/>
<text transform="translate(278.20,55.33) rotate(-90)" font-family="Liberation Sans" font-size="3.4" text-anchor="middle" fill="#333">5</text>
<line x1="279.30" y1="40.75" x2="280.60" y2="40.75" stroke="#555" stroke-width="0.5"/>
<text transform="translate(278.20,40.75) rotate(-90)" font-family="Liberation Sans" font-size="3.4" text-anchor="middle" fill="#333">10</text>
<line x1="279.30" y1="26.18" x2="280.60" y2="26.18" stroke="#555" stroke-width="0.5"/>
<text transform="translate(278.20,26.18) rotate(-90)" font-family="Liberation Sans" font-size="3.4" text-anchor="middle" fill="#333">15</text>
<line x1="279.30" y1="11.60" x2="280.60" y2="11.60" stroke="#555" stroke-width="0.5"/>
<text transform="translate(278.20,11.60) rotate(-90)" font-family="Liberation Sans" font-size="3.4" text-anchor="middle" fill="#333">20</text>
<text transform="translate(272.80,42.25) rotate(-90)" font-family="Liberation Sans" font-size="3.6" text-anchor="middle" fill="#444">Counts</text>
<text x="310.40" y="7.90" font-family="Liberation Sans" font-size="10.3" font-weight="bold" text-anchor="middle" fill="#000">Control</text>
<rect x="362.40" y="11.60" width="72.20" height="58.30" fill="#fff" stroke="#999" stroke-width="0.6"/>
<path d="M362.40,69.90 L362.40,11.60 L377.88,11.60 L377.88,11.60 L378.70,17.72 L379.52,26.90 L380.34,37.34 L381.15,45.63 L382.46,54.28 L383.28,56.47 L384.09,59.91 L385.08,63.22 L386.06,63.51 L386.87,65.14 L387.69,64.75 L388.51,66.48 L389.32,65.99 L390.14,66.99 L390.96,65.82 L391.78,67.10 L392.59,66.03 L393.29,65.70 L394.00,65.77 L394.70,65.75 L395.40,66.32 L396.10,67.37 L396.80,66.25 L397.50,66.91 L398.31,65.35 L399.13,65.89 L399.95,65.61 L400.77,64.48 L401.58,63.72 L402.40,61.84 L403.22,59.18 L404.04,57.63 L404.85,51.66 L405.67,44.91 L406.98,31.81 L407.80,25.17 L408.61,32.09 L409.27,45.84 L410.25,57.88 L411.39,65.23 L412.21,66.27 L413.03,66.17 L413.84,66.82 L414.66,66.22 L415.48,65.16 L416.29,65.01 L417.11,63.21 L417.93,61.25 L418.75,58.98 L419.56,56.37 L420.71,49.06 L422.02,32.74 L423.32,18.45 L423.98,12.09 L424.96,16.93 L426.10,31.64 L426.92,49.71 L427.74,63.15 L428.55,68.05 L429.31,69.24 L430.07,67.98 L430.82,69.31 L431.58,69.60 L432.33,69.10 L433.09,69.29 L433.85,68.30 L434.60,69.29 L434.60,69.90 Z" fill="#000"/>
<line x1="362.40" y1="69.90" x2="434.60" y2="69.90" stroke="#222" stroke-width="0.9"/>
<line x1="362.40" y1="11.60" x2="362.40" y2="69.90" stroke="#222" stroke-width="0.9"/>
<line x1="362.40" y1="69.90" x2="362.40" y2="71.20" stroke="#444" stroke-width="0.6"/>
<text x="362.40" y="75.10" font-family="Liberation Sans" font-size="3.9" text-anchor="middle" fill="#333">10<tspan font-size="2.6" dy="-1.4">0</tspan></text>
<line x1="367.83" y1="69.90" x2="367.83" y2="70.60" stroke="#888" stroke-width="0.4"/>
<line x1="371.01" y1="69.90" x2="371.01" y2="70.60" stroke="#888" stroke-width="0.4"/>
<line x1="373.27" y1="69.90" x2="373.27" y2="70.60" stroke="#888" stroke-width="0.4"/>
<line x1="375.02" y1="69.90" x2="375.02" y2="70.60" stroke="#888" stroke-width="0.4"/>
<line x1="376.45" y1="69.90" x2="376.45" y2="70.60" stroke="#888" stroke-width="0.4"/>
<line x1="377.65" y1="69.90" x2="377.65" y2="70.60" stroke="#888" stroke-width="0.4"/>
<line x1="378.70" y1="69.90" x2="378.70" y2="70.60" stroke="#888" stroke-width="0.4"/>
<line x1="379.62" y1="69.90" x2="379.62" y2="70.60" stroke="#888" stroke-width="0.4"/>
<line x1="380.45" y1="69.90" x2="380.45" y2="71.20" stroke="#444" stroke-width="0.6"/>
<text x="380.45" y="75.10" font-family="Liberation Sans" font-size="3.9" text-anchor="middle" fill="#333">10<tspan font-size="2.6" dy="-1.4">1</tspan></text>
<line x1="385.88" y1="69.90" x2="385.88" y2="70.60" stroke="#888" stroke-width="0.4"/>
<line x1="389.06" y1="69.90" x2="389.06" y2="70.60" stroke="#888" stroke-width="0.4"/>
<line x1="391.32" y1="69.90" x2="391.32" y2="70.60" stroke="#888" stroke-width="0.4"/>
<line x1="393.07" y1="69.90" x2="393.07" y2="70.60" stroke="#888" stroke-width="0.4"/>
<line x1="394.50" y1="69.90" x2="394.50" y2="70.60" stroke="#888" stroke-width="0.4"/>
<line x1="395.70" y1="69.90" x2="395.70" y2="70.60" stroke="#888" stroke-width="0.4"/>
<line x1="396.75" y1="69.90" x2="396.75" y2="70.60" stroke="#888" stroke-width="0.4"/>
<line x1="397.67" y1="69.90" x2="397.67" y2="70.60" stroke="#888" stroke-width="0.4"/>
<line x1="398.50" y1="69.90" x2="398.50" y2="71.20" stroke="#444" stroke-width="0.6"/>
<text x="398.50" y="75.10" font-family="Liberation Sans" font-size="3.9" text-anchor="middle" fill="#333">10<tspan font-size="2.6" dy="-1.4">2</tspan></text>
<line x1="403.93" y1="69.90" x2="403.93" y2="70.60" stroke="#888" stroke-width="0.4"/>
<line x1="407.11" y1="69.90" x2="407.11" y2="70.60" stroke="#888" stroke-width="0.4"/>
<line x1="409.37" y1="69.90" x2="409.37" y2="70.60" stroke="#888" stroke-width="0.4"/>
<line x1="411.12" y1="69.90" x2="411.12" y2="70.60" stroke="#888" stroke-width="0.4"/>
<line x1="412.55" y1="69.90" x2="412.55" y2="70.60" stroke="#888" stroke-width="0.4"/>
<line x1="413.75" y1="69.90" x2="413.75" y2="70.60" stroke="#888" stroke-width="0.4"/>
<line x1="414.80" y1="69.90" x2="414.80" y2="70.60" stroke="#888" stroke-width="0.4"/>
<line x1="415.72" y1="69.90" x2="415.72" y2="70.60" stroke="#888" stroke-width="0.4"/>
<line x1="416.55" y1="69.90" x2="416.55" y2="71.20" stroke="#444" stroke-width="0.6"/>
<text x="416.55" y="75.10" font-family="Liberation Sans" font-size="3.9" text-anchor="middle" fill="#333">10<tspan font-size="2.6" dy="-1.4">3</tspan></text>
<line x1="421.98" y1="69.90" x2="421.98" y2="70.60" stroke="#888" stroke-width="0.4"/>
<line x1="425.16" y1="69.90" x2="425.16" y2="70.60" stroke="#888" stroke-width="0.4"/>
<line x1="427.42" y1="69.90" x2="427.42" y2="70.60" stroke="#888" stroke-width="0.4"/>
<line x1="429.17" y1="69.90" x2="429.17" y2="70.60" stroke="#888" stroke-width="0.4"/>
<line x1="430.60" y1="69.90" x2="430.60" y2="70.60" stroke="#888" stroke-width="0.4"/>
<line x1="431.80" y1="69.90" x2="431.80" y2="70.60" stroke="#888" stroke-width="0.4"/>
<line x1="432.85" y1="69.90" x2="432.85" y2="70.60" stroke="#888" stroke-width="0.4"/>
<line x1="433.77" y1="69.90" x2="433.77" y2="70.60" stroke="#888" stroke-width="0.4"/>
<line x1="434.60" y1="69.90" x2="434.60" y2="71.20" stroke="#444" stroke-width="0.6"/>
<text x="434.60" y="75.10" font-family="Liberation Sans" font-size="3.9" text-anchor="middle" fill="#333">10<tspan font-size="2.6" dy="-1.4">4</tspan></text>
<text x="398.50" y="78.20" font-family="Liberation Sans" font-size="3.4" text-anchor="middle" fill="#333">FL1-H</text>
<line x1="361.10" y1="69.90" x2="362.40" y2="69.90" stroke="#555" stroke-width="0.5"/>
<text transform="translate(360.00,69.90) rotate(-90)" font-family="Liberation Sans" font-size="3.4" text-anchor="middle" fill="#333">0</text>
<line x1="361.10" y1="55.33" x2="362.40" y2="55.33" stroke="#555" stroke-width="0.5"/>
<text transform="translate(360.00,55.33) rotate(-90)" font-family="Liberation Sans" font-size="3.4" text-anchor="middle" fill="#333">5</text>
<line x1="361.10" y1="40.75" x2="362.40" y2="40.75" stroke="#555" stroke-width="0.5"/>
<text transform="translate(360.00,40.75) rotate(-90)" font-family="Liberation Sans" font-size="3.4" text-anchor="middle" fill="#333">10</text>
<line x1="361.10" y1="26.18" x2="362.40" y2="26.18" stroke="#555" stroke-width="0.5"/>
<text transform="translate(360.00,26.18) rotate(-90)" font-family="Liberation Sans" font-size="3.4" text-anchor="middle" fill="#333">15</text>
<line x1="361.10" y1="11.60" x2="362.40" y2="11.60" stroke="#555" stroke-width="0.5"/>
<text transform="translate(360.00,11.60) rotate(-90)" font-family="Liberation Sans" font-size="3.4" text-anchor="middle" fill="#333">20</text>
<text transform="translate(354.60,42.25) rotate(-90)" font-family="Liberation Sans" font-size="3.6" text-anchor="middle" fill="#444">Counts</text>
<text x="397.40" y="7.90" font-family="Liberation Sans" font-size="10.3" font-weight="bold" text-anchor="middle" fill="#000">LPS</text>
<rect x="446.40" y="11.60" width="71.10" height="58.50" fill="#fff" stroke="#999" stroke-width="0.6"/>
<path d="M446.40,70.10 L446.40,11.60 L461.97,11.60 L461.97,11.60 L463.11,18.00 L464.09,27.82 L465.24,41.18 L466.38,50.53 L467.69,56.34 L469.00,61.44 L470.14,64.67 L470.96,63.91 L471.78,64.23 L472.59,64.76 L473.41,66.01 L474.23,65.84 L475.05,65.77 L475.86,67.13 L476.68,66.72 L477.50,66.37 L478.31,67.37 L479.13,68.30 L479.95,65.79 L480.77,64.27 L481.58,62.49 L482.40,61.18 L483.22,57.29 L484.04,53.19 L485.34,44.11 L486.49,32.20 L487.30,23.48 L488.12,23.09 L488.94,26.75 L490.25,40.70 L491.39,51.80 L492.54,60.48 L493.84,64.97 L494.66,64.60 L495.48,65.17 L496.29,64.83 L497.11,63.95 L497.93,63.59 L499.24,57.09 L500.38,48.37 L501.69,37.90 L502.83,30.88 L503.65,28.99 L504.47,27.17 L505.61,29.04 L506.59,38.15 L507.74,51.29 L508.88,59.85 L510.19,65.25 L511.01,67.90 L511.82,68.44 L512.54,70.00 L513.25,69.74 L513.97,69.18 L514.68,69.43 L515.40,69.93 L516.11,69.05 L516.83,69.48 L517.54,69.78 L517.50,70.10 Z" fill="#000"/>
<line x1="446.40" y1="70.10" x2="517.50" y2="70.10" stroke="#222" stroke-width="0.9"/>
<line x1="446.40" y1="11.60" x2="446.40" y2="70.10" stroke="#222" stroke-width="0.9"/>
<line x1="446.40" y1="70.10" x2="446.40" y2="71.40" stroke="#444" stroke-width="0.6"/>
<text x="446.40" y="75.30" font-family="Liberation Sans" font-size="3.9" text-anchor="middle" fill="#333">10<tspan font-size="2.6" dy="-1.4">0</tspan></text>
<line x1="451.75" y1="70.10" x2="451.75" y2="70.80" stroke="#888" stroke-width="0.4"/>
<line x1="454.88" y1="70.10" x2="454.88" y2="70.80" stroke="#888" stroke-width="0.4"/>
<line x1="457.10" y1="70.10" x2="457.10" y2="70.80" stroke="#888" stroke-width="0.4"/>
<line x1="458.82" y1="70.10" x2="458.82" y2="70.80" stroke="#888" stroke-width="0.4"/>
<line x1="460.23" y1="70.10" x2="460.23" y2="70.80" stroke="#888" stroke-width="0.4"/>
<line x1="461.42" y1="70.10" x2="461.42" y2="70.80" stroke="#888" stroke-width="0.4"/>
<line x1="462.45" y1="70.10" x2="462.45" y2="70.80" stroke="#888" stroke-width="0.4"/>
<line x1="463.36" y1="70.10" x2="463.36" y2="70.80" stroke="#888" stroke-width="0.4"/>
<line x1="464.17" y1="70.10" x2="464.17" y2="71.40" stroke="#444" stroke-width="0.6"/>
<text x="464.17" y="75.30" font-family="Liberation Sans" font-size="3.9" text-anchor="middle" fill="#333">10<tspan font-size="2.6" dy="-1.4">1</tspan></text>
<line x1="469.53" y1="70.10" x2="469.53" y2="70.80" stroke="#888" stroke-width="0.4"/>
<line x1="472.66" y1="70.10" x2="472.66" y2="70.80" stroke="#888" stroke-width="0.4"/>
<line x1="474.88" y1="70.10" x2="474.88" y2="70.80" stroke="#888" stroke-width="0.4"/>
<line x1="476.60" y1="70.10" x2="476.60" y2="70.80" stroke="#888" stroke-width="0.4"/>
<line x1="478.01" y1="70.10" x2="478.01" y2="70.80" stroke="#888" stroke-width="0.4"/>
<line x1="479.20" y1="70.10" x2="479.20" y2="70.80" stroke="#888" stroke-width="0.4"/>
<line x1="480.23" y1="70.10" x2="480.23" y2="70.80" stroke="#888" stroke-width="0.4"/>
<line x1="481.14" y1="70.10" x2="481.14" y2="70.80" stroke="#888" stroke-width="0.4"/>
<line x1="481.95" y1="70.10" x2="481.95" y2="71.40" stroke="#444" stroke-width="0.6"/>
<text x="481.95" y="75.30" font-family="Liberation Sans" font-size="3.9" text-anchor="middle" fill="#333">10<tspan font-size="2.6" dy="-1.4">2</tspan></text>
<line x1="487.30" y1="70.10" x2="487.30" y2="70.80" stroke="#888" stroke-width="0.4"/>
<line x1="490.43" y1="70.10" x2="490.43" y2="70.80" stroke="#888" stroke-width="0.4"/>
<line x1="492.65" y1="70.10" x2="492.65" y2="70.80" stroke="#888" stroke-width="0.4"/>
<line x1="494.37" y1="70.10" x2="494.37" y2="70.80" stroke="#888" stroke-width="0.4"/>
<line x1="495.78" y1="70.10" x2="495.78" y2="70.80" stroke="#888" stroke-width="0.4"/>
<line x1="496.97" y1="70.10" x2="496.97" y2="70.80" stroke="#888" stroke-width="0.4"/>
<line x1="498.00" y1="70.10" x2="498.00" y2="70.80" stroke="#888" stroke-width="0.4"/>
<line x1="498.91" y1="70.10" x2="498.91" y2="70.80" stroke="#888" stroke-width="0.4"/>
<line x1="499.73" y1="70.10" x2="499.73" y2="71.40" stroke="#444" stroke-width="0.6"/>
<text x="499.73" y="75.30" font-family="Liberation Sans" font-size="3.9" text-anchor="middle" fill="#333">10<tspan font-size="2.6" dy="-1.4">3</tspan></text>
<line x1="505.08" y1="70.10" x2="505.08" y2="70.80" stroke="#888" stroke-width="0.4"/>
<line x1="508.21" y1="70.10" x2="508.21" y2="70.80" stroke="#888" stroke-width="0.4"/>
<line x1="510.43" y1="70.10" x2="510.43" y2="70.80" stroke="#888" stroke-width="0.4"/>
<line x1="512.15" y1="70.10" x2="512.15" y2="70.80" stroke="#888" stroke-width="0.4"/>
<line x1="513.56" y1="70.10" x2="513.56" y2="70.80" stroke="#888" stroke-width="0.4"/>
<line x1="514.75" y1="70.10" x2="514.75" y2="70.80" stroke="#888" stroke-width="0.4"/>
<line x1="515.78" y1="70.10" x2="515.78" y2="70.80" stroke="#888" stroke-width="0.4"/>
<line x1="516.69" y1="70.10" x2="516.69" y2="70.80" stroke="#888" stroke-width="0.4"/>
<line x1="517.50" y1="70.10" x2="517.50" y2="71.40" stroke="#444" stroke-width="0.6"/>
<text x="517.50" y="75.30" font-family="Liberation Sans" font-size="3.9" text-anchor="middle" fill="#333">10<tspan font-size="2.6" dy="-1.4">4</tspan></text>
<text x="481.95" y="78.40" font-family="Liberation Sans" font-size="3.4" text-anchor="middle" fill="#333">FL1-H</text>
<line x1="445.10" y1="70.10" x2="446.40" y2="70.10" stroke="#555" stroke-width="0.5"/>
<text transform="translate(444.00,70.10) rotate(-90)" font-family="Liberation Sans" font-size="3.4" text-anchor="middle" fill="#333">0</text>
<line x1="445.10" y1="55.47" x2="446.40" y2="55.47" stroke="#555" stroke-width="0.5"/>
<text transform="translate(444.00,55.47) rotate(-90)" font-family="Liberation Sans" font-size="3.4" text-anchor="middle" fill="#333">5</text>
<line x1="445.10" y1="40.85" x2="446.40" y2="40.85" stroke="#555" stroke-width="0.5"/>
<text transform="translate(444.00,40.85) rotate(-90)" font-family="Liberation Sans" font-size="3.4" text-anchor="middle" fill="#333">10</text>
<line x1="445.10" y1="26.23" x2="446.40" y2="26.23" stroke="#555" stroke-width="0.5"/>
<text transform="translate(444.00,26.23) rotate(-90)" font-family="Liberation Sans" font-size="3.4" text-anchor="middle" fill="#333">15</text>
<line x1="445.10" y1="11.60" x2="446.40" y2="11.60" stroke="#555" stroke-width="0.5"/>
<text transform="translate(444.00,11.60) rotate(-90)" font-family="Liberation Sans" font-size="3.4" text-anchor="middle" fill="#333">20</text>
<text transform="translate(438.60,42.35) rotate(-90)" font-family="Liberation Sans" font-size="3.6" text-anchor="middle" fill="#444">Counts</text>
<text x="480.20" y="7.90" font-family="Liberation Sans" font-size="10.3" font-weight="bold" text-anchor="middle" fill="#000">Anti-NK1.1</text>
<line x1="315.50" y1="42.20" x2="347.50" y2="42.20" stroke="#333" stroke-width="1.1"/>
<line x1="315.50" y1="37.60" x2="315.50" y2="46.80" stroke="#333" stroke-width="1.1"/>
<line x1="347.50" y1="37.60" x2="347.50" y2="46.80" stroke="#333" stroke-width="1.1"/>
<line x1="399.10" y1="42.30" x2="430.50" y2="42.30" stroke="#333" stroke-width="1.1"/>
<line x1="399.10" y1="37.70" x2="399.10" y2="46.90" stroke="#333" stroke-width="1.1"/>
<line x1="430.50" y1="37.70" x2="430.50" y2="46.90" stroke="#333" stroke-width="1.1"/>
<line x1="478.30" y1="42.30" x2="512.10" y2="42.30" stroke="#333" stroke-width="1.1"/>
<line x1="478.30" y1="37.70" x2="478.30" y2="46.90" stroke="#333" stroke-width="1.1"/>
<line x1="512.10" y1="37.70" x2="512.10" y2="46.90" stroke="#333" stroke-width="1.1"/>
<text x="331.00" y="21.80" font-family="Liberation Sans" font-size="8.4" font-weight="bold" text-anchor="middle" fill="#000">81%</text>
<text x="321.00" y="37.10" font-family="Liberation Sans" font-size="8.4" font-weight="bold" text-anchor="middle" fill="#000">19%</text>
<text x="399.00" y="26.30" font-family="Liberation Sans" font-size="8.4" font-weight="bold" text-anchor="middle" fill="#000">38%</text>
<text x="414.00" y="20.70" font-family="Liberation Sans" font-size="8.4" font-weight="bold" text-anchor="middle" fill="#000">62%</text>
<text x="495.70" y="21.40" font-family="Liberation Sans" font-size="8.4" font-weight="bold" text-anchor="middle" fill="#000">52% 48%</text>
<line x1="279.00" y1="85.50" x2="380.50" y2="85.50" stroke="#000" stroke-width="1.8"/>
<text x="395.20" y="89.80" font-family="Liberation Sans" font-size="10.3" font-weight="bold" text-anchor="middle" fill="#000">CFSE</text>
<line x1="410.50" y1="85.50" x2="508.00" y2="85.50" stroke="#000" stroke-width="1.8"/>
<polygon points="505,82 516.5,85.5 505,89" fill="#000"/>
<line x1="334.60" y1="100.40" x2="334.60" y2="187.50" stroke="#555" stroke-width="1"/>
<line x1="334.60" y1="187.50" x2="490.00" y2="187.50" stroke="#555" stroke-width="1"/>
<line x1="332.40" y1="100.40" x2="334.60" y2="100.40" stroke="#555" stroke-width="0.9"/>
<line x1="332.40" y1="129.40" x2="334.60" y2="129.40" stroke="#555" stroke-width="0.9"/>
<line x1="332.40" y1="158.40" x2="334.60" y2="158.40" stroke="#555" stroke-width="0.9"/>
<line x1="332.40" y1="187.50" x2="334.60" y2="187.50" stroke="#555" stroke-width="0.9"/>
<line x1="335.00" y1="187.50" x2="335.00" y2="189.80" stroke="#555" stroke-width="0.9"/>
<text x="335.00" y="200.50" font-family="Liberation Sans" font-size="7.2" text-anchor="middle" fill="#333">0</text>
<line x1="366.00" y1="187.50" x2="366.00" y2="189.80" stroke="#555" stroke-width="0.9"/>
<text x="366.00" y="200.50" font-family="Liberation Sans" font-size="7.2" text-anchor="middle" fill="#333">0.2</text>
<line x1="397.00" y1="187.50" x2="397.00" y2="189.80" stroke="#555" stroke-width="0.9"/>
<text x="397.00" y="200.50" font-family="Liberation Sans" font-size="7.2" text-anchor="middle" fill="#333">0.4</text>
<line x1="428.00" y1="187.50" x2="428.00" y2="189.80" stroke="#555" stroke-width="0.9"/>
<text x="428.00" y="200.50" font-family="Liberation Sans" font-size="7.2" text-anchor="middle" fill="#333">0.6</text>
<line x1="459.00" y1="187.50" x2="459.00" y2="189.80" stroke="#555" stroke-width="0.9"/>
<text x="459.00" y="200.50" font-family="Liberation Sans" font-size="7.2" text-anchor="middle" fill="#333">0.8</text>
<line x1="490.00" y1="187.50" x2="490.00" y2="189.80" stroke="#555" stroke-width="0.9"/>
<text x="490.00" y="200.50" font-family="Liberation Sans" font-size="7.2" text-anchor="middle" fill="#333">1</text>
<rect x="334.60" y="110.50" width="124.40" height="9.80" fill="#fff" stroke="#555" stroke-width="1"/>
<line x1="455.12" y1="115.40" x2="462.88" y2="115.40" stroke="#333" stroke-width="0.8"/>
<line x1="462.88" y1="113.40" x2="462.88" y2="117.40" stroke="#333" stroke-width="0.8"/>
<line x1="455.12" y1="113.40" x2="455.12" y2="117.40" stroke="#333" stroke-width="0.8"/>
<rect x="334.60" y="139.30" width="57.75" height="10.00" fill="#000" stroke="#000" stroke-width="1"/>
<line x1="386.62" y1="144.30" x2="398.08" y2="144.30" stroke="#333" stroke-width="0.8"/>
<line x1="398.08" y1="142.30" x2="398.08" y2="146.30" stroke="#333" stroke-width="0.8"/>
<line x1="386.62" y1="142.30" x2="386.62" y2="146.30" stroke="#333" stroke-width="0.8"/>
<rect x="334.60" y="167.50" width="14.81" height="10.00" fill="#a8a8a8" stroke="#999" stroke-width="1"/>
<line x1="337.48" y1="172.50" x2="361.35" y2="172.50" stroke="#333" stroke-width="0.8"/>
<line x1="361.35" y1="170.50" x2="361.35" y2="174.50" stroke="#333" stroke-width="0.8"/>
<line x1="337.48" y1="170.50" x2="337.48" y2="174.50" stroke="#333" stroke-width="0.8"/>
<text x="327.50" y="118.30" font-family="Liberation Sans" font-size="10.3" font-weight="bold" text-anchor="end" fill="#000">Control</text>
<text x="327.50" y="149.30" font-family="Liberation Sans" font-size="10.3" font-weight="bold" text-anchor="end" fill="#000">LPS</text>
<text x="327.50" y="176.40" font-family="Liberation Sans" font-size="10.3" font-weight="bold" text-anchor="end" fill="#000">Anti-NK1.1</text>
<path d="M467.50,112.00 C473.80,112.00 474.80,113.00 474.80,116.00 L474.80,125.90 C474.80,127.90 475.76,128.90 476.40,128.90 C475.76,128.90 474.80,129.90 474.80,131.90 L474.80,141.80 C474.80,144.80 473.80,145.80 467.50,145.80" fill="none" stroke="#222" stroke-width="1.1"/>
<path d="M481.30,112.00 C487.60,112.00 488.60,113.00 488.60,116.00 L488.60,142.15 C488.60,144.15 489.56,145.15 490.20,145.15 C489.56,145.15 488.60,146.15 488.60,148.15 L488.60,174.30 C488.60,177.30 487.60,178.30 481.30,178.30" fill="none" stroke="#222" stroke-width="1.1"/>
<text x="479.30" y="135.55" font-family="Liberation Sans" font-size="10.5" font-weight="bold" text-anchor="middle" fill="#000">*</text>
<text x="494.50" y="145.95" font-family="Liberation Sans" font-size="10.5" font-weight="bold" text-anchor="middle" fill="#000">*</text>
<text x="494.50" y="154.16" font-family="Liberation Sans" font-size="10.5" font-weight="bold" text-anchor="middle" fill="#000">*</text>
<text x="408.20" y="212.90" font-family="Liberation Sans" font-size="10.3" font-weight="bold" text-anchor="middle" fill="#000">Index of specific &#160;allogeneic</text>
<text x="410.30" y="225.60" font-family="Liberation Sans" font-size="10.3" font-weight="bold" text-anchor="middle" fill="#000">cell clearance</text>
<text x="260.60" y="250.60" font-family="Liberation Sans" font-size="13.5" font-weight="bold" text-anchor="start" fill="#000">E</text>
<line x1="300.30" y1="243.70" x2="300.30" y2="326.70" stroke="#444" stroke-width="1"/>
<line x1="299.80" y1="326.20" x2="445.00" y2="326.20" stroke="#444" stroke-width="1"/>
<line x1="298.10" y1="326.20" x2="300.30" y2="326.20" stroke="#444" stroke-width="0.9"/>
<text x="297.30" y="328.90" font-family="Liberation Sans" font-size="7.6" text-anchor="end" fill="#222">0</text>
<line x1="298.10" y1="312.45" x2="300.30" y2="312.45" stroke="#444" stroke-width="0.9"/>
<text x="297.30" y="315.15" font-family="Liberation Sans" font-size="7.6" text-anchor="end" fill="#222">1</text>
<line x1="298.10" y1="298.70" x2="300.30" y2="298.70" stroke="#444" stroke-width="0.9"/>
<text x="297.30" y="301.40" font-family="Liberation Sans" font-size="7.6" text-anchor="end" fill="#222">2</text>
<line x1="298.10" y1="284.95" x2="300.30" y2="284.95" stroke="#444" stroke-width="0.9"/>
<text x="297.30" y="287.65" font-family="Liberation Sans" font-size="7.6" text-anchor="end" fill="#222">3</text>
<line x1="298.10" y1="271.20" x2="300.30" y2="271.20" stroke="#444" stroke-width="0.9"/>
<text x="297.30" y="273.90" font-family="Liberation Sans" font-size="7.6" text-anchor="end" fill="#222">4</text>
<line x1="298.10" y1="257.45" x2="300.30" y2="257.45" stroke="#444" stroke-width="0.9"/>
<text x="297.30" y="260.15" font-family="Liberation Sans" font-size="7.6" text-anchor="end" fill="#222">5</text>
<line x1="298.10" y1="243.70" x2="300.30" y2="243.70" stroke="#444" stroke-width="0.9"/>
<text x="297.30" y="246.40" font-family="Liberation Sans" font-size="7.6" text-anchor="end" fill="#222">6</text>
<line x1="300.30" y1="326.20" x2="300.30" y2="328.40" stroke="#444" stroke-width="0.9"/>
<line x1="314.50" y1="326.20" x2="314.50" y2="328.40" stroke="#444" stroke-width="0.9"/>
<line x1="329.00" y1="326.20" x2="329.00" y2="328.40" stroke="#444" stroke-width="0.9"/>
<line x1="343.30" y1="326.20" x2="343.30" y2="328.40" stroke="#444" stroke-width="0.9"/>
<line x1="358.00" y1="326.20" x2="358.00" y2="328.40" stroke="#444" stroke-width="0.9"/>
<line x1="372.30" y1="326.20" x2="372.30" y2="328.40" stroke="#444" stroke-width="0.9"/>
<line x1="387.00" y1="326.20" x2="387.00" y2="328.40" stroke="#444" stroke-width="0.9"/>
<line x1="401.30" y1="326.20" x2="401.30" y2="328.40" stroke="#444" stroke-width="0.9"/>
<line x1="416.00" y1="326.20" x2="416.00" y2="328.40" stroke="#444" stroke-width="0.9"/>
<line x1="430.30" y1="326.20" x2="430.30" y2="328.40" stroke="#444" stroke-width="0.9"/>
<line x1="445.00" y1="326.20" x2="445.00" y2="328.40" stroke="#444" stroke-width="0.9"/>
<text x="315.30" y="338.20" font-family="Liberation Sans" font-size="6.4" text-anchor="middle" fill="#222">6:1</text>
<text x="344.10" y="338.20" font-family="Liberation Sans" font-size="6.4" text-anchor="middle" fill="#222">3:1</text>
<text x="373.10" y="338.20" font-family="Liberation Sans" font-size="6.4" text-anchor="middle" fill="#222">1.5:1</text>
<text x="402.10" y="338.20" font-family="Liberation Sans" font-size="6.4" text-anchor="middle" fill="#222">0.75:1</text>
<text x="431.10" y="338.20" font-family="Liberation Sans" font-size="6.4" text-anchor="middle" fill="#222">0.37:1</text>
<text x="366.30" y="351.20" font-family="Liberation Sans" font-size="10.3" font-weight="bold" text-anchor="middle" fill="#000">Effector: target</text>
<text x="286.60" y="291.90" font-family="Liberation Sans" font-size="10" font-weight="bold" text-anchor="middle" fill="#000" transform="rotate(-90 286.6 291.9)">% Specific lysis</text>
<line x1="314.50" y1="249.89" x2="314.50" y2="270.51" stroke="#333" stroke-width="0.9"/>
<line x1="312.80" y1="249.89" x2="316.20" y2="249.89" stroke="#333" stroke-width="0.9"/>
<line x1="312.80" y1="270.51" x2="316.20" y2="270.51" stroke="#333" stroke-width="0.9"/>
<line x1="314.50" y1="312.86" x2="314.50" y2="325.51" stroke="#333" stroke-width="0.9"/>
<line x1="312.80" y1="312.86" x2="316.20" y2="312.86" stroke="#333" stroke-width="0.9"/>
<line x1="312.80" y1="325.51" x2="316.20" y2="325.51" stroke="#333" stroke-width="0.9"/>
<line x1="343.30" y1="307.64" x2="343.30" y2="325.51" stroke="#333" stroke-width="0.9"/>
<line x1="341.60" y1="307.64" x2="345.00" y2="307.64" stroke="#333" stroke-width="0.9"/>
<line x1="341.60" y1="325.51" x2="345.00" y2="325.51" stroke="#333" stroke-width="0.9"/>
<polyline points="314.50,260.20 343.30,262.95 372.30,298.70 401.30,320.43 430.30,326.20" fill="none" stroke="#444" stroke-width="1"/>
<polyline points="314.50,320.43 343.30,317.95 372.30,325.93 401.30,322.07 430.30,325.93" fill="none" stroke="#222" stroke-width="1"/>
<rect x="312.30" y="258.00" width="4.40" height="4.40" fill="#fff" stroke="#444" stroke-width="0.9"/>
<rect x="341.10" y="260.75" width="4.40" height="4.40" fill="#fff" stroke="#444" stroke-width="0.9"/>
<rect x="370.10" y="296.50" width="4.40" height="4.40" fill="#fff" stroke="#444" stroke-width="0.9"/>
<rect x="399.10" y="318.23" width="4.40" height="4.40" fill="#fff" stroke="#444" stroke-width="0.9"/>
<rect x="428.10" y="324.00" width="4.40" height="4.40" fill="#fff" stroke="#444" stroke-width="0.9"/>
<rect x="312.10" y="318.03" width="4.80" height="4.80" fill="#000" stroke="#000" stroke-width="0.5"/>
<rect x="340.90" y="315.55" width="4.80" height="4.80" fill="#000" stroke="#000" stroke-width="0.5"/>
<rect x="369.90" y="323.53" width="4.80" height="4.80" fill="#000" stroke="#000" stroke-width="0.5"/>
<rect x="398.90" y="319.68" width="4.80" height="4.80" fill="#000" stroke="#000" stroke-width="0.5"/>
<rect x="427.90" y="323.53" width="4.80" height="4.80" fill="#000" stroke="#000" stroke-width="0.5"/>
<text x="314.60" y="308.41" font-family="Liberation Sans" font-size="11" font-weight="bold" text-anchor="middle" fill="#000">*</text>
<text x="343.30" y="308.41" font-family="Liberation Sans" font-size="11" font-weight="bold" text-anchor="middle" fill="#000">*</text>
<text x="369.30" y="320.01" font-family="Liberation Sans" font-size="11" font-weight="bold" text-anchor="middle" fill="#000">*</text>
<text x="373.40" y="320.01" font-family="Liberation Sans" font-size="11" font-weight="bold" text-anchor="middle" fill="#000">*</text>
<rect x="371.50" y="255.20" width="5.40" height="5.40" fill="#fff" stroke="#222" stroke-width="1"/>
<text x="385.00" y="261.80" font-family="Liberation Sans" font-size="10.3" font-weight="bold" text-anchor="start" fill="#000">Control</text>
<rect x="371.50" y="267.70" width="5.40" height="5.40" fill="#000" stroke="#000" stroke-width="1"/>
<text x="385.00" y="274.30" font-family="Liberation Sans" font-size="10.3" font-weight="bold" text-anchor="start" fill="#000">LPS treated</text>
<text x="260.60" y="376.80" font-family="Liberation Sans" font-size="13.5" font-weight="bold" text-anchor="start" fill="#000">F</text>
<line x1="301.30" y1="369.20" x2="301.30" y2="443.00" stroke="#444" stroke-width="1"/>
<line x1="300.80" y1="442.50" x2="443.00" y2="442.50" stroke="#444" stroke-width="1"/>
<line x1="299.10" y1="442.50" x2="301.30" y2="442.50" stroke="#444" stroke-width="0.9"/>
<text x="298.00" y="445.20" font-family="Liberation Sans" font-size="7.6" text-anchor="end" fill="#222">0</text>
<line x1="299.10" y1="432.03" x2="301.30" y2="432.03" stroke="#444" stroke-width="0.9"/>
<text x="298.00" y="434.73" font-family="Liberation Sans" font-size="7.6" text-anchor="end" fill="#222">5</text>
<line x1="299.10" y1="421.56" x2="301.30" y2="421.56" stroke="#444" stroke-width="0.9"/>
<text x="298.00" y="424.26" font-family="Liberation Sans" font-size="7.6" text-anchor="end" fill="#222">10</text>
<line x1="299.10" y1="411.09" x2="301.30" y2="411.09" stroke="#444" stroke-width="0.9"/>
<text x="298.00" y="413.79" font-family="Liberation Sans" font-size="7.6" text-anchor="end" fill="#222">15</text>
<line x1="299.10" y1="400.61" x2="301.30" y2="400.61" stroke="#444" stroke-width="0.9"/>
<text x="298.00" y="403.31" font-family="Liberation Sans" font-size="7.6" text-anchor="end" fill="#222">20</text>
<line x1="299.10" y1="390.14" x2="301.30" y2="390.14" stroke="#444" stroke-width="0.9"/>
<text x="298.00" y="392.84" font-family="Liberation Sans" font-size="7.6" text-anchor="end" fill="#222">25</text>
<line x1="299.10" y1="379.67" x2="301.30" y2="379.67" stroke="#444" stroke-width="0.9"/>
<text x="298.00" y="382.37" font-family="Liberation Sans" font-size="7.6" text-anchor="end" fill="#222">30</text>
<line x1="299.10" y1="369.20" x2="301.30" y2="369.20" stroke="#444" stroke-width="0.9"/>
<text x="298.00" y="371.90" font-family="Liberation Sans" font-size="7.6" text-anchor="end" fill="#222">35</text>
<line x1="301.30" y1="442.50" x2="301.30" y2="444.70" stroke="#444" stroke-width="0.9"/>
<line x1="329.60" y1="442.50" x2="329.60" y2="444.70" stroke="#444" stroke-width="0.9"/>
<line x1="358.20" y1="442.50" x2="358.20" y2="444.70" stroke="#444" stroke-width="0.9"/>
<line x1="386.80" y1="442.50" x2="386.80" y2="444.70" stroke="#444" stroke-width="0.9"/>
<line x1="415.30" y1="442.50" x2="415.30" y2="444.70" stroke="#444" stroke-width="0.9"/>
<line x1="443.00" y1="442.50" x2="443.00" y2="444.70" stroke="#444" stroke-width="0.9"/>
<text x="315.50" y="453.50" font-family="Liberation Sans" font-size="6.4" text-anchor="middle" fill="#222">8:1</text>
<text x="344.30" y="453.50" font-family="Liberation Sans" font-size="6.4" text-anchor="middle" fill="#222">4:1</text>
<text x="373.00" y="453.50" font-family="Liberation Sans" font-size="6.4" text-anchor="middle" fill="#222">2:1</text>
<text x="401.00" y="453.50" font-family="Liberation Sans" font-size="6.4" text-anchor="middle" fill="#222">1:1</text>
<text x="429.50" y="453.50" font-family="Liberation Sans" font-size="6.4" text-anchor="middle" fill="#222">0.5:1</text>
<text x="368.20" y="468.20" font-family="Liberation Sans" font-size="10.3" font-weight="bold" text-anchor="middle" fill="#000">Effector: target</text>
<text x="284.80" y="406.30" font-family="Liberation Sans" font-size="10" font-weight="bold" text-anchor="middle" fill="#000" transform="rotate(-90 284.8 406.3)">% Specific lysis</text>
<line x1="315.00" y1="379.25" x2="315.00" y2="399.36" stroke="#333" stroke-width="0.9"/>
<line x1="313.30" y1="379.25" x2="316.70" y2="379.25" stroke="#333" stroke-width="0.9"/>
<line x1="313.30" y1="399.36" x2="316.70" y2="399.36" stroke="#333" stroke-width="0.9"/>
<line x1="315.00" y1="401.45" x2="315.00" y2="410.67" stroke="#333" stroke-width="0.9"/>
<line x1="313.30" y1="401.45" x2="316.70" y2="401.45" stroke="#333" stroke-width="0.9"/>
<line x1="313.30" y1="410.67" x2="316.70" y2="410.67" stroke="#333" stroke-width="0.9"/>
<line x1="343.80" y1="403.13" x2="343.80" y2="415.69" stroke="#333" stroke-width="0.9"/>
<line x1="342.10" y1="403.13" x2="345.50" y2="403.13" stroke="#333" stroke-width="0.9"/>
<line x1="342.10" y1="415.69" x2="345.50" y2="415.69" stroke="#333" stroke-width="0.9"/>
<line x1="372.50" y1="419.88" x2="372.50" y2="431.61" stroke="#333" stroke-width="0.9"/>
<line x1="370.80" y1="419.88" x2="374.20" y2="419.88" stroke="#333" stroke-width="0.9"/>
<line x1="370.80" y1="431.61" x2="374.20" y2="431.61" stroke="#333" stroke-width="0.9"/>
<line x1="400.50" y1="429.93" x2="400.50" y2="435.38" stroke="#333" stroke-width="0.9"/>
<line x1="398.80" y1="429.93" x2="402.20" y2="429.93" stroke="#333" stroke-width="0.9"/>
<line x1="398.80" y1="435.38" x2="402.20" y2="435.38" stroke="#333" stroke-width="0.9"/>
<line x1="429.00" y1="433.08" x2="429.00" y2="440.41" stroke="#333" stroke-width="0.9"/>
<line x1="427.30" y1="433.08" x2="430.70" y2="433.08" stroke="#333" stroke-width="0.9"/>
<line x1="427.30" y1="440.41" x2="430.70" y2="440.41" stroke="#333" stroke-width="0.9"/>
<polyline points="315.00,389.31 343.80,409.83 372.50,425.75 400.50,433.70 429.00,438.31" fill="none" stroke="#555" stroke-width="1.2"/>
<polyline points="315.00,406.06 343.80,409.41 372.50,425.75 400.50,432.45 429.00,436.22" fill="none" stroke="#222" stroke-width="1.2"/>
<rect x="312.70" y="387.01" width="4.60" height="4.60" fill="#fff" stroke="#555" stroke-width="0.9"/>
<rect x="341.50" y="407.53" width="4.60" height="4.60" fill="#fff" stroke="#555" stroke-width="0.9"/>
<rect x="370.20" y="423.45" width="4.60" height="4.60" fill="#fff" stroke="#555" stroke-width="0.9"/>
<rect x="398.20" y="431.40" width="4.60" height="4.60" fill="#fff" stroke="#555" stroke-width="0.9"/>
<rect x="426.70" y="436.01" width="4.60" height="4.60" fill="#fff" stroke="#555" stroke-width="0.9"/>
<rect x="312.50" y="403.56" width="5.00" height="5.00" fill="#000" stroke="#000" stroke-width="0.5"/>
<rect x="341.30" y="406.91" width="5.00" height="5.00" fill="#000" stroke="#000" stroke-width="0.5"/>
<rect x="370.00" y="423.25" width="5.00" height="5.00" fill="#000" stroke="#000" stroke-width="0.5"/>
<rect x="398.00" y="429.95" width="5.00" height="5.00" fill="#000" stroke="#000" stroke-width="0.5"/>
<rect x="426.50" y="433.72" width="5.00" height="5.00" fill="#000" stroke="#000" stroke-width="0.5"/>
<rect x="376.50" y="375.70" width="5.60" height="5.60" fill="#fff" stroke="#222" stroke-width="1"/>
<text x="390.00" y="382.50" font-family="Liberation Sans" font-size="10.3" font-weight="bold" text-anchor="start" fill="#000">Control</text>
<rect x="376.50" y="388.20" width="5.60" height="5.60" fill="#000" stroke="#000" stroke-width="1"/>
<text x="390.00" y="395.00" font-family="Liberation Sans" font-size="10.3" font-weight="bold" text-anchor="start" fill="#000">LPS treated</text>
<text x="260.80" y="494.60" font-family="Liberation Sans" font-size="13.5" font-weight="bold" text-anchor="start" fill="#000">G</text>
<rect x="300.30" y="492.80" width="107.00" height="71.60" fill="#fff" stroke="#666" stroke-width="0.7"/>
<line x1="300.30" y1="492.80" x2="300.30" y2="564.90" stroke="#222" stroke-width="1"/>
<line x1="299.80" y1="564.40" x2="407.30" y2="564.40" stroke="#222" stroke-width="1"/>
<line x1="298.10" y1="564.40" x2="300.30" y2="564.40" stroke="#333" stroke-width="0.5"/>
<line x1="299.40" y1="562.16" x2="300.30" y2="562.16" stroke="#333" stroke-width="0.5"/>
<line x1="299.40" y1="559.93" x2="300.30" y2="559.93" stroke="#333" stroke-width="0.5"/>
<line x1="299.40" y1="557.69" x2="300.30" y2="557.69" stroke="#333" stroke-width="0.5"/>
<line x1="299.40" y1="555.45" x2="300.30" y2="555.45" stroke="#333" stroke-width="0.5"/>
<line x1="298.90" y1="553.22" x2="300.30" y2="553.22" stroke="#333" stroke-width="0.5"/>
<line x1="299.40" y1="550.98" x2="300.30" y2="550.98" stroke="#333" stroke-width="0.5"/>
<line x1="299.40" y1="548.74" x2="300.30" y2="548.74" stroke="#333" stroke-width="0.5"/>
<line x1="299.40" y1="546.51" x2="300.30" y2="546.51" stroke="#333" stroke-width="0.5"/>
<line x1="299.40" y1="544.27" x2="300.30" y2="544.27" stroke="#333" stroke-width="0.5"/>
<line x1="298.10" y1="542.03" x2="300.30" y2="542.03" stroke="#333" stroke-width="0.5"/>
<line x1="299.40" y1="539.80" x2="300.30" y2="539.80" stroke="#333" stroke-width="0.5"/>
<line x1="299.40" y1="537.56" x2="300.30" y2="537.56" stroke="#333" stroke-width="0.5"/>
<line x1="299.40" y1="535.32" x2="300.30" y2="535.32" stroke="#333" stroke-width="0.5"/>
<line x1="299.40" y1="533.09" x2="300.30" y2="533.09" stroke="#333" stroke-width="0.5"/>
<line x1="298.90" y1="530.85" x2="300.30" y2="530.85" stroke="#333" stroke-width="0.5"/>
<line x1="299.40" y1="528.61" x2="300.30" y2="528.61" stroke="#333" stroke-width="0.5"/>
<line x1="299.40" y1="526.38" x2="300.30" y2="526.38" stroke="#333" stroke-width="0.5"/>
<line x1="299.40" y1="524.14" x2="300.30" y2="524.14" stroke="#333" stroke-width="0.5"/>
<line x1="299.40" y1="521.90" x2="300.30" y2="521.90" stroke="#333" stroke-width="0.5"/>
<line x1="298.10" y1="519.67" x2="300.30" y2="519.67" stroke="#333" stroke-width="0.5"/>
<line x1="299.40" y1="517.43" x2="300.30" y2="517.43" stroke="#333" stroke-width="0.5"/>
<line x1="299.40" y1="515.19" x2="300.30" y2="515.19" stroke="#333" stroke-width="0.5"/>
<line x1="299.40" y1="512.96" x2="300.30" y2="512.96" stroke="#333" stroke-width="0.5"/>
<line x1="299.40" y1="510.72" x2="300.30" y2="510.72" stroke="#333" stroke-width="0.5"/>
<line x1="298.90" y1="508.48" x2="300.30" y2="508.48" stroke="#333" stroke-width="0.5"/>
<line x1="299.40" y1="506.25" x2="300.30" y2="506.25" stroke="#333" stroke-width="0.5"/>
<line x1="299.40" y1="504.01" x2="300.30" y2="504.01" stroke="#333" stroke-width="0.5"/>
<line x1="299.40" y1="501.77" x2="300.30" y2="501.77" stroke="#333" stroke-width="0.5"/>
<line x1="299.40" y1="499.54" x2="300.30" y2="499.54" stroke="#333" stroke-width="0.5"/>
<line x1="298.10" y1="497.30" x2="300.30" y2="497.30" stroke="#333" stroke-width="0.5"/>
<text transform="translate(296.10,564.40) rotate(-90)" font-family="Liberation Sans" font-size="6.6" text-anchor="middle" fill="#222">0</text>
<text transform="translate(296.10,542.03) rotate(-90)" font-family="Liberation Sans" font-size="6.6" text-anchor="middle" fill="#222">10</text>
<text transform="translate(296.10,519.67) rotate(-90)" font-family="Liberation Sans" font-size="6.6" text-anchor="middle" fill="#222">20</text>
<text transform="translate(296.10,497.30) rotate(-90)" font-family="Liberation Sans" font-size="6.6" text-anchor="middle" fill="#222">30</text>
<line x1="300.30" y1="564.40" x2="300.30" y2="566.80" stroke="#222" stroke-width="0.8"/>
<text x="300.80" y="576.30" font-family="Liberation Sans" font-size="7" text-anchor="middle" fill="#222">10<tspan font-size="5" dy="-3">0</tspan></text>
<line x1="308.35" y1="564.40" x2="308.35" y2="565.70" stroke="#444" stroke-width="0.5"/>
<line x1="313.06" y1="564.40" x2="313.06" y2="565.70" stroke="#444" stroke-width="0.5"/>
<line x1="316.41" y1="564.40" x2="316.41" y2="565.70" stroke="#444" stroke-width="0.5"/>
<line x1="319.00" y1="564.40" x2="319.00" y2="565.70" stroke="#444" stroke-width="0.5"/>
<line x1="321.12" y1="564.40" x2="321.12" y2="565.70" stroke="#444" stroke-width="0.5"/>
<line x1="322.91" y1="564.40" x2="322.91" y2="565.70" stroke="#444" stroke-width="0.5"/>
<line x1="324.46" y1="564.40" x2="324.46" y2="565.70" stroke="#444" stroke-width="0.5"/>
<line x1="325.83" y1="564.40" x2="325.83" y2="565.70" stroke="#444" stroke-width="0.5"/>
<line x1="327.05" y1="564.40" x2="327.05" y2="566.80" stroke="#222" stroke-width="0.8"/>
<text x="327.55" y="576.30" font-family="Liberation Sans" font-size="7" text-anchor="middle" fill="#222">10<tspan font-size="5" dy="-3">1</tspan></text>
<line x1="335.10" y1="564.40" x2="335.10" y2="565.70" stroke="#444" stroke-width="0.5"/>
<line x1="339.81" y1="564.40" x2="339.81" y2="565.70" stroke="#444" stroke-width="0.5"/>
<line x1="343.16" y1="564.40" x2="343.16" y2="565.70" stroke="#444" stroke-width="0.5"/>
<line x1="345.75" y1="564.40" x2="345.75" y2="565.70" stroke="#444" stroke-width="0.5"/>
<line x1="347.87" y1="564.40" x2="347.87" y2="565.70" stroke="#444" stroke-width="0.5"/>
<line x1="349.66" y1="564.40" x2="349.66" y2="565.70" stroke="#444" stroke-width="0.5"/>
<line x1="351.21" y1="564.40" x2="351.21" y2="565.70" stroke="#444" stroke-width="0.5"/>
<line x1="352.58" y1="564.40" x2="352.58" y2="565.70" stroke="#444" stroke-width="0.5"/>
<line x1="353.80" y1="564.40" x2="353.80" y2="566.80" stroke="#222" stroke-width="0.8"/>
<text x="354.30" y="576.30" font-family="Liberation Sans" font-size="7" text-anchor="middle" fill="#222">10<tspan font-size="5" dy="-3">2</tspan></text>
<line x1="361.85" y1="564.40" x2="361.85" y2="565.70" stroke="#444" stroke-width="0.5"/>
<line x1="366.56" y1="564.40" x2="366.56" y2="565.70" stroke="#444" stroke-width="0.5"/>
<line x1="369.91" y1="564.40" x2="369.91" y2="565.70" stroke="#444" stroke-width="0.5"/>
<line x1="372.50" y1="564.40" x2="372.50" y2="565.70" stroke="#444" stroke-width="0.5"/>
<line x1="374.62" y1="564.40" x2="374.62" y2="565.70" stroke="#444" stroke-width="0.5"/>
<line x1="376.41" y1="564.40" x2="376.41" y2="565.70" stroke="#444" stroke-width="0.5"/>
<line x1="377.96" y1="564.40" x2="377.96" y2="565.70" stroke="#444" stroke-width="0.5"/>
<line x1="379.33" y1="564.40" x2="379.33" y2="565.70" stroke="#444" stroke-width="0.5"/>
<line x1="380.55" y1="564.40" x2="380.55" y2="566.80" stroke="#222" stroke-width="0.8"/>
<text x="381.05" y="576.30" font-family="Liberation Sans" font-size="7" text-anchor="middle" fill="#222">10<tspan font-size="5" dy="-3">3</tspan></text>
<line x1="388.60" y1="564.40" x2="388.60" y2="565.70" stroke="#444" stroke-width="0.5"/>
<line x1="393.31" y1="564.40" x2="393.31" y2="565.70" stroke="#444" stroke-width="0.5"/>
<line x1="396.66" y1="564.40" x2="396.66" y2="565.70" stroke="#444" stroke-width="0.5"/>
<line x1="399.25" y1="564.40" x2="399.25" y2="565.70" stroke="#444" stroke-width="0.5"/>
<line x1="401.37" y1="564.40" x2="401.37" y2="565.70" stroke="#444" stroke-width="0.5"/>
<line x1="403.16" y1="564.40" x2="403.16" y2="565.70" stroke="#444" stroke-width="0.5"/>
<line x1="404.71" y1="564.40" x2="404.71" y2="565.70" stroke="#444" stroke-width="0.5"/>
<line x1="406.08" y1="564.40" x2="406.08" y2="565.70" stroke="#444" stroke-width="0.5"/>
<line x1="407.30" y1="564.40" x2="407.30" y2="566.80" stroke="#222" stroke-width="0.8"/>
<text x="407.80" y="576.30" font-family="Liberation Sans" font-size="7" text-anchor="middle" fill="#222">10<tspan font-size="5" dy="-3">4</tspan></text>
<polyline points="303.23,564.34 304.13,564.34 304.13,562.50 305.03,562.50 305.03,560.51 305.93,560.51 305.93,556.56 306.83,556.56 306.83,554.53 307.73,554.53 307.73,551.70 308.63,551.70 308.63,547.98 309.53,547.98 309.53,547.12 310.43,547.12 310.43,544.20 311.33,544.20 311.33,542.63 312.23,542.63 312.23,538.21 313.13,538.21 313.13,535.78 314.03,535.78 314.03,530.74 314.93,530.74 314.93,526.81 315.83,526.81 315.83,521.55 316.73,521.55 316.73,516.99 317.63,516.99 317.63,517.16 318.53,517.16 318.53,508.89 319.43,508.89 319.43,501.57 320.33,501.57 320.33,511.47 321.23,511.47 321.23,510.84 322.13,510.84 322.13,502.68 323.03,502.68 323.03,496.92 323.93,496.92 323.93,494.22 324.83,494.22 324.83,500.68 325.73,500.68 325.73,503.53 326.63,503.53 326.63,506.30 327.53,506.30 327.53,510.22 328.43,510.22 328.43,518.94 329.33,518.94 329.33,525.21 330.23,525.21 330.23,530.84 331.13,530.84 331.13,535.05 332.03,535.05 332.03,538.49 332.93,538.49 332.93,545.22 333.83,545.22 333.83,549.71 334.73,549.71 334.73,551.16 335.63,551.16 335.63,550.27 336.53,550.27 336.53,552.64 337.43,552.64 337.43,558.24 338.33,558.24 338.33,561.38 339.23,561.38 339.23,564.17 339.61,564.17 339.61,564.17" fill="none" stroke="#9a9a9a" stroke-width="1.6" stroke-linejoin="round"/>
<polyline points="300.49,564.17 301.39,564.17 301.39,564.17 302.29,564.17 302.29,564.17 303.19,564.17 303.19,564.17 304.09,564.17 304.09,564.17 304.99,564.17 304.99,564.17 305.89,564.17 305.89,564.17 306.79,564.17 306.79,564.17 307.69,564.17 307.69,564.17 308.59,564.17 308.59,564.17 309.49,564.17 309.49,564.17 310.39,564.17 310.39,564.17 311.29,564.17 311.29,564.17 312.19,564.17 312.19,564.17 313.09,564.17 313.09,564.17 313.99,564.17 313.99,564.17 314.89,564.17 314.89,564.17 315.79,564.17 315.79,564.17 316.69,564.17 316.69,563.99 317.59,563.99 317.59,562.56 318.49,562.56 318.49,562.52 319.39,562.52 319.39,561.97 320.29,561.97 320.29,560.98 321.19,560.98 321.19,560.01 322.09,560.01 322.09,559.82 322.99,559.82 322.99,558.21 323.89,558.21 323.89,558.28 324.79,558.28 324.79,558.23 325.69,558.23 325.69,556.76 326.59,556.76 326.59,555.40 327.49,555.40 327.49,555.15 328.39,555.15 328.39,552.64 329.29,552.64 329.29,548.64 330.19,548.64 330.19,545.13 331.09,545.13 331.09,542.32 331.99,542.32 331.99,539.35 332.89,539.35 332.89,535.21 333.79,535.21 333.79,532.03 334.69,532.03 334.69,526.86 335.59,526.86 335.59,523.41 336.49,523.41 336.49,519.98 337.39,519.98 337.39,515.07 338.29,515.07 338.29,509.15 339.19,509.15 339.19,504.93 340.09,504.93 340.09,500.13 340.99,500.13 340.99,497.96 341.89,497.96 341.89,495.23 342.79,495.23 342.79,496.67 343.69,496.67 343.69,502.18 344.59,502.18 344.59,506.22 345.49,506.22 345.49,512.63 346.39,512.63 346.39,517.67 347.29,517.67 347.29,524.65 348.19,524.65 348.19,530.56 349.09,530.56 349.09,536.79 349.99,536.79 349.99,545.22 350.89,545.22 350.89,551.03 351.79,551.03 351.79,557.96 352.69,557.96 352.69,561.91 353.59,561.91 353.59,564.17 354.02,564.17 354.02,564.17" fill="none" stroke="#111" stroke-width="0.9" stroke-linejoin="round"/>
<line x1="351.30" y1="514.60" x2="360.60" y2="514.60" stroke="#000" stroke-width="1.9"/>
<text x="364.50" y="517.50" font-family="Liberation Sans" font-size="7.3" font-weight="bold" text-anchor="start" fill="#000">Control</text>
<line x1="351.30" y1="524.90" x2="360.60" y2="524.90" stroke="#999" stroke-width="1.9"/>
<text x="364.50" y="527.80" font-family="Liberation Sans" font-size="7.3" font-weight="bold" text-anchor="start" fill="#000">LPS-treated</text>
<text x="308.8" y="489.8" font-family="Liberation Sans" font-size="8.1" font-weight="bold">NK1.1<tspan font-size="4.6" dy="-3">+</tspan><tspan dy="3">CD3</tspan><tspan font-size="4.6" dy="-3">-</tspan><tspan dy="3"> cells</tspan></text>
<text x="280.00" y="536.30" font-family="Liberation Sans" font-size="10.2" font-weight="bold" text-anchor="middle" fill="#000" transform="rotate(-90 280 536.3)">Cell counts</text>
<line x1="296.20" y1="582.50" x2="400.00" y2="582.50" stroke="#000" stroke-width="1.8"/>
<polygon points="398,579 407,582.5 398,586" fill="#000"/>
<text x="345.00" y="595.00" font-family="Liberation Sans" font-size="10.3" font-weight="bold" text-anchor="middle" fill="#000">&#950; chain</text>
</svg></body></html>
